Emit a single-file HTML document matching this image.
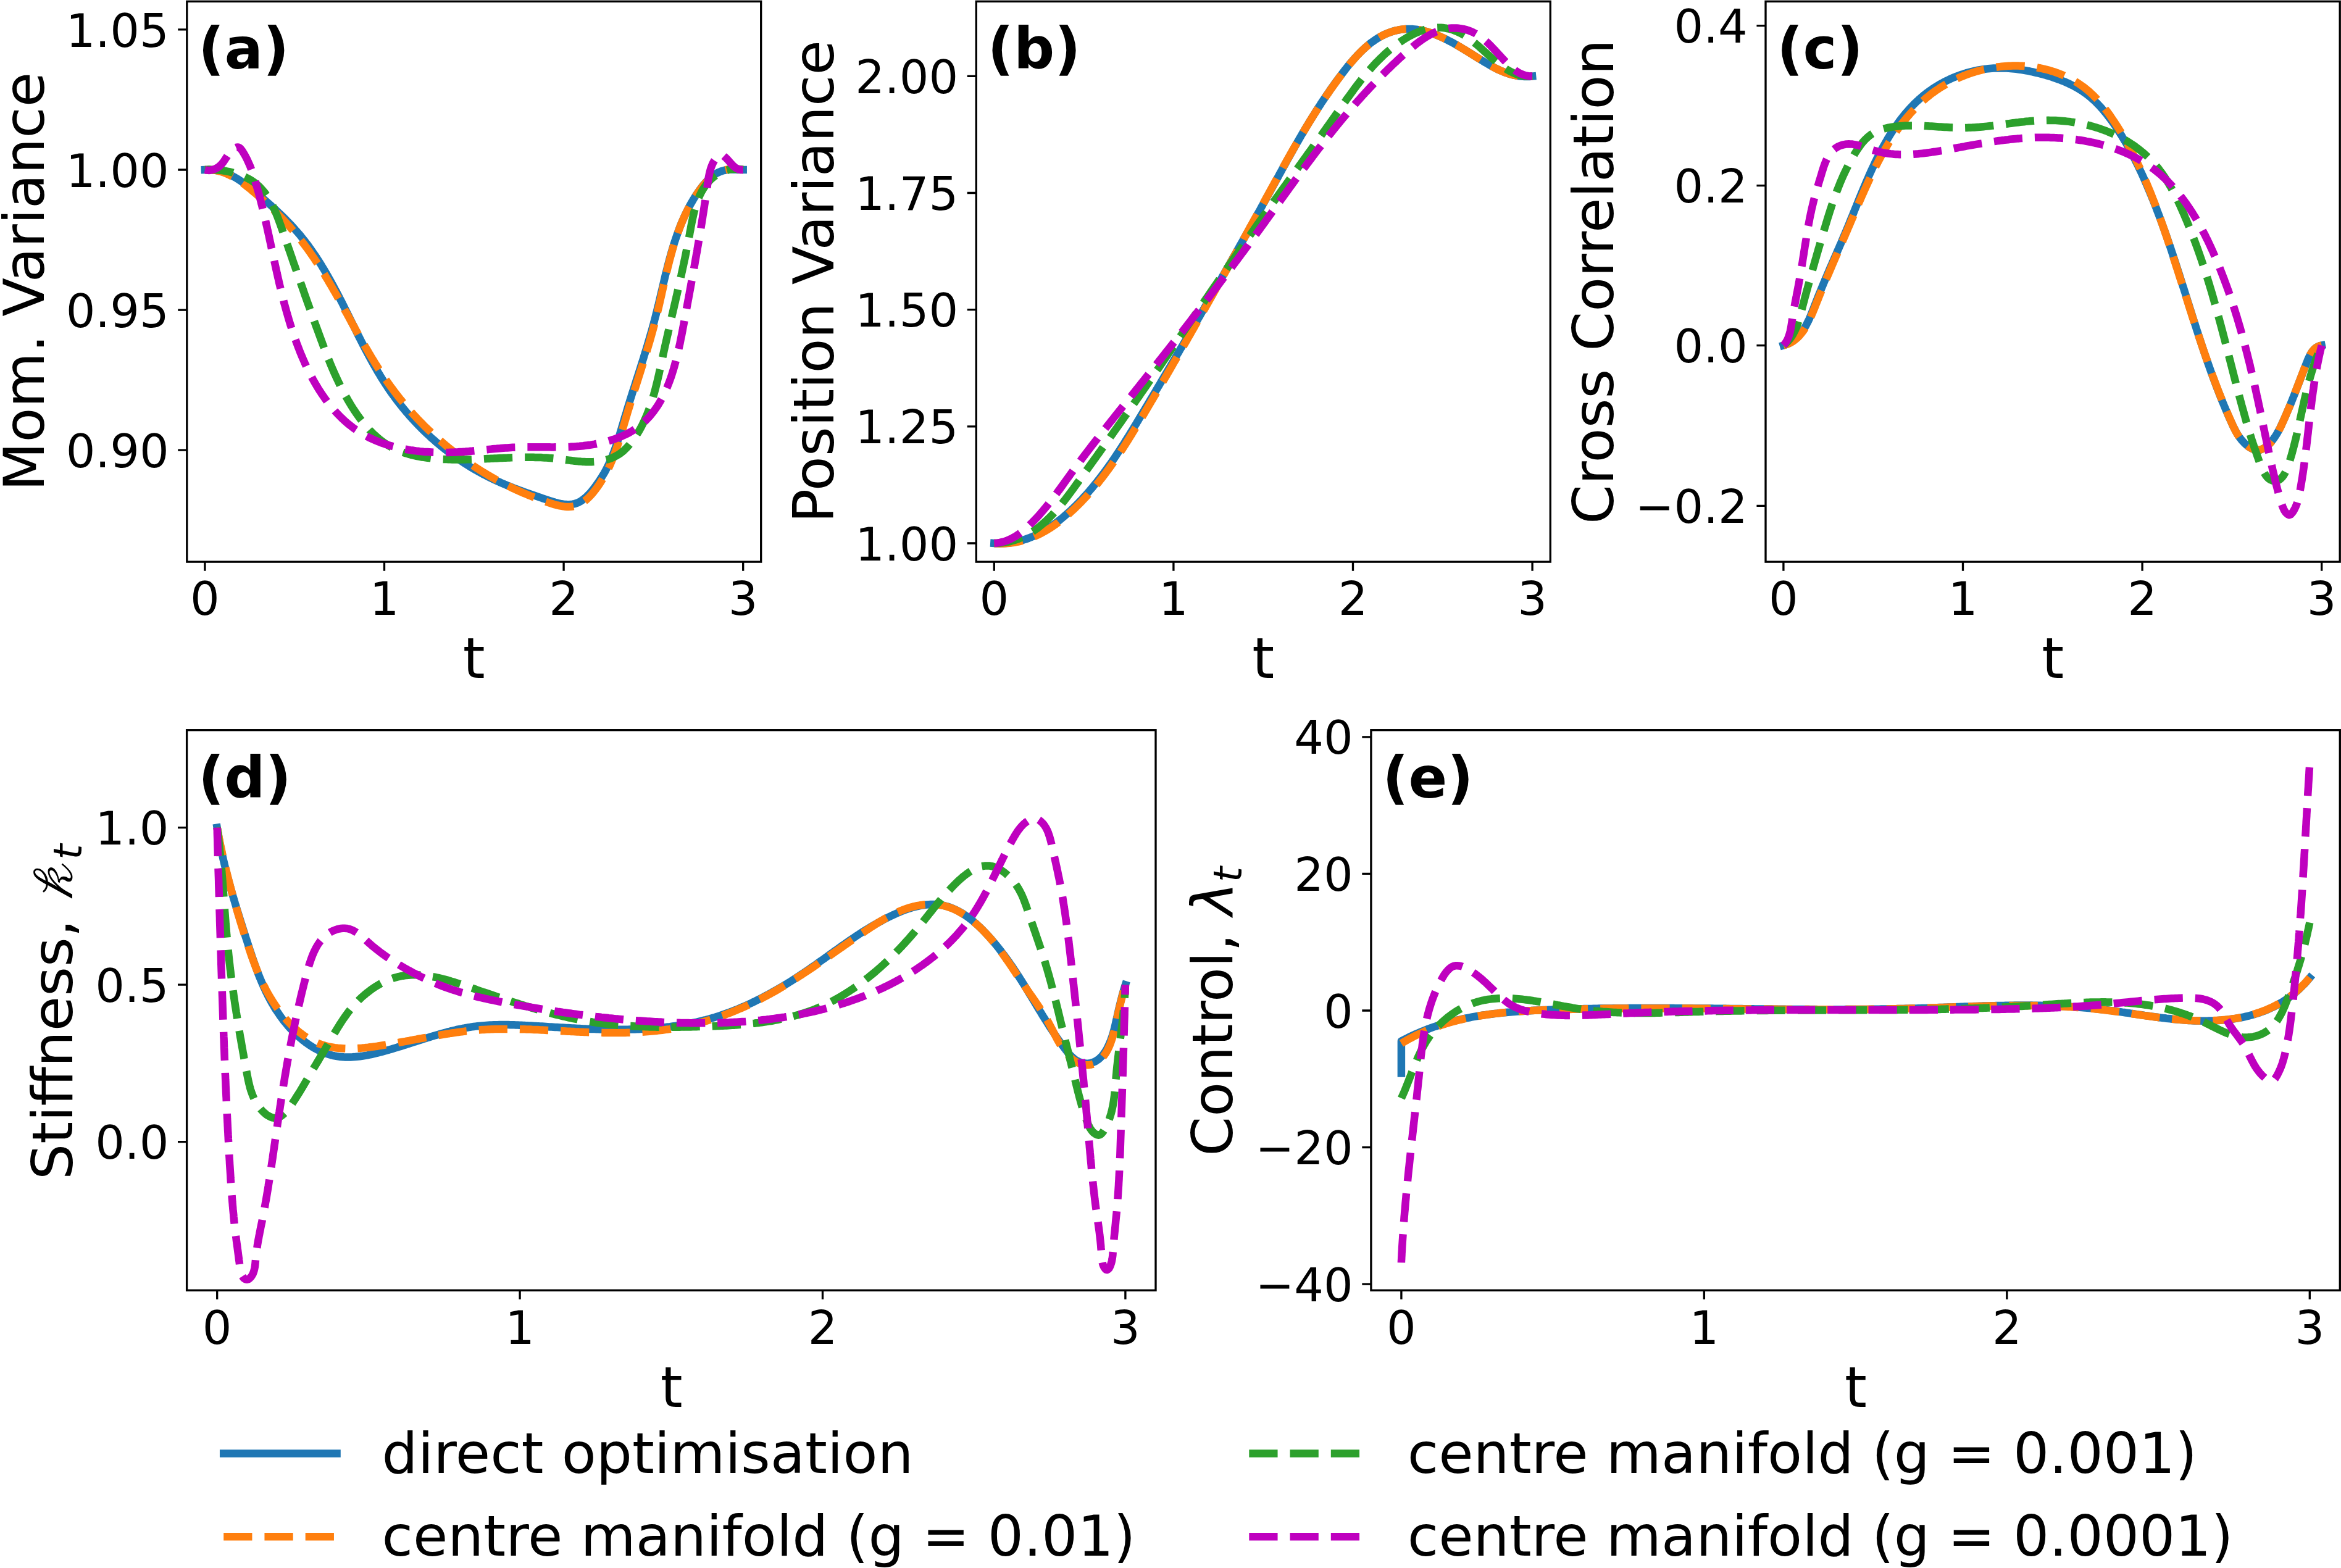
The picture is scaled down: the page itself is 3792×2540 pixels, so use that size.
<!DOCTYPE html>
<html lang="en"><head><meta charset="utf-8"><title>Figure</title>
<style>html,body{margin:0;padding:0;background:#fff}svg{display:block}text{fill:#000}</style></head><body>
<svg width="3792" height="2540" viewBox="0 0 3792 2540">
<rect width="3792" height="2540" fill="#fff"/>
<g>
<path d="M331.9 275.0L335.2 274.9L338.4 274.8L341.6 275.0L344.7 275.2L347.7 275.5L350.7 276.0L353.7 276.6L356.6 277.3L359.5 278.1L362.3 279.0L365.0 279.9L367.8 281.0L370.5 282.2L373.1 283.4L375.8 284.7L378.3 286.1L380.9 287.5L383.4 289.0L385.9 290.6L388.4 292.2L390.9 293.9L393.3 295.6L395.7 297.3L398.1 299.1L400.5 300.9L402.9 302.8L405.3 304.6L407.6 306.5L410.0 308.4L412.3 310.3L414.7 312.2L417.0 314.2L419.4 316.1L421.7 318.0L424.0 320.0L426.3 322.0L428.7 323.9L431.0 325.9L433.2 327.9L435.5 329.9L437.8 331.9L440.1 334.0L442.3 336.0L444.6 338.0L446.8 340.1L449.0 342.2L451.2 344.3L453.4 346.3L455.6 348.5L457.8 350.6L460.0 352.7L462.1 354.8L464.2 357.0L466.3 359.2L468.4 361.3L470.5 363.5L472.6 365.8L474.6 368.0L476.6 370.2L478.6 372.5L480.6 374.7L482.6 377.0L484.6 379.3L486.5 381.6L488.4 383.9L490.3 386.3L492.1 388.6L494.0 391.0L495.8 393.4L497.6 395.7L499.4 398.1L501.2 400.6L502.9 403.0L504.7 405.4L506.4 407.9L508.1 410.4L509.7 412.8L511.4 415.3L513.1 417.8L514.7 420.3L516.3 422.9L517.9 425.4L519.5 427.9L521.1 430.5L522.6 433.1L524.2 435.6L525.7 438.2L527.3 440.8L528.8 443.4L530.3 446.0L531.8 448.6L533.2 451.2L534.7 453.9L536.2 456.5L537.6 459.1L539.1 461.8L540.5 464.4L541.9 467.1L543.3 469.8L544.8 472.4L546.2 475.1L547.6 477.8L548.9 480.5L550.3 483.2L551.7 485.8L553.1 488.5L554.5 491.2L555.8 493.9L557.2 496.6L558.5 499.4L559.9 502.1L561.2 504.8L562.6 507.5L563.9 510.2L565.3 512.9L566.6 515.6L568.0 518.3L569.3 521.1L570.7 523.8L572.0 526.5L573.4 529.2L574.7 531.9L576.1 534.6L577.4 537.3L578.8 540.1L580.1 542.8L581.5 545.5L582.8 548.2L584.2 550.9L585.6 553.6L587.0 556.3L588.3 559.0L589.7 561.6L591.1 564.3L592.5 567.0L593.9 569.7L595.3 572.3L596.8 575.0L598.2 577.7L599.6 580.3L601.1 583.0L602.5 585.6L604.0 588.2L605.5 590.9L607.0 593.5L608.5 596.1L610.0 598.7L611.5 601.3L613.0 603.9L614.6 606.4L616.1 609.0L617.7 611.6L619.3 614.1L620.9 616.7L622.5 619.2L624.1 621.7L625.8 624.2L627.4 626.7L629.1 629.2L630.8 631.7L632.5 634.2L634.2 636.6L636.0 639.1L637.8 641.5L639.5 643.9L641.3 646.3L643.1 648.7L644.9 651.1L646.8 653.4L648.6 655.8L650.5 658.1L652.4 660.5L654.3 662.8L656.2 665.1L658.1 667.4L660.1 669.7L662.1 671.9L664.0 674.2L666.0 676.4L668.0 678.6L670.1 680.8L672.1 683.0L674.2 685.2L676.2 687.4L678.3 689.5L680.4 691.7L682.5 693.8L684.6 695.9L686.8 698.0L688.9 700.1L691.1 702.2L693.3 704.2L695.5 706.2L697.7 708.3L699.9 710.3L702.2 712.2L704.4 714.2L706.7 716.2L709.0 718.1L711.3 720.0L713.6 722.0L715.9 723.8L718.2 725.7L720.6 727.6L722.9 729.4L725.3 731.3L727.7 733.1L730.1 734.9L732.5 736.6L734.9 738.4L737.4 740.1L739.8 741.9L742.3 743.6L744.7 745.2L747.2 746.9L749.7 748.6L752.2 750.2L754.7 751.8L757.3 753.4L759.8 755.0L762.4 756.6L764.9 758.1L767.5 759.6L770.1 761.2L772.7 762.6L775.3 764.1L778.0 765.6L780.6 767.0L783.2 768.4L785.9 769.8L788.6 771.2L791.3 772.5L793.9 773.9L796.6 775.2L799.4 776.5L802.1 777.7L804.8 779.0L807.6 780.2L810.3 781.5L813.1 782.7L815.8 783.9L818.6 785.0L821.4 786.2L824.2 787.3L827.0 788.5L829.8 789.6L832.6 790.7L835.5 791.8L838.3 792.9L841.2 794.0L844.0 795.0L846.9 796.1L849.7 797.1L852.6 798.2L855.5 799.2L858.4 800.2L861.3 801.2L864.2 802.2L867.1 803.2L870.0 804.2L872.9 805.2L875.8 806.2L878.7 807.2L881.6 808.1L884.6 809.1L887.5 810.1L890.5 811.1L893.4 812.0L896.3 812.9L899.3 813.8L902.2 814.6L905.1 815.3L908.0 815.9L910.9 816.4L913.8 816.9L916.6 817.1L919.4 817.3L922.2 817.3L925.0 817.1L927.8 816.7L930.5 816.1L933.1 815.4L935.8 814.4L938.4 813.1L940.9 811.7L943.4 810.0L945.9 808.1L948.3 806.1L950.6 804.0L952.9 801.7L955.2 799.3L957.4 796.8L959.5 794.3L961.6 791.7L963.6 789.0L965.5 786.4L967.4 783.8L969.2 781.1L971.0 778.6L972.6 776.0L974.3 773.5L975.8 771.0L977.3 768.6L978.8 766.1L980.2 763.6L981.5 761.1L982.8 758.6L984.1 756.1L985.4 753.5L986.6 750.9L987.8 748.2L989.0 745.6L990.1 742.9L991.3 740.1L992.4 737.4L993.4 734.6L994.5 731.9L995.5 729.1L996.5 726.2L997.5 723.4L998.5 720.5L999.4 717.7L1000.4 714.8L1001.3 711.9L1002.2 709.0L1003.2 706.1L1004.1 703.2L1004.9 700.2L1005.8 697.3L1006.7 694.4L1007.6 691.4L1008.4 688.5L1009.3 685.6L1010.2 682.6L1011.1 679.7L1011.9 676.7L1012.8 673.8L1013.7 670.9L1014.6 668.0L1015.4 665.1L1016.3 662.2L1017.2 659.3L1018.1 656.4L1019.0 653.5L1019.9 650.6L1020.8 647.7L1021.7 644.8L1022.6 642.0L1023.5 639.1L1024.4 636.2L1025.3 633.4L1026.3 630.5L1027.2 627.6L1028.1 624.8L1029.0 621.9L1029.9 619.1L1030.8 616.2L1031.7 613.4L1032.6 610.5L1033.6 607.7L1034.5 604.8L1035.4 602.0L1036.3 599.2L1037.2 596.3L1038.1 593.5L1039.0 590.6L1039.9 587.8L1040.8 584.9L1041.7 582.1L1042.6 579.3L1043.4 576.4L1044.3 573.6L1045.2 570.7L1046.1 567.9L1047.0 565.0L1047.8 562.2L1048.7 559.3L1049.5 556.5L1050.4 553.6L1051.2 550.7L1052.1 547.9L1052.9 545.0L1053.7 542.1L1054.6 539.2L1055.4 536.4L1056.2 533.5L1057.0 530.6L1057.8 527.7L1058.6 524.8L1059.4 521.9L1060.1 519.0L1060.9 516.0L1061.7 513.1L1062.4 510.2L1063.1 507.3L1063.9 504.3L1064.6 501.4L1065.3 498.4L1066.0 495.5L1066.8 492.5L1067.5 489.6L1068.2 486.6L1068.9 483.6L1069.6 480.7L1070.3 477.7L1071.0 474.7L1071.7 471.8L1072.4 468.8L1073.1 465.8L1073.8 462.9L1074.5 459.9L1075.2 456.9L1075.9 453.9L1076.6 451.0L1077.3 448.0L1078.0 445.0L1078.8 442.1L1079.5 439.1L1080.3 436.2L1081.0 433.2L1081.8 430.2L1082.5 427.3L1083.3 424.4L1084.1 421.4L1084.9 418.5L1085.7 415.5L1086.5 412.6L1087.3 409.7L1088.2 406.8L1089.0 403.9L1089.9 401.0L1090.8 398.1L1091.7 395.2L1092.6 392.4L1093.6 389.5L1094.5 386.6L1095.5 383.8L1096.5 380.9L1097.5 378.1L1098.5 375.3L1099.5 372.5L1100.6 369.7L1101.7 366.9L1102.8 364.1L1103.9 361.4L1105.1 358.6L1106.3 355.9L1107.5 353.1L1108.7 350.4L1110.0 347.7L1111.2 345.1L1112.6 342.4L1113.9 339.7L1115.3 337.1L1116.6 334.5L1118.1 331.8L1119.5 329.2L1121.0 326.7L1122.5 324.1L1124.0 321.6L1125.6 319.0L1127.2 316.5L1128.9 314.0L1130.5 311.6L1132.3 309.1L1134.0 306.7L1135.8 304.3L1137.6 301.9L1139.5 299.5L1141.4 297.3L1143.4 295.0L1145.4 292.9L1147.5 290.8L1149.6 288.8L1151.8 286.9L1154.1 285.1L1156.5 283.4L1158.9 281.8L1161.4 280.4L1164.0 279.1L1166.7 278.0L1169.5 277.0L1172.4 276.1L1175.4 275.5L1178.5 275.0L1181.7 274.7L1184.9 274.6L1188.2 274.7L1191.5 274.7L1194.8 274.9L1197.9 275.0L1200.9 275.0L1203.7 275.0" fill="none" stroke="#1f77b4" stroke-width="12.50" stroke-linecap="square" stroke-linejoin="round"/>
<path d="M331.9 275.0L335.1 274.9L338.3 274.9L341.4 275.1L344.5 275.3L347.5 275.7L350.5 276.2L353.4 276.9L356.3 277.6L359.1 278.4L361.9 279.3L364.7 280.4L367.4 281.5L370.1 282.7L372.8 284.0L375.4 285.3L378.0 286.7L380.5 288.2L383.1 289.8L385.6 291.4L388.0 293.0L390.5 294.8L392.9 296.5L395.3 298.3L397.7 300.1L400.1 302.0L402.5 303.9L404.8 305.8L407.2 307.7L409.5 309.7L411.8 311.6L414.1 313.6L416.4 315.6L418.7 317.5L421.0 319.5L423.3 321.5L425.5 323.6L427.8 325.6L430.0 327.6L432.3 329.7L434.5 331.7L436.7 333.8L438.9 335.9L441.1 338.0L443.2 340.1L445.4 342.2L447.5 344.3L449.7 346.4L451.8 348.6L453.9 350.7L456.0 352.9L458.1 355.1L460.1 357.3L462.2 359.5L464.2 361.7L466.2 363.9L468.3 366.1L470.3 368.4L472.2 370.7L474.2 372.9L476.1 375.2L478.1 377.5L480.0 379.8L481.9 382.1L483.8 384.5L485.6 386.8L487.5 389.2L489.3 391.5L491.1 393.9L493.0 396.3L494.7 398.7L496.5 401.1L498.3 403.5L500.0 405.9L501.8 408.4L503.5 410.8L505.2 413.3L506.9 415.8L508.6 418.2L510.2 420.7L511.9 423.2L513.5 425.7L515.2 428.2L516.8 430.7L518.4 433.3L520.0 435.8L521.6 438.3L523.2 440.9L524.8 443.4L526.3 446.0L527.9 448.6L529.4 451.1L531.0 453.7L532.5 456.3L534.0 458.9L535.6 461.5L537.1 464.1L538.6 466.7L540.1 469.3L541.6 471.9L543.1 474.5L544.6 477.1L546.1 479.7L547.5 482.4L549.0 485.0L550.5 487.6L551.9 490.3L553.4 492.9L554.9 495.5L556.3 498.2L557.8 500.8L559.2 503.5L560.7 506.1L562.2 508.7L563.6 511.4L565.1 514.0L566.5 516.7L568.0 519.3L569.4 522.0L570.9 524.6L572.3 527.2L573.8 529.9L575.2 532.5L576.7 535.2L578.2 537.8L579.6 540.4L581.1 543.1L582.6 545.7L584.1 548.3L585.5 551.0L587.0 553.6L588.5 556.2L590.0 558.8L591.5 561.4L593.0 564.0L594.6 566.6L596.1 569.2L597.6 571.8L599.1 574.4L600.7 577.0L602.2 579.6L603.8 582.1L605.4 584.7L606.9 587.3L608.5 589.8L610.1 592.4L611.7 594.9L613.3 597.4L615.0 600.0L616.6 602.5L618.2 605.0L619.9 607.5L621.6 610.0L623.2 612.5L624.9 615.0L626.6 617.4L628.4 619.9L630.1 622.3L631.8 624.8L633.6 627.2L635.4 629.6L637.2 632.0L639.0 634.4L640.8 636.8L642.6 639.2L644.5 641.6L646.3 643.9L648.2 646.3L650.1 648.6L652.0 650.9L653.9 653.3L655.8 655.6L657.8 657.9L659.7 660.1L661.7 662.4L663.7 664.7L665.7 666.9L667.7 669.2L669.7 671.4L671.7 673.6L673.8 675.8L675.8 678.0L677.9 680.2L680.0 682.3L682.1 684.5L684.2 686.6L686.3 688.8L688.4 690.9L690.6 693.0L692.7 695.1L694.9 697.2L697.1 699.2L699.2 701.3L701.5 703.3L703.7 705.4L705.9 707.4L708.1 709.4L710.4 711.4L712.6 713.4L714.9 715.3L717.2 717.3L719.5 719.2L721.8 721.2L724.1 723.1L726.4 725.0L728.8 726.9L731.1 728.7L733.5 730.6L735.8 732.5L738.2 734.3L740.6 736.1L743.0 737.9L745.4 739.7L747.8 741.5L750.2 743.2L752.7 745.0L755.1 746.7L757.6 748.4L760.0 750.1L762.5 751.8L765.0 753.5L767.5 755.2L770.0 756.8L772.5 758.5L775.0 760.1L777.5 761.7L780.1 763.3L782.6 764.8L785.2 766.4L787.7 767.9L790.3 769.5L792.9 771.0L795.5 772.5L798.1 773.9L800.7 775.4L803.3 776.9L805.9 778.3L808.6 779.7L811.2 781.1L813.9 782.5L816.5 783.9L819.2 785.2L821.9 786.6L824.5 787.9L827.2 789.2L829.9 790.5L832.7 791.8L835.4 793.0L838.1 794.3L840.9 795.5L843.6 796.8L846.4 798.0L849.2 799.2L852.0 800.3L854.8 801.5L857.6 802.7L860.4 803.8L863.2 804.9L866.1 806.0L868.9 807.1L871.8 808.2L874.7 809.3L877.6 810.3L880.5 811.4L883.4 812.4L886.3 813.4L889.2 814.4L892.2 815.4L895.1 816.3L898.1 817.2L901.1 818.0L904.0 818.7L906.9 819.4L909.9 819.9L912.8 820.4L915.7 820.7L918.5 820.9L921.4 820.9L924.2 820.8L927.0 820.5L929.7 820.0L932.4 819.4L935.1 818.5L937.7 817.4L940.3 816.1L942.8 814.6L945.3 812.9L947.7 811.1L950.1 809.1L952.4 807.0L954.7 804.8L956.9 802.5L959.0 800.1L961.1 797.6L963.1 795.0L965.1 792.5L967.0 789.8L968.9 787.2L970.7 784.6L972.4 782.0L974.0 779.4L975.6 776.9L977.2 774.3L978.7 771.8L980.1 769.2L981.5 766.7L982.9 764.1L984.2 761.5L985.5 758.9L986.8 756.2L988.0 753.6L989.2 750.9L990.3 748.2L991.5 745.5L992.6 742.7L993.7 740.0L994.8 737.2L995.8 734.4L996.8 731.6L997.9 728.8L998.8 725.9L999.8 723.1L1000.8 720.2L1001.7 717.3L1002.6 714.5L1003.6 711.6L1004.5 708.7L1005.4 705.8L1006.2 702.9L1007.1 700.0L1008.0 697.0L1008.9 694.1L1009.7 691.2L1010.6 688.3L1011.4 685.4L1012.3 682.5L1013.2 679.5L1014.0 676.6L1014.9 673.7L1015.8 670.8L1016.6 667.9L1017.5 665.0L1018.4 662.2L1019.3 659.3L1020.2 656.4L1021.1 653.5L1021.9 650.7L1022.8 647.8L1023.7 644.9L1024.6 642.1L1025.5 639.2L1026.4 636.3L1027.3 633.5L1028.2 630.6L1029.2 627.8L1030.1 624.9L1031.0 622.1L1031.9 619.3L1032.8 616.4L1033.7 613.6L1034.6 610.7L1035.5 607.9L1036.4 605.1L1037.3 602.2L1038.2 599.4L1039.1 596.5L1040.0 593.7L1040.9 590.9L1041.8 588.0L1042.6 585.2L1043.5 582.3L1044.4 579.5L1045.3 576.6L1046.2 573.8L1047.0 570.9L1047.9 568.1L1048.7 565.2L1049.6 562.4L1050.4 559.5L1051.3 556.7L1052.1 553.8L1053.0 550.9L1053.8 548.1L1054.6 545.2L1055.4 542.3L1056.2 539.4L1057.0 536.5L1057.8 533.6L1058.6 530.7L1059.4 527.8L1060.1 524.9L1060.9 522.0L1061.7 519.1L1062.4 516.2L1063.1 513.2L1063.9 510.3L1064.6 507.3L1065.3 504.4L1066.0 501.4L1066.7 498.5L1067.4 495.5L1068.1 492.6L1068.8 489.6L1069.4 486.6L1070.1 483.6L1070.8 480.7L1071.5 477.7L1072.1 474.7L1072.8 471.7L1073.5 468.7L1074.1 465.8L1074.8 462.8L1075.5 459.8L1076.2 456.8L1076.8 453.8L1077.5 450.9L1078.2 447.9L1078.9 444.9L1079.6 441.9L1080.3 439.0L1081.0 436.0L1081.7 433.0L1082.5 430.1L1083.2 427.1L1084.0 424.2L1084.7 421.2L1085.5 418.3L1086.3 415.3L1087.1 412.4L1087.9 409.5L1088.7 406.6L1089.5 403.7L1090.4 400.8L1091.2 397.9L1092.1 395.0L1093.0 392.1L1093.9 389.2L1094.8 386.4L1095.8 383.5L1096.8 380.7L1097.8 377.9L1098.8 375.1L1099.8 372.3L1100.8 369.5L1101.9 366.7L1103.0 363.9L1104.1 361.1L1105.3 358.4L1106.4 355.7L1107.6 353.0L1108.9 350.2L1110.1 347.6L1111.4 344.9L1112.7 342.2L1114.0 339.6L1115.4 337.0L1116.8 334.3L1118.2 331.7L1119.6 329.2L1121.1 326.6L1122.6 324.1L1124.2 321.5L1125.8 319.0L1127.4 316.5L1129.1 314.1L1130.7 311.6L1132.5 309.2L1134.2 306.8L1136.0 304.4L1137.9 302.0L1139.8 299.7L1141.7 297.5L1143.7 295.3L1145.7 293.1L1147.8 291.0L1149.9 289.0L1152.2 287.1L1154.4 285.3L1156.8 283.6L1159.2 282.0L1161.6 280.6L1164.2 279.2L1166.8 278.0L1169.5 276.9L1172.3 276.0L1175.2 275.2L1178.1 274.6L1181.2 274.2L1184.3 273.9L1187.5 273.8L1190.7 273.8L1194.0 274.0L1197.2 274.2L1200.5 274.6L1203.7 275.0" fill="none" stroke="#ff7f0e" stroke-width="12.50" stroke-dasharray="46.25 20" stroke-linecap="butt" stroke-linejoin="round"/>
<path d="M331.9 275.0L334.8 274.9L337.7 274.8L340.7 274.8L343.7 274.9L346.7 275.0L349.7 275.2L352.8 275.4L355.8 275.7L358.9 276.1L361.9 276.5L365.0 277.0L368.0 277.6L371.0 278.2L374.1 278.9L377.1 279.6L380.0 280.5L383.0 281.3L385.9 282.3L388.8 283.3L391.6 284.4L394.4 285.6L397.1 286.9L399.8 288.2L402.5 289.6L405.1 291.0L407.6 292.6L410.0 294.2L412.4 295.9L414.7 297.6L416.9 299.5L419.0 301.4L421.1 303.4L423.1 305.5L425.0 307.6L426.9 309.8L428.7 312.0L430.4 314.3L432.1 316.7L433.7 319.1L435.2 321.6L436.7 324.1L438.2 326.7L439.6 329.3L441.0 331.9L442.3 334.6L443.6 337.3L444.8 340.1L446.0 342.8L447.2 345.6L448.4 348.5L449.5 351.3L450.6 354.2L451.7 357.1L452.7 360.0L453.8 362.9L454.8 365.8L455.9 368.7L456.9 371.6L457.9 374.5L458.9 377.5L459.9 380.4L460.9 383.3L461.9 386.2L462.9 389.1L463.9 392.0L465.0 394.9L466.0 397.8L467.0 400.7L468.0 403.6L469.0 406.4L470.0 409.3L471.0 412.2L472.0 415.1L473.0 417.9L473.9 420.8L474.9 423.7L475.9 426.5L476.9 429.4L477.9 432.2L478.9 435.1L479.9 437.9L480.9 440.8L481.9 443.6L482.9 446.5L483.9 449.3L484.9 452.1L485.9 455.0L486.9 457.8L487.9 460.6L488.9 463.4L489.9 466.3L490.9 469.1L491.9 471.9L492.8 474.7L493.8 477.6L494.8 480.4L495.8 483.2L496.8 486.0L497.8 488.8L498.8 491.6L499.8 494.4L500.8 497.2L501.8 500.0L502.8 502.8L503.9 505.6L504.9 508.4L505.9 511.3L506.9 514.1L507.9 516.9L508.9 519.7L509.9 522.5L510.9 525.3L511.9 528.0L512.9 530.8L514.0 533.6L515.0 536.4L516.0 539.2L517.0 542.0L518.1 544.8L519.1 547.6L520.1 550.4L521.2 553.2L522.2 556.0L523.2 558.8L524.3 561.6L525.3 564.4L526.4 567.2L527.5 570.0L528.6 572.7L529.6 575.5L530.7 578.3L531.8 581.1L533.0 583.9L534.1 586.6L535.2 589.4L536.4 592.2L537.5 594.9L538.7 597.7L539.9 600.4L541.1 603.2L542.3 605.9L543.6 608.7L544.8 611.4L546.1 614.2L547.4 616.9L548.7 619.6L550.0 622.3L551.3 625.1L552.7 627.8L554.1 630.5L555.5 633.2L556.9 635.9L558.3 638.6L559.8 641.3L561.3 643.9L562.8 646.6L564.3 649.3L565.9 651.9L567.5 654.6L569.1 657.2L570.7 659.8L572.4 662.4L574.1 665.0L575.8 667.5L577.5 670.1L579.3 672.6L581.1 675.1L582.9 677.6L584.7 680.0L586.6 682.4L588.5 684.8L590.4 687.2L592.4 689.5L594.4 691.8L596.4 694.0L598.4 696.3L600.5 698.4L602.6 700.6L604.8 702.7L606.9 704.7L609.1 706.7L611.4 708.7L613.6 710.6L615.9 712.4L618.3 714.2L620.6 716.0L623.0 717.7L625.5 719.3L627.9 720.9L630.4 722.4L633.0 723.9L635.5 725.3L638.2 726.6L640.8 727.9L643.5 729.1L646.2 730.2L648.9 731.3L651.7 732.4L654.5 733.3L657.3 734.3L660.1 735.1L663.0 736.0L665.9 736.8L668.8 737.5L671.7 738.2L674.6 738.8L677.6 739.4L680.6 739.9L683.6 740.5L686.6 740.9L689.6 741.4L692.6 741.8L695.6 742.1L698.7 742.5L701.7 742.8L704.8 743.0L707.8 743.3L710.9 743.5L714.0 743.7L717.0 743.9L720.1 744.0L723.1 744.1L726.2 744.2L729.2 744.3L732.2 744.4L735.3 744.4L738.3 744.4L741.3 744.5L744.4 744.5L747.4 744.4L750.4 744.4L753.4 744.4L756.4 744.3L759.5 744.2L762.5 744.2L765.5 744.1L768.5 744.0L771.5 743.9L774.5 743.8L777.5 743.6L780.5 743.5L783.5 743.4L786.5 743.2L789.5 743.1L792.4 743.0L795.4 742.8L798.4 742.7L801.4 742.5L804.4 742.4L807.4 742.2L810.4 742.1L813.3 742.0L816.3 741.8L819.3 741.7L822.3 741.6L825.2 741.4L828.2 741.3L831.2 741.2L834.2 741.1L837.1 741.0L840.1 740.9L843.1 740.9L846.1 740.8L849.1 740.8L852.0 740.8L855.0 740.7L858.0 740.7L861.0 740.8L864.0 740.8L867.0 740.9L870.0 740.9L873.0 741.0L876.0 741.1L879.0 741.3L882.0 741.4L885.0 741.6L888.0 741.8L891.1 742.1L894.1 742.3L897.2 742.6L900.2 743.0L903.3 743.3L906.3 743.7L909.4 744.1L912.5 744.5L915.5 744.9L918.6 745.3L921.7 745.6L924.8 746.0L927.9 746.4L930.9 746.8L934.0 747.1L937.1 747.4L940.2 747.6L943.2 747.9L946.3 748.0L949.3 748.2L952.4 748.2L955.4 748.2L958.4 748.2L961.5 748.1L964.5 747.9L967.5 747.6L970.4 747.2L973.4 746.8L976.3 746.2L979.2 745.6L982.1 744.9L985.0 744.0L987.7 743.1L990.5 742.1L993.2 740.9L995.8 739.7L998.4 738.3L1000.9 736.9L1003.4 735.3L1005.8 733.6L1008.1 731.8L1010.3 729.9L1012.5 727.8L1014.6 725.8L1016.6 723.6L1018.6 721.4L1020.5 719.1L1022.4 716.8L1024.2 714.4L1026.0 712.1L1027.7 709.6L1029.4 707.2L1031.0 704.7L1032.6 702.2L1034.1 699.7L1035.6 697.2L1037.1 694.6L1038.5 692.0L1039.9 689.4L1041.2 686.7L1042.5 684.0L1043.8 681.3L1045.0 678.6L1046.2 675.9L1047.4 673.1L1048.5 670.4L1049.6 667.6L1050.7 664.7L1051.8 661.9L1052.8 659.1L1053.8 656.2L1054.7 653.3L1055.6 650.4L1056.6 647.5L1057.5 644.6L1058.3 641.7L1059.2 638.7L1060.0 635.8L1060.8 632.8L1061.6 629.9L1062.4 626.9L1063.1 623.9L1063.9 620.9L1064.6 617.9L1065.3 614.9L1066.0 611.9L1066.7 608.9L1067.4 605.9L1068.0 602.9L1068.7 599.9L1069.4 596.9L1070.0 593.9L1070.7 590.9L1071.3 587.9L1072.0 584.9L1072.6 581.9L1073.3 578.9L1073.9 576.0L1074.5 573.0L1075.2 570.0L1075.8 567.1L1076.5 564.1L1077.1 561.2L1077.8 558.2L1078.5 555.3L1079.1 552.3L1079.8 549.4L1080.4 546.5L1081.1 543.6L1081.8 540.7L1082.4 537.8L1083.1 534.8L1083.7 531.9L1084.4 529.0L1085.1 526.2L1085.7 523.3L1086.4 520.4L1087.1 517.5L1087.7 514.6L1088.4 511.7L1089.1 508.8L1089.8 506.0L1090.4 503.1L1091.1 500.2L1091.8 497.3L1092.4 494.4L1093.1 491.6L1093.8 488.7L1094.4 485.8L1095.1 482.9L1095.7 480.1L1096.4 477.2L1097.1 474.3L1097.7 471.4L1098.4 468.5L1099.0 465.6L1099.7 462.7L1100.3 459.9L1101.0 457.0L1101.6 454.1L1102.3 451.2L1102.9 448.3L1103.6 445.3L1104.2 442.4L1104.9 439.5L1105.5 436.6L1106.1 433.7L1106.8 430.7L1107.4 427.8L1108.0 424.9L1108.6 421.9L1109.3 419.0L1109.9 416.0L1110.5 413.0L1111.1 410.1L1111.7 407.1L1112.3 404.1L1112.9 401.1L1113.5 398.1L1114.1 395.1L1114.7 392.0L1115.2 389.0L1115.8 386.0L1116.4 382.9L1117.0 379.9L1117.5 376.8L1118.1 373.7L1118.7 370.7L1119.2 367.6L1119.8 364.5L1120.4 361.4L1121.0 358.4L1121.7 355.3L1122.3 352.3L1123.0 349.2L1123.7 346.2L1124.4 343.2L1125.2 340.3L1126.0 337.3L1126.9 334.4L1127.8 331.5L1128.7 328.6L1129.7 325.8L1130.8 323.0L1131.9 320.3L1133.0 317.6L1134.3 314.9L1135.6 312.3L1136.9 309.7L1138.4 307.2L1139.9 304.8L1141.5 302.4L1143.2 300.0L1144.9 297.8L1146.8 295.5L1148.7 293.4L1150.8 291.3L1152.9 289.3L1155.1 287.4L1157.4 285.6L1159.8 283.9L1162.3 282.3L1164.8 280.8L1167.4 279.5L1170.1 278.2L1172.9 277.1L1175.7 276.2L1178.6 275.4L1181.5 274.7L1184.5 274.2L1187.6 273.9L1190.7 273.7L1193.9 273.7L1197.1 274.0L1200.4 274.4L1203.7 275.0" fill="none" stroke="#2ca02c" stroke-width="12.50" stroke-dasharray="46.25 20" stroke-linecap="butt" stroke-linejoin="round"/>
<path d="M331.9 275.0L334.8 275.6L337.8 275.9L340.8 275.7L343.8 275.1L346.7 274.2L349.6 273.0L352.3 271.5L354.8 269.8L357.1 267.8L359.2 265.6L361.1 263.3L362.9 260.8L364.6 258.3L366.2 255.7L367.9 253.2L369.5 250.6L371.3 248.2L373.2 245.8L375.3 243.6L377.7 241.6L380.2 239.9L382.9 238.7L385.5 238.4L387.8 239.3L389.9 241.1L391.9 243.6L393.7 246.4L395.4 249.2L397.0 252.1L398.5 254.9L400.0 257.7L401.3 260.6L402.6 263.5L403.9 266.3L405.1 269.2L406.2 272.0L407.3 274.9L408.3 277.7L409.3 280.6L410.3 283.5L411.2 286.3L412.1 289.2L413.0 292.1L413.9 295.0L414.7 297.8L415.5 300.7L416.4 303.6L417.2 306.5L418.0 309.3L418.8 312.2L419.6 315.1L420.3 318.0L421.1 320.9L421.9 323.8L422.6 326.6L423.3 329.5L424.1 332.4L424.8 335.3L425.5 338.2L426.2 341.1L426.9 344.0L427.6 346.9L428.3 349.8L428.9 352.6L429.6 355.5L430.3 358.4L430.9 361.3L431.6 364.2L432.3 367.1L432.9 370.0L433.5 372.9L434.2 375.8L434.8 378.7L435.5 381.6L436.1 384.5L436.7 387.4L437.3 390.3L438.0 393.2L438.6 396.1L439.2 399.0L439.8 402.0L440.5 404.9L441.1 407.8L441.7 410.7L442.3 413.6L443.0 416.5L443.6 419.4L444.2 422.3L444.9 425.2L445.5 428.1L446.1 431.0L446.8 434.0L447.4 436.9L448.1 439.8L448.7 442.7L449.4 445.6L450.0 448.5L450.7 451.4L451.4 454.4L452.0 457.3L452.7 460.2L453.4 463.1L454.1 466.0L454.8 468.9L455.5 471.8L456.2 474.8L457.0 477.7L457.7 480.6L458.4 483.5L459.2 486.4L459.9 489.3L460.7 492.3L461.5 495.2L462.3 498.1L463.1 501.0L463.9 503.9L464.7 506.8L465.6 509.8L466.4 512.7L467.3 515.6L468.1 518.5L469.0 521.4L469.9 524.4L470.8 527.3L471.8 530.2L472.7 533.1L473.7 536.0L474.6 538.9L475.6 541.9L476.6 544.8L477.6 547.7L478.7 550.6L479.7 553.5L480.8 556.4L481.9 559.3L483.0 562.2L484.1 565.0L485.2 567.9L486.3 570.8L487.5 573.6L488.7 576.5L489.9 579.3L491.1 582.1L492.4 585.0L493.6 587.8L494.9 590.6L496.2 593.4L497.5 596.1L498.8 598.9L500.2 601.6L501.6 604.4L502.9 607.1L504.4 609.8L505.8 612.5L507.2 615.1L508.7 617.8L510.2 620.4L511.7 623.0L513.3 625.6L514.8 628.2L516.4 630.8L518.0 633.3L519.7 635.8L521.3 638.3L523.0 640.8L524.7 643.2L526.4 645.7L528.2 648.1L529.9 650.5L531.7 652.8L533.6 655.1L535.4 657.4L537.3 659.7L539.2 662.0L541.1 664.2L543.0 666.4L545.0 668.5L547.0 670.6L549.0 672.7L551.1 674.8L553.2 676.9L555.3 678.9L557.4 680.8L559.6 682.8L561.7 684.7L564.0 686.6L566.2 688.4L568.5 690.2L570.8 692.0L573.1 693.7L575.5 695.4L577.9 697.0L580.3 698.6L582.7 700.2L585.2 701.8L587.7 703.3L590.2 704.7L592.8 706.1L595.4 707.5L598.0 708.8L600.7 710.1L603.4 711.4L606.1 712.6L608.8 713.8L611.6 714.9L614.4 716.0L617.2 717.1L620.0 718.1L622.9 719.0L625.8 720.0L628.7 720.9L631.6 721.8L634.5 722.6L637.5 723.4L640.4 724.2L643.4 724.9L646.4 725.6L649.4 726.2L652.4 726.9L655.5 727.5L658.5 728.0L661.6 728.6L664.7 729.1L667.7 729.5L670.8 730.0L673.9 730.4L677.0 730.7L680.1 731.1L683.2 731.4L686.3 731.7L689.4 731.9L692.5 732.1L695.6 732.3L698.7 732.5L701.8 732.7L704.9 732.8L708.0 732.9L711.1 732.9L714.2 733.0L717.3 733.0L720.4 733.0L723.4 732.9L726.5 732.9L729.5 732.8L732.6 732.7L735.6 732.6L738.6 732.4L741.6 732.3L744.7 732.1L747.7 731.9L750.7 731.7L753.6 731.5L756.6 731.2L759.6 731.0L762.6 730.7L765.6 730.5L768.5 730.2L771.5 729.9L774.5 729.6L777.4 729.3L780.4 729.0L783.3 728.8L786.3 728.5L789.2 728.2L792.2 727.9L795.1 727.6L798.0 727.3L801.0 727.0L803.9 726.8L806.9 726.5L809.8 726.3L812.7 726.0L815.7 725.8L818.6 725.6L821.6 725.4L824.5 725.2L827.5 725.0L830.4 724.8L833.4 724.7L836.4 724.6L839.3 724.5L842.3 724.4L845.3 724.3L848.2 724.3L851.2 724.2L854.2 724.2L857.2 724.2L860.2 724.2L863.2 724.2L866.2 724.2L869.1 724.2L872.1 724.2L875.1 724.3L878.2 724.3L881.2 724.3L884.2 724.3L887.2 724.3L890.2 724.3L893.2 724.4L896.2 724.4L899.2 724.3L902.2 724.3L905.3 724.3L908.3 724.2L911.3 724.2L914.3 724.1L917.4 724.0L920.4 723.9L923.4 723.8L926.4 723.6L929.5 723.4L932.5 723.2L935.5 723.0L938.6 722.8L941.6 722.5L944.6 722.2L947.7 721.8L950.7 721.4L953.7 721.0L956.8 720.6L959.8 720.1L962.8 719.6L965.9 719.0L968.9 718.4L971.9 717.8L975.0 717.1L978.0 716.4L981.0 715.6L984.0 714.8L987.0 713.9L989.9 713.0L992.9 712.1L995.8 711.1L998.7 710.0L1001.6 708.9L1004.4 707.8L1007.3 706.6L1010.0 705.4L1012.8 704.1L1015.5 702.8L1018.1 701.4L1020.8 700.0L1023.3 698.5L1025.8 697.0L1028.3 695.4L1030.7 693.7L1033.1 692.0L1035.4 690.3L1037.7 688.5L1039.9 686.7L1042.0 684.8L1044.1 682.9L1046.2 680.9L1048.2 678.9L1050.1 676.8L1052.1 674.7L1053.9 672.5L1055.7 670.3L1057.5 668.1L1059.3 665.8L1060.9 663.5L1062.6 661.1L1064.2 658.8L1065.8 656.3L1067.3 653.9L1068.8 651.4L1070.2 648.9L1071.6 646.3L1073.0 643.7L1074.4 641.1L1075.7 638.4L1076.9 635.8L1078.2 633.1L1079.4 630.3L1080.6 627.6L1081.7 624.8L1082.8 622.0L1083.9 619.2L1085.0 616.3L1086.0 613.5L1087.0 610.6L1088.0 607.7L1088.9 604.7L1089.8 601.8L1090.8 598.8L1091.6 595.9L1092.5 592.9L1093.3 589.9L1094.1 586.9L1094.9 583.9L1095.7 580.8L1096.5 577.8L1097.2 574.7L1097.9 571.7L1098.7 568.6L1099.3 565.5L1100.0 562.5L1100.7 559.4L1101.4 556.3L1102.0 553.2L1102.6 550.1L1103.2 547.1L1103.9 544.0L1104.5 540.9L1105.1 537.8L1105.7 534.7L1106.2 531.7L1106.8 528.6L1107.4 525.6L1108.0 522.5L1108.5 519.5L1109.1 516.4L1109.7 513.4L1110.2 510.4L1110.8 507.4L1111.3 504.4L1111.9 501.4L1112.4 498.4L1113.0 495.5L1113.5 492.5L1114.1 489.5L1114.6 486.6L1115.2 483.7L1115.7 480.7L1116.3 477.8L1116.8 474.9L1117.3 471.9L1117.9 469.0L1118.4 466.1L1118.9 463.2L1119.5 460.3L1120.0 457.4L1120.5 454.5L1121.1 451.6L1121.6 448.7L1122.1 445.9L1122.6 443.0L1123.1 440.1L1123.7 437.2L1124.2 434.3L1124.7 431.5L1125.2 428.6L1125.7 425.7L1126.2 422.8L1126.7 419.9L1127.2 417.1L1127.7 414.2L1128.2 411.3L1128.8 408.4L1129.3 405.5L1129.7 402.7L1130.2 399.8L1130.7 396.9L1131.2 394.0L1131.7 391.1L1132.2 388.2L1132.7 385.3L1133.2 382.4L1133.7 379.4L1134.2 376.5L1134.6 373.6L1135.1 370.7L1135.6 367.7L1136.1 364.8L1136.6 361.8L1137.0 358.9L1137.5 355.9L1138.0 352.9L1138.4 349.9L1138.9 346.9L1139.4 343.9L1139.9 340.9L1140.3 337.9L1140.8 334.9L1141.2 331.9L1141.7 328.8L1142.2 325.8L1142.6 322.7L1143.1 319.6L1143.5 316.5L1144.0 313.4L1144.4 310.3L1144.9 307.2L1145.3 304.0L1145.8 300.9L1146.2 297.7L1146.7 294.6L1147.2 291.4L1147.7 288.3L1148.3 285.2L1148.9 282.1L1149.6 279.1L1150.4 276.1L1151.2 273.2L1152.2 270.3L1153.3 267.6L1154.5 264.9L1155.8 262.3L1157.2 259.9L1158.9 257.6L1160.6 255.3L1162.6 253.3L1164.7 251.4L1167.1 250.4L1169.8 251.0L1172.5 252.8L1175.1 255.1L1177.6 257.5L1179.8 259.9L1181.9 262.3L1183.9 264.6L1185.9 266.8L1187.9 268.9L1190.1 270.7L1192.3 272.3L1194.7 273.6L1197.4 274.5L1200.4 275.0L1203.7 275.0" fill="none" stroke="#bf00bf" stroke-width="12.50" stroke-dasharray="46.25 20" stroke-linecap="butt" stroke-linejoin="round"/>
<rect x="302.80" y="2.30" width="929.90" height="907.80" fill="none" stroke="#000" stroke-width="3.333" stroke-linejoin="miter"/>
<path d="M331.90 910.10v14.58M622.50 910.10v14.58M913.10 910.10v14.58M1203.70 910.10v14.58M302.80 47.90h-14.58M302.80 275.00h-14.58M302.80 502.10h-14.58M302.80 729.20h-14.58" stroke="#000" stroke-width="3.333" fill="none"/>
<g font-family='"DejaVu Sans","Liberation Sans",sans-serif' font-size="75.00" fill="#000">
<text x="331.90" y="995.77" text-anchor="middle">0</text>
<text x="622.50" y="995.77" text-anchor="middle">1</text>
<text x="913.10" y="995.77" text-anchor="middle">2</text>
<text x="1203.70" y="995.77" text-anchor="middle">3</text>
<text x="273.63" y="75.50" text-anchor="end">1.05</text>
<text x="273.63" y="302.60" text-anchor="end">1.00</text>
<text x="273.63" y="529.70" text-anchor="end">0.95</text>
<text x="273.63" y="756.80" text-anchor="end">0.90</text>
</g>
<text x="767.75" y="1097.90" text-anchor="middle" font-family='"DejaVu Sans","Liberation Sans",sans-serif' font-size="91.67">t</text>
<text transform="translate(70.50 456.20) rotate(-90)" text-anchor="middle" font-family='"DejaVu Sans","Liberation Sans",sans-serif' font-size="91.67">Mom. Variance</text>
<text x="321.10" y="111.10" font-family='"DejaVu Sans","Liberation Sans",sans-serif' font-weight="bold" font-size="92.58">(a)</text>
</g>
<g>
<path d="M1610.3 880.0L1613.5 880.2L1616.6 880.3L1619.8 880.4L1622.9 880.3L1626.0 880.2L1629.1 880.0L1632.1 879.8L1635.1 879.5L1638.1 879.1L1641.1 878.6L1644.1 878.1L1647.0 877.5L1649.9 876.8L1652.8 876.1L1655.7 875.3L1658.5 874.4L1661.3 873.5L1664.1 872.5L1666.9 871.5L1669.7 870.4L1672.4 869.3L1675.1 868.1L1677.8 866.9L1680.5 865.6L1683.1 864.2L1685.8 862.9L1688.4 861.4L1691.0 859.9L1693.5 858.4L1696.1 856.9L1698.6 855.3L1701.1 853.6L1703.6 851.9L1706.0 850.2L1708.5 848.5L1710.9 846.7L1713.3 844.9L1715.7 843.0L1718.1 841.1L1720.4 839.2L1722.7 837.3L1725.0 835.3L1727.3 833.3L1729.6 831.3L1731.8 829.3L1734.1 827.2L1736.3 825.1L1738.5 823.0L1740.6 820.9L1742.8 818.8L1744.9 816.7L1747.0 814.5L1749.1 812.3L1751.2 810.2L1753.3 808.0L1755.3 805.7L1757.3 803.5L1759.4 801.3L1761.4 799.0L1763.3 796.8L1765.3 794.5L1767.2 792.2L1769.2 790.0L1771.1 787.6L1773.0 785.3L1774.9 783.0L1776.8 780.7L1778.6 778.3L1780.5 776.0L1782.3 773.6L1784.1 771.2L1785.9 768.8L1787.7 766.5L1789.5 764.1L1791.3 761.6L1793.0 759.2L1794.8 756.8L1796.5 754.4L1798.3 751.9L1800.0 749.5L1801.7 747.0L1803.4 744.5L1805.1 742.1L1806.8 739.6L1808.4 737.1L1810.1 734.6L1811.8 732.1L1813.4 729.6L1815.0 727.1L1816.7 724.6L1818.3 722.0L1819.9 719.5L1821.5 717.0L1823.1 714.4L1824.7 711.9L1826.3 709.3L1827.9 706.8L1829.5 704.2L1831.1 701.7L1832.7 699.1L1834.2 696.5L1835.8 694.0L1837.4 691.4L1838.9 688.8L1840.5 686.3L1842.0 683.7L1843.6 681.1L1845.1 678.5L1846.7 675.9L1848.2 673.3L1849.8 670.7L1851.3 668.2L1852.9 665.6L1854.4 663.0L1856.0 660.4L1857.5 657.8L1859.1 655.2L1860.6 652.6L1862.1 650.0L1863.7 647.4L1865.2 644.8L1866.8 642.2L1868.3 639.7L1869.9 637.1L1871.4 634.5L1872.9 631.9L1874.5 629.3L1876.0 626.7L1877.6 624.1L1879.1 621.5L1880.6 618.9L1882.2 616.3L1883.7 613.7L1885.2 611.1L1886.8 608.5L1888.3 605.9L1889.9 603.3L1891.4 600.7L1892.9 598.1L1894.5 595.5L1896.0 592.9L1897.5 590.3L1899.1 587.7L1900.6 585.1L1902.1 582.5L1903.7 579.9L1905.2 577.3L1906.7 574.7L1908.2 572.1L1909.8 569.5L1911.3 566.8L1912.8 564.2L1914.4 561.6L1915.9 559.0L1917.4 556.4L1918.9 553.8L1920.5 551.2L1922.0 548.6L1923.5 546.0L1925.0 543.4L1926.6 540.8L1928.1 538.2L1929.6 535.6L1931.1 532.9L1932.6 530.3L1934.2 527.7L1935.7 525.1L1937.2 522.5L1938.7 519.9L1940.2 517.3L1941.7 514.7L1943.3 512.1L1944.8 509.5L1946.3 506.8L1947.8 504.2L1949.3 501.6L1950.8 499.0L1952.3 496.4L1953.8 493.8L1955.4 491.2L1956.9 488.6L1958.4 485.9L1959.9 483.3L1961.4 480.7L1962.9 478.1L1964.4 475.5L1965.9 472.9L1967.4 470.3L1968.9 467.6L1970.4 465.0L1971.9 462.4L1973.4 459.8L1974.9 457.2L1976.4 454.6L1977.9 452.0L1979.4 449.3L1980.9 446.7L1982.4 444.1L1983.8 441.5L1985.3 438.9L1986.8 436.3L1988.3 433.6L1989.8 431.0L1991.3 428.4L1992.8 425.8L1994.3 423.2L1995.7 420.6L1997.2 417.9L1998.7 415.3L2000.2 412.7L2001.7 410.1L2003.1 407.5L2004.6 404.9L2006.1 402.2L2007.6 399.6L2009.0 397.0L2010.5 394.4L2012.0 391.8L2013.5 389.2L2014.9 386.5L2016.4 383.9L2017.9 381.3L2019.3 378.7L2020.8 376.1L2022.3 373.5L2023.7 370.8L2025.2 368.2L2026.6 365.6L2028.1 363.0L2029.6 360.4L2031.0 357.8L2032.5 355.1L2033.9 352.5L2035.4 349.9L2036.8 347.3L2038.3 344.7L2039.7 342.1L2041.2 339.5L2042.6 336.8L2044.1 334.2L2045.5 331.6L2047.0 329.0L2048.4 326.4L2049.8 323.8L2051.3 321.1L2052.7 318.5L2054.2 315.9L2055.6 313.3L2057.0 310.7L2058.5 308.1L2059.9 305.5L2061.3 302.8L2062.7 300.2L2064.2 297.6L2065.6 295.0L2067.0 292.4L2068.5 289.8L2069.9 287.2L2071.3 284.6L2072.7 281.9L2074.2 279.3L2075.6 276.7L2077.0 274.1L2078.5 271.5L2079.9 268.9L2081.4 266.3L2082.8 263.7L2084.2 261.1L2085.7 258.5L2087.1 255.9L2088.6 253.3L2090.0 250.7L2091.5 248.1L2093.0 245.5L2094.4 242.9L2095.9 240.3L2097.4 237.7L2098.9 235.1L2100.3 232.5L2101.8 229.9L2103.3 227.3L2104.8 224.7L2106.3 222.1L2107.8 219.5L2109.3 216.9L2110.9 214.4L2112.4 211.8L2113.9 209.2L2115.5 206.6L2117.0 204.0L2118.6 201.5L2120.1 198.9L2121.7 196.3L2123.3 193.7L2124.9 191.2L2126.5 188.6L2128.1 186.0L2129.7 183.5L2131.3 180.9L2132.9 178.3L2134.6 175.8L2136.2 173.2L2137.9 170.7L2139.5 168.1L2141.2 165.6L2142.9 163.0L2144.6 160.5L2146.3 157.9L2148.0 155.4L2149.8 152.9L2151.5 150.3L2153.3 147.8L2155.0 145.2L2156.8 142.7L2158.6 140.2L2160.4 137.7L2162.2 135.1L2164.0 132.6L2165.9 130.1L2167.7 127.6L2169.6 125.1L2171.5 122.6L2173.4 120.1L2175.3 117.6L2177.2 115.1L2179.1 112.6L2181.1 110.1L2183.0 107.7L2185.0 105.2L2187.0 102.8L2189.1 100.4L2191.1 98.0L2193.2 95.7L2195.2 93.4L2197.3 91.1L2199.4 88.8L2201.6 86.6L2203.8 84.4L2205.9 82.3L2208.1 80.2L2210.4 78.1L2212.6 76.1L2214.9 74.1L2217.2 72.2L2219.5 70.3L2221.9 68.5L2224.3 66.8L2226.7 65.1L2229.1 63.5L2231.6 61.9L2234.1 60.4L2236.6 59.0L2239.2 57.7L2241.7 56.4L2244.3 55.2L2247.0 54.0L2249.7 53.0L2252.3 52.0L2255.1 51.1L2257.8 50.3L2260.5 49.6L2263.3 49.0L2266.1 48.4L2268.9 47.9L2271.7 47.6L2274.5 47.3L2277.3 47.1L2280.1 46.9L2283.0 46.9L2285.8 47.0L2288.6 47.1L2291.4 47.4L2294.3 47.7L2297.1 48.1L2299.9 48.6L2302.7 49.2L2305.6 49.8L2308.4 50.5L2311.2 51.3L2314.0 52.1L2316.8 53.0L2319.7 54.0L2322.5 55.0L2325.3 56.1L2328.1 57.2L2330.9 58.4L2333.7 59.6L2336.5 60.9L2339.3 62.2L2342.0 63.5L2344.8 64.9L2347.6 66.4L2350.4 67.8L2353.1 69.3L2355.9 70.8L2358.6 72.4L2361.4 74.0L2364.1 75.6L2366.8 77.2L2369.5 78.8L2372.2 80.4L2374.9 82.1L2377.6 83.7L2380.3 85.4L2383.0 87.0L2385.6 88.7L2388.3 90.4L2390.9 92.0L2393.5 93.7L2396.1 95.3L2398.8 96.9L2401.4 98.5L2404.0 100.1L2406.6 101.7L2409.2 103.2L2411.7 104.7L2414.3 106.2L2417.0 107.6L2419.6 109.0L2422.2 110.4L2424.8 111.7L2427.5 113.0L2430.1 114.2L2432.8 115.3L2435.5 116.4L2438.2 117.5L2440.9 118.4L2443.6 119.3L2446.4 120.2L2449.2 120.9L2452.0 121.6L2454.9 122.2L2457.8 122.8L2460.7 123.2L2463.6 123.6L2466.6 123.8L2469.6 124.0L2472.7 124.0L2475.8 124.0L2478.9 123.9L2482.1 123.6" fill="none" stroke="#1f77b4" stroke-width="12.50" stroke-linecap="square" stroke-linejoin="round"/>
<path d="M1610.3 880.0L1613.5 880.2L1616.7 880.4L1619.8 880.5L1623.0 880.5L1626.1 880.4L1629.2 880.3L1632.2 880.1L1635.3 879.8L1638.3 879.4L1641.3 879.0L1644.2 878.5L1647.2 877.9L1650.1 877.3L1653.0 876.6L1655.9 875.9L1658.8 875.1L1661.6 874.2L1664.4 873.3L1667.2 872.3L1670.0 871.3L1672.8 870.2L1675.5 869.0L1678.2 867.8L1680.9 866.6L1683.6 865.3L1686.2 863.9L1688.9 862.5L1691.5 861.1L1694.1 859.6L1696.6 858.1L1699.2 856.5L1701.7 854.9L1704.2 853.3L1706.7 851.6L1709.2 849.9L1711.6 848.1L1714.1 846.4L1716.5 844.5L1718.9 842.7L1721.2 840.8L1723.6 838.9L1725.9 837.0L1728.2 835.0L1730.5 833.0L1732.8 831.0L1735.0 829.0L1737.3 826.9L1739.5 824.9L1741.7 822.8L1743.8 820.7L1746.0 818.5L1748.1 816.4L1750.3 814.3L1752.4 812.1L1754.4 809.9L1756.5 807.7L1758.6 805.5L1760.6 803.3L1762.6 801.1L1764.6 798.8L1766.6 796.6L1768.6 794.3L1770.5 792.0L1772.5 789.7L1774.4 787.4L1776.3 785.1L1778.2 782.8L1780.1 780.5L1781.9 778.1L1783.8 775.8L1785.6 773.4L1787.4 771.0L1789.3 768.6L1791.1 766.2L1792.8 763.8L1794.6 761.4L1796.4 759.0L1798.1 756.6L1799.9 754.1L1801.6 751.7L1803.3 749.2L1805.0 746.8L1806.7 744.3L1808.4 741.8L1810.1 739.3L1811.8 736.8L1813.5 734.3L1815.1 731.8L1816.8 729.3L1818.4 726.8L1820.0 724.3L1821.7 721.8L1823.3 719.2L1824.9 716.7L1826.5 714.1L1828.1 711.6L1829.7 709.0L1831.3 706.5L1832.9 703.9L1834.4 701.4L1836.0 698.8L1837.6 696.2L1839.1 693.6L1840.7 691.1L1842.3 688.5L1843.8 685.9L1845.4 683.3L1846.9 680.7L1848.4 678.1L1850.0 675.5L1851.5 672.9L1853.1 670.3L1854.6 667.7L1856.1 665.1L1857.7 662.5L1859.2 659.9L1860.7 657.3L1862.3 654.7L1863.8 652.1L1865.3 649.5L1866.9 646.9L1868.4 644.3L1869.9 641.7L1871.5 639.1L1873.0 636.5L1874.5 633.9L1876.0 631.3L1877.6 628.7L1879.1 626.1L1880.6 623.4L1882.1 620.8L1883.7 618.2L1885.2 615.6L1886.7 613.0L1888.2 610.4L1889.7 607.8L1891.2 605.2L1892.8 602.5L1894.3 599.9L1895.8 597.3L1897.3 594.7L1898.8 592.1L1900.3 589.5L1901.8 586.8L1903.4 584.2L1904.9 581.6L1906.4 579.0L1907.9 576.4L1909.4 573.7L1910.9 571.1L1912.4 568.5L1913.9 565.9L1915.4 563.3L1916.9 560.6L1918.4 558.0L1919.9 555.4L1921.4 552.8L1922.9 550.1L1924.4 547.5L1925.9 544.9L1927.4 542.3L1928.9 539.6L1930.4 537.0L1931.9 534.4L1933.4 531.8L1934.9 529.1L1936.4 526.5L1937.9 523.9L1939.4 521.2L1940.9 518.6L1942.4 516.0L1943.9 513.4L1945.4 510.7L1946.9 508.1L1948.3 505.5L1949.8 502.9L1951.3 500.2L1952.8 497.6L1954.3 495.0L1955.8 492.3L1957.3 489.7L1958.7 487.1L1960.2 484.4L1961.7 481.8L1963.2 479.2L1964.7 476.6L1966.1 473.9L1967.6 471.3L1969.1 468.7L1970.6 466.0L1972.1 463.4L1973.5 460.8L1975.0 458.1L1976.5 455.5L1977.9 452.9L1979.4 450.2L1980.9 447.6L1982.4 445.0L1983.8 442.4L1985.3 439.7L1986.8 437.1L1988.2 434.5L1989.7 431.8L1991.2 429.2L1992.6 426.6L1994.1 423.9L1995.6 421.3L1997.0 418.7L1998.5 416.0L2000.0 413.4L2001.4 410.8L2002.9 408.2L2004.3 405.5L2005.8 402.9L2007.3 400.3L2008.7 397.6L2010.2 395.0L2011.6 392.4L2013.1 389.8L2014.5 387.1L2016.0 384.5L2017.5 381.9L2018.9 379.2L2020.4 376.6L2021.8 374.0L2023.3 371.4L2024.7 368.7L2026.2 366.1L2027.6 363.5L2029.1 360.9L2030.5 358.2L2032.0 355.6L2033.4 353.0L2034.8 350.4L2036.3 347.7L2037.7 345.1L2039.2 342.5L2040.6 339.9L2042.1 337.2L2043.5 334.6L2044.9 332.0L2046.4 329.4L2047.8 326.8L2049.3 324.1L2050.7 321.5L2052.1 318.9L2053.6 316.3L2055.0 313.7L2056.4 311.0L2057.9 308.4L2059.3 305.8L2060.7 303.2L2062.2 300.6L2063.6 298.0L2065.0 295.3L2066.5 292.7L2067.9 290.1L2069.3 287.5L2070.8 284.9L2072.2 282.3L2073.7 279.7L2075.1 277.1L2076.5 274.5L2078.0 271.9L2079.4 269.2L2080.9 266.6L2082.3 264.0L2083.8 261.4L2085.2 258.8L2086.7 256.2L2088.2 253.6L2089.6 251.0L2091.1 248.4L2092.6 245.8L2094.1 243.2L2095.5 240.6L2097.0 238.0L2098.5 235.5L2100.0 232.9L2101.5 230.3L2103.0 227.7L2104.5 225.1L2106.0 222.5L2107.6 219.9L2109.1 217.3L2110.6 214.8L2112.2 212.2L2113.7 209.6L2115.3 207.0L2116.8 204.4L2118.4 201.9L2120.0 199.3L2121.5 196.7L2123.1 194.2L2124.7 191.6L2126.3 189.0L2127.9 186.5L2129.6 183.9L2131.2 181.3L2132.8 178.8L2134.5 176.2L2136.1 173.7L2137.8 171.1L2139.5 168.6L2141.2 166.0L2142.8 163.5L2144.6 160.9L2146.3 158.4L2148.0 155.8L2149.7 153.3L2151.5 150.8L2153.2 148.2L2155.0 145.7L2156.8 143.2L2158.6 140.6L2160.4 138.1L2162.2 135.6L2164.0 133.1L2165.8 130.5L2167.7 128.0L2169.5 125.5L2171.4 123.0L2173.3 120.5L2175.2 118.0L2177.1 115.5L2179.0 113.0L2181.0 110.5L2182.9 108.1L2184.9 105.6L2186.9 103.2L2188.9 100.8L2190.9 98.4L2193.0 96.0L2195.1 93.7L2197.2 91.4L2199.3 89.1L2201.4 86.9L2203.5 84.7L2205.7 82.5L2207.9 80.4L2210.1 78.4L2212.4 76.3L2214.6 74.4L2216.9 72.4L2219.3 70.6L2221.6 68.7L2224.0 67.0L2226.4 65.3L2228.8 63.7L2231.3 62.1L2233.8 60.6L2236.3 59.1L2238.8 57.8L2241.4 56.5L2244.0 55.3L2246.7 54.1L2249.3 53.1L2252.0 52.1L2254.8 51.2L2257.5 50.4L2260.2 49.6L2263.0 49.0L2265.8 48.4L2268.6 47.9L2271.4 47.5L2274.2 47.2L2277.1 47.0L2279.9 46.9L2282.7 46.9L2285.6 46.9L2288.4 47.1L2291.2 47.3L2294.1 47.6L2296.9 48.0L2299.7 48.5L2302.6 49.1L2305.4 49.7L2308.2 50.4L2311.1 51.2L2313.9 52.0L2316.7 52.9L2319.5 53.9L2322.4 54.9L2325.2 56.0L2328.0 57.1L2330.8 58.3L2333.6 59.5L2336.4 60.8L2339.2 62.1L2342.0 63.5L2344.7 64.9L2347.5 66.3L2350.3 67.8L2353.0 69.3L2355.8 70.8L2358.5 72.3L2361.3 73.9L2364.0 75.5L2366.7 77.1L2369.5 78.8L2372.2 80.4L2374.9 82.0L2377.5 83.7L2380.2 85.4L2382.9 87.0L2385.5 88.7L2388.2 90.3L2390.8 92.0L2393.5 93.7L2396.1 95.3L2398.7 96.9L2401.3 98.5L2403.9 100.1L2406.5 101.7L2409.1 103.2L2411.7 104.7L2414.3 106.2L2416.9 107.6L2419.5 109.0L2422.1 110.4L2424.7 111.7L2427.4 113.0L2430.0 114.2L2432.7 115.3L2435.4 116.4L2438.1 117.5L2440.8 118.4L2443.5 119.3L2446.3 120.2L2449.1 120.9L2451.9 121.6L2454.8 122.2L2457.7 122.8L2460.6 123.2L2463.6 123.5L2466.5 123.8L2469.6 124.0L2472.6 124.0L2475.7 124.0L2478.9 123.8L2482.1 123.6" fill="none" stroke="#ff7f0e" stroke-width="12.50" stroke-dasharray="46.25 20" stroke-linecap="butt" stroke-linejoin="round"/>
<path d="M1610.3 880.0L1613.5 880.0L1616.7 879.8L1619.9 879.6L1623.0 879.3L1626.0 878.9L1629.1 878.5L1632.0 877.9L1635.0 877.3L1637.9 876.6L1640.7 875.8L1643.5 875.0L1646.3 874.1L1649.1 873.1L1651.8 872.0L1654.4 870.9L1657.1 869.7L1659.7 868.5L1662.3 867.1L1664.8 865.8L1667.3 864.3L1669.8 862.8L1672.2 861.3L1674.6 859.7L1677.0 858.0L1679.4 856.3L1681.7 854.6L1684.0 852.8L1686.3 850.9L1688.5 849.0L1690.7 847.1L1692.9 845.1L1695.1 843.1L1697.3 841.0L1699.4 838.9L1701.5 836.8L1703.6 834.7L1705.7 832.5L1707.7 830.2L1709.8 828.0L1711.8 825.7L1713.8 823.4L1715.7 821.0L1717.7 818.7L1719.7 816.3L1721.6 813.9L1723.5 811.5L1725.4 809.1L1727.3 806.6L1729.2 804.1L1731.1 801.7L1732.9 799.2L1734.8 796.7L1736.6 794.2L1738.5 791.7L1740.3 789.2L1742.1 786.7L1743.9 784.1L1745.8 781.6L1747.6 779.1L1749.4 776.6L1751.2 774.1L1753.0 771.6L1754.8 769.1L1756.6 766.6L1758.3 764.1L1760.1 761.7L1761.9 759.2L1763.7 756.7L1765.5 754.2L1767.2 751.7L1769.0 749.3L1770.8 746.8L1772.5 744.3L1774.3 741.9L1776.1 739.4L1777.8 737.0L1779.6 734.5L1781.3 732.1L1783.1 729.6L1784.8 727.2L1786.6 724.7L1788.3 722.3L1790.1 719.8L1791.8 717.4L1793.5 714.9L1795.3 712.5L1797.0 710.1L1798.7 707.6L1800.5 705.2L1802.2 702.8L1803.9 700.3L1805.6 697.9L1807.4 695.4L1809.1 693.0L1810.8 690.6L1812.5 688.1L1814.3 685.7L1816.0 683.3L1817.7 680.8L1819.4 678.4L1821.1 676.0L1822.8 673.5L1824.6 671.1L1826.3 668.7L1828.0 666.2L1829.7 663.8L1831.4 661.3L1833.1 658.9L1834.8 656.4L1836.5 654.0L1838.3 651.6L1840.0 649.1L1841.7 646.7L1843.4 644.2L1845.1 641.8L1846.8 639.3L1848.5 636.8L1850.2 634.4L1851.9 631.9L1853.6 629.5L1855.4 627.0L1857.1 624.5L1858.8 622.1L1860.5 619.6L1862.2 617.1L1863.9 614.7L1865.6 612.2L1867.3 609.7L1869.0 607.3L1870.7 604.8L1872.4 602.3L1874.1 599.8L1875.9 597.4L1877.6 594.9L1879.3 592.4L1881.0 589.9L1882.7 587.4L1884.4 585.0L1886.1 582.5L1887.8 580.0L1889.5 577.5L1891.2 575.0L1892.9 572.5L1894.6 570.1L1896.3 567.6L1898.0 565.1L1899.8 562.6L1901.5 560.1L1903.2 557.6L1904.9 555.1L1906.6 552.6L1908.3 550.1L1910.0 547.7L1911.7 545.2L1913.4 542.7L1915.1 540.2L1916.8 537.7L1918.5 535.2L1920.2 532.7L1922.0 530.2L1923.7 527.7L1925.4 525.2L1927.1 522.7L1928.8 520.2L1930.5 517.7L1932.2 515.2L1933.9 512.7L1935.6 510.2L1937.3 507.7L1939.0 505.2L1940.8 502.7L1942.5 500.2L1944.2 497.7L1945.9 495.3L1947.6 492.8L1949.3 490.3L1951.0 487.8L1952.7 485.3L1954.4 482.8L1956.2 480.3L1957.9 477.8L1959.6 475.3L1961.3 472.8L1963.0 470.3L1964.7 467.8L1966.4 465.3L1968.1 462.8L1969.9 460.3L1971.6 457.8L1973.3 455.3L1975.0 452.8L1976.7 450.3L1978.4 447.9L1980.1 445.4L1981.9 442.9L1983.6 440.4L1985.3 437.9L1987.0 435.4L1988.7 432.9L1990.4 430.4L1992.2 427.9L1993.9 425.5L1995.6 423.0L1997.3 420.5L1999.0 418.0L2000.7 415.5L2002.5 413.0L2004.2 410.6L2005.9 408.1L2007.6 405.6L2009.3 403.1L2011.1 400.6L2012.8 398.2L2014.5 395.7L2016.2 393.2L2018.0 390.7L2019.7 388.3L2021.4 385.8L2023.1 383.3L2024.9 380.9L2026.6 378.4L2028.3 375.9L2030.0 373.5L2031.8 371.0L2033.5 368.5L2035.2 366.1L2036.9 363.6L2038.7 361.2L2040.4 358.7L2042.1 356.3L2043.9 353.8L2045.6 351.3L2047.3 348.9L2049.1 346.4L2050.8 344.0L2052.5 341.6L2054.3 339.1L2056.0 336.7L2057.7 334.2L2059.5 331.8L2061.2 329.4L2062.9 326.9L2064.7 324.5L2066.4 322.0L2068.1 319.6L2069.9 317.2L2071.6 314.7L2073.4 312.3L2075.1 309.9L2076.8 307.4L2078.6 305.0L2080.3 302.6L2082.1 300.2L2083.8 297.7L2085.6 295.3L2087.3 292.9L2089.0 290.4L2090.8 288.0L2092.5 285.6L2094.3 283.2L2096.0 280.7L2097.8 278.3L2099.5 275.9L2101.3 273.4L2103.0 271.0L2104.7 268.6L2106.5 266.2L2108.2 263.7L2110.0 261.3L2111.7 258.9L2113.5 256.4L2115.2 254.0L2117.0 251.6L2118.7 249.1L2120.5 246.7L2122.2 244.3L2124.0 241.8L2125.7 239.4L2127.5 236.9L2129.2 234.5L2131.0 232.0L2132.7 229.6L2134.5 227.1L2136.2 224.7L2138.0 222.2L2139.7 219.8L2141.5 217.3L2143.2 214.9L2145.0 212.4L2146.8 210.0L2148.5 207.5L2150.3 205.0L2152.0 202.6L2153.8 200.1L2155.5 197.6L2157.3 195.1L2159.0 192.7L2160.8 190.2L2162.5 187.7L2164.3 185.2L2166.0 182.7L2167.8 180.2L2169.6 177.7L2171.3 175.2L2173.1 172.7L2174.8 170.2L2176.6 167.7L2178.4 165.2L2180.1 162.7L2181.9 160.2L2183.7 157.8L2185.5 155.3L2187.3 152.8L2189.1 150.3L2190.9 147.9L2192.7 145.4L2194.5 142.9L2196.4 140.5L2198.2 138.1L2200.1 135.6L2201.9 133.2L2203.8 130.8L2205.7 128.4L2207.6 126.0L2209.5 123.7L2211.5 121.3L2213.4 119.0L2215.4 116.7L2217.4 114.4L2219.4 112.1L2221.4 109.8L2223.4 107.6L2225.5 105.3L2227.5 103.1L2229.6 100.9L2231.7 98.8L2233.9 96.6L2236.0 94.5L2238.2 92.4L2240.4 90.3L2242.6 88.2L2244.8 86.2L2247.1 84.2L2249.4 82.2L2251.7 80.3L2254.1 78.4L2256.4 76.5L2258.8 74.6L2261.3 72.8L2263.7 71.0L2266.2 69.2L2268.7 67.5L2271.3 65.8L2273.8 64.1L2276.4 62.5L2279.1 60.9L2281.7 59.4L2284.4 57.9L2287.1 56.5L2289.8 55.2L2292.5 53.9L2295.2 52.7L2298.0 51.5L2300.8 50.4L2303.5 49.4L2306.3 48.5L2309.1 47.7L2311.9 47.0L2314.7 46.3L2317.5 45.8L2320.4 45.3L2323.2 45.0L2326.0 44.8L2328.8 44.7L2331.6 44.7L2334.4 44.8L2337.2 45.0L2339.9 45.4L2342.7 45.8L2345.4 46.4L2348.2 47.0L2350.9 47.8L2353.6 48.6L2356.3 49.6L2359.0 50.7L2361.6 51.8L2364.3 53.1L2366.9 54.4L2369.4 55.8L2372.0 57.4L2374.5 59.0L2377.0 60.7L2379.5 62.4L2382.0 64.2L2384.4 66.1L2386.8 68.0L2389.3 70.0L2391.7 72.0L2394.1 74.0L2396.5 76.1L2398.9 78.2L2401.2 80.3L2403.6 82.5L2406.0 84.6L2408.4 86.7L2410.7 88.9L2413.1 91.0L2415.5 93.1L2417.9 95.2L2420.3 97.2L2422.7 99.3L2425.1 101.3L2427.6 103.2L2430.0 105.1L2432.5 106.9L2435.0 108.7L2437.5 110.4L2440.0 112.0L2442.6 113.6L2445.1 115.0L2447.7 116.4L2450.4 117.7L2453.1 118.8L2455.8 119.9L2458.5 120.9L2461.3 121.7L2464.1 122.4L2467.0 122.9L2469.9 123.4L2472.9 123.7L2475.9 123.8L2479.0 123.8L2482.1 123.6" fill="none" stroke="#2ca02c" stroke-width="12.50" stroke-dasharray="46.25 20" stroke-linecap="butt" stroke-linejoin="round"/>
<path d="M1610.3 880.0L1613.5 879.8L1616.6 879.4L1619.7 878.9L1622.7 878.2L1625.6 877.5L1628.4 876.6L1631.2 875.6L1633.9 874.5L1636.6 873.3L1639.2 872.0L1641.8 870.6L1644.3 869.2L1646.7 867.6L1649.1 866.0L1651.5 864.3L1653.9 862.5L1656.1 860.7L1658.4 858.9L1660.6 857.0L1662.8 855.0L1665.0 853.0L1667.2 851.0L1669.3 848.9L1671.4 846.8L1673.5 844.7L1675.6 842.6L1677.6 840.4L1679.7 838.3L1681.7 836.1L1683.7 833.8L1685.7 831.6L1687.6 829.3L1689.6 827.0L1691.5 824.7L1693.5 822.4L1695.4 820.0L1697.3 817.7L1699.2 815.3L1701.0 812.9L1702.9 810.5L1704.8 808.1L1706.6 805.7L1708.5 803.3L1710.3 800.8L1712.1 798.4L1713.9 795.9L1715.8 793.5L1717.6 791.0L1719.4 788.5L1721.2 786.0L1723.0 783.6L1724.7 781.1L1726.5 778.6L1728.3 776.1L1730.1 773.6L1731.9 771.2L1733.7 768.7L1735.5 766.2L1737.3 763.8L1739.1 761.3L1740.9 758.8L1742.7 756.4L1744.5 754.0L1746.3 751.5L1748.1 749.1L1749.9 746.7L1751.7 744.2L1753.5 741.8L1755.3 739.4L1757.2 737.0L1759.0 734.6L1760.8 732.2L1762.6 729.8L1764.5 727.4L1766.3 725.0L1768.1 722.7L1769.9 720.3L1771.8 717.9L1773.6 715.5L1775.5 713.2L1777.3 710.8L1779.1 708.4L1781.0 706.1L1782.8 703.7L1784.7 701.4L1786.5 699.0L1788.4 696.7L1790.2 694.3L1792.1 692.0L1793.9 689.7L1795.8 687.3L1797.6 685.0L1799.5 682.6L1801.4 680.3L1803.2 678.0L1805.1 675.6L1806.9 673.3L1808.8 671.0L1810.7 668.6L1812.5 666.3L1814.4 664.0L1816.3 661.6L1818.1 659.3L1820.0 657.0L1821.8 654.7L1823.7 652.3L1825.6 650.0L1827.5 647.7L1829.3 645.3L1831.2 643.0L1833.1 640.7L1834.9 638.3L1836.8 636.0L1838.7 633.7L1840.5 631.3L1842.4 629.0L1844.3 626.6L1846.1 624.3L1848.0 621.9L1849.9 619.6L1851.8 617.3L1853.6 614.9L1855.5 612.6L1857.4 610.2L1859.2 607.9L1861.1 605.5L1863.0 603.2L1864.8 600.8L1866.7 598.5L1868.6 596.1L1870.5 593.8L1872.3 591.4L1874.2 589.0L1876.1 586.7L1877.9 584.3L1879.8 582.0L1881.7 579.6L1883.5 577.2L1885.4 574.9L1887.3 572.5L1889.1 570.2L1891.0 567.8L1892.9 565.4L1894.7 563.1L1896.6 560.7L1898.5 558.3L1900.3 555.9L1902.2 553.6L1904.0 551.2L1905.9 548.8L1907.8 546.5L1909.6 544.1L1911.5 541.7L1913.3 539.3L1915.2 537.0L1917.1 534.6L1918.9 532.2L1920.8 529.8L1922.6 527.4L1924.5 525.1L1926.3 522.7L1928.2 520.3L1930.0 517.9L1931.9 515.5L1933.8 513.1L1935.6 510.8L1937.5 508.4L1939.3 506.0L1941.1 503.6L1943.0 501.2L1944.8 498.8L1946.7 496.4L1948.5 494.0L1950.4 491.6L1952.2 489.2L1954.0 486.8L1955.9 484.4L1957.7 482.1L1959.6 479.7L1961.4 477.3L1963.2 474.9L1965.1 472.5L1966.9 470.1L1968.7 467.7L1970.6 465.3L1972.4 462.9L1974.2 460.5L1976.0 458.0L1977.9 455.6L1979.7 453.2L1981.5 450.8L1983.3 448.4L1985.1 446.0L1987.0 443.6L1988.8 441.2L1990.6 438.8L1992.4 436.4L1994.2 434.0L1996.0 431.6L1997.8 429.1L1999.6 426.7L2001.4 424.3L2003.2 421.9L2005.0 419.5L2006.8 417.1L2008.6 414.7L2010.4 412.2L2012.2 409.8L2014.0 407.4L2015.8 405.0L2017.6 402.6L2019.4 400.1L2021.2 397.7L2022.9 395.3L2024.7 392.9L2026.5 390.5L2028.3 388.0L2030.1 385.6L2031.8 383.2L2033.6 380.8L2035.4 378.3L2037.1 375.9L2038.9 373.5L2040.7 371.0L2042.4 368.6L2044.2 366.2L2045.9 363.8L2047.7 361.3L2049.5 358.9L2051.2 356.5L2053.0 354.0L2054.7 351.6L2056.5 349.2L2058.2 346.8L2060.0 344.3L2061.7 341.9L2063.5 339.5L2065.2 337.0L2067.0 334.6L2068.7 332.2L2070.5 329.8L2072.2 327.3L2074.0 324.9L2075.7 322.5L2077.5 320.0L2079.2 317.6L2081.0 315.2L2082.7 312.8L2084.5 310.4L2086.2 307.9L2088.0 305.5L2089.7 303.1L2091.5 300.7L2093.3 298.3L2095.0 295.8L2096.8 293.4L2098.5 291.0L2100.3 288.6L2102.1 286.2L2103.8 283.8L2105.6 281.4L2107.4 279.0L2109.2 276.6L2110.9 274.2L2112.7 271.8L2114.5 269.4L2116.3 267.0L2118.1 264.6L2119.9 262.2L2121.7 259.8L2123.5 257.4L2125.3 255.0L2127.1 252.6L2128.9 250.2L2130.7 247.8L2132.5 245.5L2134.3 243.1L2136.1 240.7L2138.0 238.3L2139.8 236.0L2141.6 233.6L2143.5 231.2L2145.3 228.9L2147.1 226.5L2149.0 224.2L2150.9 221.8L2152.7 219.5L2154.6 217.1L2156.5 214.8L2158.3 212.4L2160.2 210.1L2162.1 207.8L2164.0 205.4L2165.9 203.1L2167.8 200.8L2169.7 198.4L2171.6 196.1L2173.5 193.8L2175.4 191.5L2177.4 189.2L2179.3 186.9L2181.3 184.6L2183.2 182.3L2185.2 180.0L2187.1 177.7L2189.1 175.4L2191.1 173.1L2193.1 170.9L2195.0 168.6L2197.0 166.3L2199.0 164.0L2201.1 161.8L2203.1 159.5L2205.1 157.3L2207.1 155.0L2209.2 152.8L2211.2 150.5L2213.3 148.3L2215.4 146.1L2217.4 143.8L2219.5 141.6L2221.6 139.4L2223.7 137.2L2225.8 135.0L2227.9 132.8L2230.1 130.6L2232.2 128.4L2234.3 126.2L2236.5 124.0L2238.6 121.8L2240.8 119.7L2243.0 117.5L2245.2 115.3L2247.4 113.2L2249.6 111.0L2251.8 108.9L2254.0 106.8L2256.3 104.6L2258.5 102.5L2260.8 100.4L2263.0 98.3L2265.3 96.1L2267.6 94.0L2269.9 91.9L2272.2 89.8L2274.5 87.8L2276.9 85.7L2279.2 83.6L2281.6 81.6L2283.9 79.5L2286.3 77.5L2288.7 75.5L2291.1 73.6L2293.5 71.6L2296.0 69.8L2298.4 67.9L2300.9 66.1L2303.4 64.4L2305.9 62.7L2308.4 61.0L2310.9 59.4L2313.4 57.9L2316.0 56.5L2318.6 55.1L2321.2 53.8L2323.8 52.6L2326.4 51.4L2329.1 50.4L2331.8 49.4L2334.5 48.6L2337.2 47.8L2339.9 47.1L2342.7 46.5L2345.4 46.1L2348.2 45.7L2351.1 45.5L2353.9 45.4L2356.7 45.4L2359.6 45.5L2362.4 45.8L2365.3 46.1L2368.1 46.6L2370.9 47.1L2373.7 47.8L2376.5 48.6L2379.3 49.5L2382.0 50.6L2384.7 51.7L2387.3 53.0L2390.0 54.3L2392.5 55.8L2395.0 57.4L2397.5 59.1L2399.9 60.9L2402.3 62.8L2404.6 64.7L2407.0 66.8L2409.2 68.8L2411.5 71.0L2413.7 73.2L2415.9 75.4L2418.1 77.7L2420.3 80.0L2422.4 82.3L2424.6 84.6L2426.7 86.9L2428.8 89.3L2431.0 91.6L2433.1 93.9L2435.2 96.2L2437.3 98.5L2439.5 100.7L2441.6 102.9L2443.7 105.0L2445.9 107.1L2448.1 109.0L2450.4 110.9L2452.6 112.7L2455.0 114.5L2457.3 116.0L2459.8 117.5L2462.2 118.9L2464.8 120.0L2467.5 121.1L2470.2 122.0L2473.0 122.7L2475.9 123.2L2479.0 123.5L2482.1 123.6" fill="none" stroke="#bf00bf" stroke-width="12.50" stroke-dasharray="46.25 20" stroke-linecap="butt" stroke-linejoin="round"/>
<rect x="1581.30" y="2.30" width="930.00" height="907.80" fill="none" stroke="#000" stroke-width="3.333" stroke-linejoin="miter"/>
<path d="M1610.30 910.10v14.58M1900.90 910.10v14.58M2191.50 910.10v14.58M2482.10 910.10v14.58M1581.30 123.30h-14.58M1581.30 312.50h-14.58M1581.30 501.70h-14.58M1581.30 690.80h-14.58M1581.30 880.00h-14.58" stroke="#000" stroke-width="3.333" fill="none"/>
<g font-family='"DejaVu Sans","Liberation Sans",sans-serif' font-size="75.00" fill="#000">
<text x="1610.30" y="995.77" text-anchor="middle">0</text>
<text x="1900.90" y="995.77" text-anchor="middle">1</text>
<text x="2191.50" y="995.77" text-anchor="middle">2</text>
<text x="2482.10" y="995.77" text-anchor="middle">3</text>
<text x="1552.13" y="150.90" text-anchor="end">2.00</text>
<text x="1552.13" y="340.10" text-anchor="end">1.75</text>
<text x="1552.13" y="529.30" text-anchor="end">1.50</text>
<text x="1552.13" y="718.40" text-anchor="end">1.25</text>
<text x="1552.13" y="907.60" text-anchor="end">1.00</text>
</g>
<text x="2046.30" y="1097.90" text-anchor="middle" font-family='"DejaVu Sans","Liberation Sans",sans-serif' font-size="91.67">t</text>
<text transform="translate(1350.00 456.20) rotate(-90)" text-anchor="middle" font-family='"DejaVu Sans","Liberation Sans",sans-serif' font-size="91.67">Position Variance</text>
<text x="1599.60" y="111.10" font-family='"DejaVu Sans","Liberation Sans",sans-serif' font-weight="bold" font-size="92.58">(b)</text>
</g>
<g>
<path d="M2888.9 559.5L2891.9 558.6L2894.7 557.5L2897.5 556.3L2900.1 555.0L2902.6 553.5L2905.0 551.9L2907.3 550.2L2909.5 548.3L2911.5 546.4L2913.5 544.3L2915.4 542.1L2917.3 539.9L2919.0 537.5L2920.7 535.1L2922.3 532.6L2923.8 530.0L2925.3 527.4L2926.7 524.7L2928.1 521.9L2929.5 519.1L2930.8 516.3L2932.0 513.4L2933.2 510.6L2934.4 507.6L2935.6 504.7L2936.8 501.8L2937.9 498.8L2939.0 495.9L2940.2 493.0L2941.3 490.1L2942.4 487.2L2943.6 484.3L2944.7 481.4L2945.9 478.5L2947.0 475.7L2948.2 472.9L2949.3 470.1L2950.5 467.3L2951.6 464.5L2952.8 461.7L2953.9 458.9L2955.1 456.2L2956.2 453.4L2957.4 450.7L2958.6 448.0L2959.7 445.3L2960.9 442.5L2962.1 439.8L2963.2 437.1L2964.4 434.4L2965.5 431.7L2966.7 429.0L2967.9 426.4L2969.0 423.7L2970.2 421.0L2971.4 418.3L2972.5 415.6L2973.7 413.0L2974.9 410.3L2976.0 407.6L2977.2 404.9L2978.4 402.3L2979.5 399.6L2980.7 396.9L2981.9 394.2L2983.0 391.5L2984.2 388.8L2985.3 386.1L2986.5 383.4L2987.6 380.7L2988.8 377.9L2989.9 375.2L2991.1 372.5L2992.2 369.7L2993.4 367.0L2994.5 364.2L2995.7 361.4L2996.8 358.6L2997.9 355.8L2999.1 353.0L3000.2 350.2L3001.4 347.4L3002.5 344.6L3003.6 341.8L3004.8 338.9L3005.9 336.1L3007.1 333.3L3008.2 330.4L3009.4 327.6L3010.5 324.7L3011.7 321.9L3012.9 319.0L3014.0 316.2L3015.2 313.3L3016.4 310.5L3017.6 307.6L3018.8 304.8L3020.0 301.9L3021.2 299.1L3022.4 296.3L3023.6 293.4L3024.8 290.6L3026.1 287.8L3027.3 284.9L3028.6 282.1L3029.8 279.3L3031.1 276.5L3032.4 273.7L3033.7 270.9L3035.0 268.1L3036.3 265.3L3037.6 262.5L3039.0 259.8L3040.3 257.0L3041.7 254.3L3043.1 251.5L3044.5 248.8L3045.9 246.1L3047.3 243.4L3048.7 240.7L3050.2 238.0L3051.7 235.4L3053.2 232.7L3054.7 230.1L3056.2 227.5L3057.7 224.9L3059.3 222.3L3060.8 219.7L3062.4 217.2L3064.0 214.7L3065.7 212.1L3067.3 209.6L3069.0 207.2L3070.7 204.7L3072.4 202.3L3074.1 199.9L3075.8 197.5L3077.6 195.1L3079.4 192.7L3081.2 190.4L3083.1 188.1L3084.9 185.8L3086.8 183.5L3088.7 181.3L3090.7 179.1L3092.6 176.9L3094.6 174.7L3096.6 172.6L3098.7 170.5L3100.7 168.4L3102.8 166.4L3104.9 164.3L3107.1 162.4L3109.2 160.4L3111.4 158.5L3113.7 156.5L3115.9 154.7L3118.2 152.8L3120.5 151.0L3122.9 149.2L3125.2 147.5L3127.7 145.8L3130.1 144.1L3132.6 142.5L3135.1 140.8L3137.6 139.3L3140.2 137.7L3142.8 136.2L3145.4 134.8L3148.0 133.3L3150.7 132.0L3153.4 130.6L3156.2 129.3L3158.9 128.0L3161.7 126.8L3164.5 125.6L3167.3 124.4L3170.2 123.3L3173.0 122.3L3175.9 121.2L3178.8 120.3L3181.7 119.3L3184.6 118.4L3187.6 117.6L3190.5 116.8L3193.5 116.0L3196.4 115.3L3199.4 114.6L3202.4 114.0L3205.4 113.4L3208.4 112.9L3211.4 112.4L3214.4 112.0L3217.4 111.6L3220.4 111.3L3223.5 111.0L3226.5 110.8L3229.5 110.6L3232.5 110.5L3235.5 110.4L3238.5 110.4L3241.5 110.4L3244.6 110.4L3247.6 110.5L3250.6 110.6L3253.6 110.8L3256.6 111.0L3259.6 111.3L3262.6 111.6L3265.6 111.9L3268.6 112.3L3271.6 112.7L3274.6 113.1L3277.6 113.6L3280.5 114.1L3283.5 114.7L3286.5 115.2L3289.4 115.8L3292.4 116.4L3295.3 117.1L3298.3 117.8L3301.2 118.5L3304.2 119.2L3307.1 120.0L3310.0 120.7L3312.9 121.6L3315.8 122.4L3318.7 123.2L3321.6 124.1L3324.5 125.0L3327.3 126.0L3330.2 127.0L3333.0 128.0L3335.8 129.0L3338.6 130.1L3341.3 131.2L3344.1 132.3L3346.8 133.5L3349.5 134.7L3352.2 136.0L3354.9 137.3L3357.6 138.6L3360.2 140.0L3362.8 141.4L3365.3 142.9L3367.9 144.4L3370.4 146.0L3372.9 147.6L3375.3 149.2L3377.7 151.0L3380.1 152.7L3382.5 154.5L3384.8 156.4L3387.1 158.3L3389.3 160.3L3391.6 162.3L3393.7 164.3L3395.9 166.4L3398.0 168.6L3400.1 170.8L3402.2 173.0L3404.2 175.2L3406.2 177.5L3408.2 179.9L3410.1 182.2L3412.1 184.6L3414.0 187.0L3415.8 189.4L3417.7 191.9L3419.5 194.3L3421.3 196.8L3423.1 199.3L3424.8 201.8L3426.5 204.3L3428.2 206.9L3429.9 209.4L3431.6 212.0L3433.2 214.5L3434.8 217.1L3436.5 219.6L3438.0 222.2L3439.6 224.8L3441.1 227.4L3442.7 229.9L3444.2 232.5L3445.7 235.1L3447.2 237.8L3448.6 240.4L3450.1 243.0L3451.5 245.6L3452.9 248.3L3454.3 250.9L3455.7 253.5L3457.0 256.2L3458.4 258.8L3459.7 261.5L3461.1 264.2L3462.4 266.9L3463.7 269.5L3465.0 272.2L3466.2 274.9L3467.5 277.6L3468.8 280.3L3470.0 283.0L3471.3 285.7L3472.5 288.5L3473.7 291.2L3474.9 293.9L3476.1 296.7L3477.3 299.4L3478.5 302.2L3479.6 304.9L3480.8 307.7L3482.0 310.4L3483.1 313.2L3484.3 316.0L3485.4 318.8L3486.5 321.6L3487.7 324.4L3488.8 327.1L3489.9 329.9L3491.0 332.7L3492.1 335.6L3493.2 338.4L3494.2 341.2L3495.3 344.0L3496.4 346.8L3497.5 349.7L3498.5 352.5L3499.6 355.3L3500.6 358.1L3501.6 361.0L3502.7 363.8L3503.7 366.7L3504.7 369.5L3505.8 372.4L3506.8 375.2L3507.8 378.1L3508.8 380.9L3509.8 383.8L3510.8 386.6L3511.7 389.5L3512.7 392.3L3513.7 395.2L3514.7 398.1L3515.7 400.9L3516.6 403.8L3517.6 406.7L3518.5 409.5L3519.5 412.4L3520.4 415.3L3521.4 418.1L3522.3 421.0L3523.3 423.9L3524.2 426.7L3525.1 429.6L3526.1 432.5L3527.0 435.3L3527.9 438.2L3528.8 441.1L3529.8 443.9L3530.7 446.8L3531.6 449.7L3532.5 452.6L3533.4 455.4L3534.3 458.3L3535.2 461.2L3536.1 464.0L3537.1 466.9L3538.0 469.8L3538.9 472.6L3539.8 475.5L3540.7 478.4L3541.6 481.2L3542.5 484.1L3543.4 487.0L3544.3 489.8L3545.2 492.7L3546.1 495.6L3547.0 498.4L3547.9 501.3L3548.8 504.2L3549.7 507.0L3550.6 509.9L3551.5 512.8L3552.4 515.6L3553.3 518.5L3554.2 521.4L3555.2 524.2L3556.1 527.1L3557.0 529.9L3557.9 532.8L3558.8 535.6L3559.8 538.5L3560.7 541.4L3561.6 544.2L3562.6 547.1L3563.5 549.9L3564.4 552.8L3565.4 555.6L3566.3 558.5L3567.3 561.3L3568.2 564.2L3569.2 567.0L3570.1 569.8L3571.1 572.7L3572.1 575.5L3573.0 578.4L3574.0 581.2L3575.0 584.0L3576.0 586.9L3577.0 589.7L3578.0 592.5L3579.0 595.4L3580.0 598.2L3581.0 601.0L3582.0 603.8L3583.1 606.7L3584.1 609.5L3585.1 612.3L3586.2 615.1L3587.2 617.9L3588.3 620.7L3589.3 623.5L3590.4 626.4L3591.5 629.2L3592.6 632.0L3593.7 634.8L3594.8 637.6L3595.9 640.4L3597.0 643.2L3598.1 645.9L3599.2 648.7L3600.4 651.5L3601.5 654.3L3602.7 657.1L3603.9 659.9L3605.0 662.7L3606.2 665.4L3607.4 668.2L3608.6 671.0L3609.8 673.7L3611.0 676.5L3612.3 679.3L3613.5 682.0L3614.7 684.8L3616.0 687.5L3617.3 690.3L3618.6 693.0L3620.0 695.7L3621.4 698.4L3622.9 701.0L3624.4 703.6L3626.1 706.2L3627.8 708.7L3629.7 711.1L3631.6 713.5L3633.7 715.8L3635.9 718.1L3638.2 720.2L3640.6 722.3L3643.2 724.1L3645.8 725.7L3648.4 727.1L3651.1 728.1L3653.8 728.8L3656.5 729.1L3659.2 729.0L3661.8 728.5L3664.4 727.5L3666.9 726.3L3669.3 724.7L3671.7 722.9L3674.0 720.9L3676.2 718.7L3678.4 716.4L3680.4 714.0L3682.3 711.5L3684.1 708.9L3685.9 706.3L3687.5 703.7L3689.1 701.0L3690.6 698.2L3692.1 695.5L3693.5 692.7L3694.8 689.9L3696.2 687.1L3697.4 684.3L3698.7 681.5L3699.9 678.8L3701.2 676.0L3702.4 673.3L3703.6 670.5L3704.7 667.8L3705.9 665.1L3707.0 662.4L3708.2 659.7L3709.3 657.0L3710.4 654.3L3711.5 651.6L3712.6 648.9L3713.7 646.2L3714.7 643.5L3715.8 640.8L3716.9 638.1L3718.0 635.4L3719.0 632.6L3720.1 629.9L3721.1 627.2L3722.2 624.4L3723.3 621.7L3724.3 618.9L3725.4 616.1L3726.5 613.3L3727.5 610.5L3728.6 607.7L3729.7 604.8L3730.8 602.0L3731.9 599.1L3733.0 596.2L3734.2 593.2L3735.3 590.3L3736.5 587.3L3737.6 584.3L3738.9 581.3L3740.2 578.5L3741.6 575.7L3743.0 573.0L3744.6 570.5L3746.4 568.1L3748.3 566.0L3750.3 564.1L3752.6 562.5L3755.1 561.1L3757.8 560.1L3760.7 559.5" fill="none" stroke="#1f77b4" stroke-width="12.50" stroke-linecap="square" stroke-linejoin="round"/>
<path d="M2888.9 559.5L2891.9 558.6L2894.8 557.6L2897.5 556.5L2900.2 555.2L2902.7 553.8L2905.1 552.2L2907.4 550.5L2909.6 548.7L2911.8 546.8L2913.8 544.8L2915.7 542.7L2917.6 540.5L2919.4 538.2L2921.1 535.8L2922.8 533.4L2924.3 530.8L2925.9 528.2L2927.3 525.6L2928.8 522.9L2930.1 520.1L2931.5 517.3L2932.8 514.5L2934.0 511.6L2935.2 508.7L2936.5 505.8L2937.6 502.9L2938.8 500.0L2940.0 497.1L2941.1 494.1L2942.3 491.2L2943.4 488.3L2944.6 485.5L2945.7 482.6L2946.9 479.7L2948.0 476.9L2949.2 474.1L2950.3 471.2L2951.5 468.4L2952.6 465.6L2953.8 462.8L2954.9 460.0L2956.1 457.3L2957.2 454.5L2958.4 451.8L2959.5 449.0L2960.7 446.3L2961.9 443.5L2963.0 440.8L2964.2 438.1L2965.3 435.4L2966.5 432.7L2967.6 429.9L2968.8 427.2L2970.0 424.5L2971.1 421.8L2972.3 419.2L2973.4 416.5L2974.6 413.8L2975.8 411.1L2976.9 408.4L2978.1 405.7L2979.2 403.0L2980.4 400.3L2981.6 397.6L2982.7 394.9L2983.9 392.2L2985.1 389.5L2986.2 386.8L2987.4 384.1L2988.6 381.4L2989.7 378.7L2990.9 376.0L2992.1 373.2L2993.2 370.5L2994.4 367.8L2995.6 365.0L2996.8 362.3L2997.9 359.5L2999.1 356.7L3000.3 354.0L3001.5 351.2L3002.7 348.4L3003.8 345.6L3005.0 342.8L3006.2 340.0L3007.4 337.2L3008.6 334.4L3009.8 331.6L3011.0 328.8L3012.2 326.0L3013.5 323.2L3014.7 320.4L3015.9 317.6L3017.1 314.8L3018.4 312.0L3019.6 309.2L3020.9 306.4L3022.2 303.6L3023.4 300.8L3024.7 298.0L3026.0 295.2L3027.3 292.4L3028.6 289.6L3029.9 286.8L3031.2 284.0L3032.6 281.3L3033.9 278.5L3035.3 275.7L3036.6 273.0L3038.0 270.2L3039.4 267.5L3040.8 264.8L3042.2 262.1L3043.6 259.4L3045.1 256.7L3046.5 254.0L3048.0 251.3L3049.5 248.6L3051.0 246.0L3052.5 243.3L3054.0 240.7L3055.5 238.1L3057.1 235.5L3058.6 232.9L3060.2 230.3L3061.8 227.7L3063.4 225.2L3065.1 222.7L3066.7 220.1L3068.4 217.6L3070.1 215.2L3071.8 212.7L3073.5 210.2L3075.2 207.8L3077.0 205.4L3078.8 203.0L3080.5 200.6L3082.4 198.3L3084.2 195.9L3086.1 193.6L3087.9 191.3L3089.8 189.1L3091.8 186.8L3093.7 184.6L3095.7 182.4L3097.7 180.2L3099.7 178.1L3101.7 175.9L3103.8 173.8L3105.8 171.7L3107.9 169.7L3110.1 167.7L3112.2 165.6L3114.4 163.7L3116.6 161.7L3118.8 159.8L3121.1 157.9L3123.4 156.1L3125.7 154.2L3128.0 152.4L3130.4 150.6L3132.8 148.9L3135.2 147.2L3137.6 145.5L3140.1 143.9L3142.6 142.2L3145.1 140.7L3147.7 139.1L3150.2 137.6L3152.8 136.1L3155.5 134.6L3158.1 133.2L3160.8 131.8L3163.5 130.5L3166.2 129.2L3168.9 127.9L3171.7 126.6L3174.4 125.4L3177.2 124.2L3180.0 123.1L3182.8 122.0L3185.7 120.9L3188.5 119.9L3191.4 118.9L3194.3 117.9L3197.2 117.0L3200.1 116.1L3203.0 115.3L3205.9 114.5L3208.9 113.7L3211.8 112.9L3214.8 112.3L3217.8 111.6L3220.8 111.0L3223.8 110.4L3226.8 109.9L3229.8 109.4L3232.8 108.9L3235.8 108.5L3238.8 108.1L3241.8 107.8L3244.9 107.5L3247.9 107.2L3250.9 107.0L3254.0 106.8L3257.0 106.7L3260.1 106.6L3263.1 106.5L3266.1 106.5L3269.2 106.6L3272.2 106.7L3275.2 106.8L3278.3 107.0L3281.3 107.2L3284.3 107.4L3287.3 107.8L3290.4 108.1L3293.4 108.5L3296.4 108.9L3299.3 109.4L3302.3 110.0L3305.3 110.5L3308.3 111.2L3311.2 111.8L3314.1 112.5L3317.1 113.3L3320.0 114.1L3322.9 115.0L3325.8 115.9L3328.6 116.8L3331.5 117.8L3334.3 118.9L3337.1 119.9L3339.9 121.1L3342.6 122.2L3345.4 123.5L3348.1 124.7L3350.8 126.1L3353.5 127.4L3356.1 128.8L3358.7 130.3L3361.3 131.8L3363.8 133.3L3366.3 134.9L3368.8 136.6L3371.3 138.3L3373.7 140.0L3376.1 141.8L3378.4 143.6L3380.7 145.5L3383.0 147.4L3385.2 149.3L3387.4 151.4L3389.6 153.4L3391.7 155.5L3393.8 157.6L3395.9 159.8L3397.9 162.0L3399.9 164.2L3401.9 166.5L3403.8 168.7L3405.7 171.1L3407.6 173.4L3409.5 175.8L3411.3 178.2L3413.1 180.6L3414.9 183.0L3416.7 185.5L3418.4 187.9L3420.1 190.4L3421.8 192.9L3423.5 195.4L3425.2 198.0L3426.8 200.5L3428.5 203.0L3430.1 205.6L3431.7 208.1L3433.3 210.7L3434.9 213.2L3436.4 215.8L3438.0 218.4L3439.5 221.0L3441.0 223.6L3442.5 226.2L3444.0 228.8L3445.4 231.5L3446.9 234.1L3448.3 236.7L3449.8 239.4L3451.2 242.0L3452.6 244.7L3454.0 247.4L3455.3 250.0L3456.7 252.7L3458.1 255.4L3459.4 258.1L3460.7 260.8L3462.0 263.5L3463.3 266.2L3464.6 268.9L3465.9 271.7L3467.2 274.4L3468.4 277.1L3469.7 279.9L3470.9 282.6L3472.1 285.4L3473.3 288.1L3474.5 290.9L3475.7 293.7L3476.9 296.4L3478.1 299.2L3479.2 302.0L3480.4 304.8L3481.5 307.6L3482.7 310.3L3483.8 313.1L3484.9 315.9L3486.0 318.7L3487.1 321.6L3488.2 324.4L3489.3 327.2L3490.4 330.0L3491.5 332.8L3492.5 335.6L3493.6 338.5L3494.6 341.3L3495.7 344.1L3496.7 347.0L3497.7 349.8L3498.8 352.6L3499.8 355.5L3500.8 358.3L3501.8 361.2L3502.8 364.0L3503.8 366.9L3504.8 369.7L3505.8 372.6L3506.8 375.4L3507.7 378.3L3508.7 381.1L3509.7 384.0L3510.6 386.9L3511.6 389.7L3512.6 392.6L3513.5 395.4L3514.5 398.3L3515.4 401.2L3516.3 404.0L3517.3 406.9L3518.2 409.8L3519.2 412.6L3520.1 415.5L3521.0 418.3L3521.9 421.2L3522.9 424.1L3523.8 426.9L3524.7 429.8L3525.6 432.7L3526.6 435.5L3527.5 438.4L3528.4 441.2L3529.3 444.1L3530.2 447.0L3531.1 449.8L3532.1 452.7L3533.0 455.5L3533.9 458.4L3534.8 461.3L3535.7 464.1L3536.6 467.0L3537.5 469.8L3538.4 472.7L3539.3 475.6L3540.2 478.4L3541.2 481.3L3542.1 484.1L3543.0 487.0L3543.9 489.9L3544.8 492.7L3545.7 495.6L3546.6 498.4L3547.5 501.3L3548.5 504.1L3549.4 507.0L3550.3 509.8L3551.2 512.7L3552.1 515.6L3553.1 518.4L3554.0 521.3L3554.9 524.1L3555.8 527.0L3556.8 529.8L3557.7 532.7L3558.6 535.5L3559.6 538.4L3560.5 541.2L3561.5 544.1L3562.4 546.9L3563.4 549.7L3564.3 552.6L3565.3 555.4L3566.2 558.3L3567.2 561.1L3568.2 564.0L3569.2 566.8L3570.1 569.6L3571.1 572.5L3572.1 575.3L3573.1 578.1L3574.1 581.0L3575.1 583.8L3576.1 586.7L3577.1 589.5L3578.1 592.3L3579.1 595.1L3580.1 598.0L3581.2 600.8L3582.2 603.6L3583.2 606.5L3584.3 609.3L3585.3 612.1L3586.4 614.9L3587.4 617.8L3588.5 620.6L3589.6 623.4L3590.7 626.2L3591.7 629.0L3592.8 631.8L3593.9 634.7L3595.0 637.5L3596.1 640.3L3597.3 643.1L3598.4 645.9L3599.5 648.7L3600.7 651.5L3601.8 654.3L3603.0 657.1L3604.1 659.9L3605.3 662.7L3606.5 665.5L3607.7 668.3L3608.8 671.1L3610.0 673.9L3611.3 676.7L3612.5 679.5L3613.7 682.3L3614.9 685.1L3616.2 687.9L3617.5 690.6L3618.8 693.4L3620.1 696.1L3621.5 698.8L3623.0 701.5L3624.5 704.1L3626.2 706.6L3627.9 709.1L3629.7 711.6L3631.6 713.9L3633.7 716.2L3635.9 718.4L3638.2 720.4L3640.6 722.4L3643.2 724.1L3645.8 725.7L3648.4 726.9L3651.1 727.9L3653.8 728.6L3656.5 728.9L3659.1 728.8L3661.8 728.3L3664.3 727.4L3666.9 726.2L3669.3 724.8L3671.7 723.1L3674.0 721.1L3676.2 719.0L3678.4 716.8L3680.4 714.4L3682.3 711.9L3684.2 709.4L3685.9 706.8L3687.6 704.1L3689.2 701.4L3690.7 698.6L3692.1 695.8L3693.6 693.0L3694.9 690.1L3696.2 687.3L3697.5 684.4L3698.8 681.6L3700.0 678.8L3701.2 676.0L3702.4 673.2L3703.6 670.4L3704.8 667.7L3705.9 664.9L3707.1 662.2L3708.2 659.5L3709.3 656.8L3710.4 654.1L3711.5 651.4L3712.6 648.7L3713.7 646.0L3714.7 643.3L3715.8 640.6L3716.9 637.9L3717.9 635.2L3719.0 632.5L3720.0 629.8L3721.1 627.1L3722.1 624.3L3723.2 621.6L3724.2 618.8L3725.3 616.1L3726.4 613.3L3727.4 610.5L3728.5 607.7L3729.6 604.9L3730.7 602.0L3731.8 599.1L3732.9 596.2L3734.1 593.3L3735.2 590.3L3736.4 587.3L3737.6 584.4L3738.8 581.4L3740.1 578.5L3741.5 575.7L3743.0 573.0L3744.7 570.5L3746.4 568.2L3748.3 566.0L3750.4 564.1L3752.6 562.5L3755.1 561.2L3757.8 560.1L3760.7 559.5" fill="none" stroke="#ff7f0e" stroke-width="12.50" stroke-dasharray="46.25 20" stroke-linecap="butt" stroke-linejoin="round"/>
<path d="M2888.9 559.5L2891.3 557.5L2893.6 555.4L2895.8 553.2L2897.8 550.9L2899.6 548.6L2901.4 546.2L2903.0 543.7L2904.5 541.2L2905.9 538.6L2907.3 536.0L2908.5 533.3L2909.6 530.6L2910.7 527.8L2911.7 525.0L2912.7 522.2L2913.6 519.4L2914.5 516.5L2915.3 513.6L2916.1 510.7L2916.9 507.8L2917.6 504.8L2918.4 501.9L2919.2 499.0L2919.9 496.0L2920.7 493.1L2921.5 490.2L2922.3 487.3L2923.0 484.3L2923.8 481.4L2924.6 478.5L2925.4 475.6L2926.2 472.7L2927.0 469.7L2927.8 466.8L2928.6 463.9L2929.4 461.0L2930.2 458.1L2931.0 455.2L2931.8 452.3L2932.6 449.4L2933.4 446.5L2934.2 443.6L2935.0 440.7L2935.8 437.8L2936.6 434.9L2937.4 432.0L2938.3 429.1L2939.1 426.2L2939.9 423.3L2940.7 420.4L2941.6 417.5L2942.4 414.6L2943.2 411.7L2944.1 408.8L2944.9 405.9L2945.7 403.0L2946.6 400.2L2947.4 397.3L2948.3 394.4L2949.1 391.5L2950.0 388.6L2950.8 385.8L2951.7 382.9L2952.5 380.0L2953.4 377.1L2954.2 374.3L2955.1 371.4L2956.0 368.5L2956.8 365.7L2957.7 362.8L2958.6 359.9L2959.4 357.1L2960.3 354.2L2961.2 351.3L2962.1 348.5L2963.0 345.6L2963.9 342.8L2964.8 339.9L2965.8 337.1L2966.7 334.2L2967.6 331.4L2968.6 328.6L2969.6 325.7L2970.6 322.9L2971.6 320.1L2972.6 317.3L2973.6 314.5L2974.6 311.7L2975.7 308.9L2976.8 306.1L2977.9 303.3L2979.0 300.5L2980.1 297.7L2981.2 294.9L2982.4 292.2L2983.6 289.4L2984.8 286.6L2986.0 283.9L2987.3 281.2L2988.6 278.4L2989.9 275.7L2991.2 273.0L2992.6 270.3L2994.0 267.6L2995.4 264.9L2996.8 262.2L2998.3 259.5L2999.8 256.8L3001.3 254.1L3002.9 251.5L3004.4 248.8L3006.1 246.2L3007.7 243.6L3009.4 241.0L3011.2 238.5L3013.0 236.0L3014.8 233.6L3016.7 231.2L3018.7 228.9L3020.7 226.7L3022.8 224.6L3025.0 222.6L3027.2 220.7L3029.5 218.9L3031.9 217.2L3034.4 215.6L3036.9 214.2L3039.5 212.9L3042.2 211.7L3045.0 210.6L3047.8 209.6L3050.6 208.8L3053.5 208.0L3056.4 207.3L3059.4 206.6L3062.4 206.1L3065.4 205.6L3068.4 205.2L3071.5 204.8L3074.5 204.5L3077.5 204.2L3080.6 204.0L3083.6 203.8L3086.6 203.6L3089.7 203.5L3092.7 203.5L3095.7 203.4L3098.7 203.4L3101.7 203.4L3104.8 203.5L3107.8 203.6L3110.8 203.7L3113.8 203.8L3116.8 203.9L3119.9 204.1L3122.9 204.2L3125.9 204.4L3128.9 204.6L3131.9 204.8L3134.9 205.0L3137.9 205.2L3140.9 205.4L3143.9 205.6L3146.9 205.8L3149.9 206.0L3153.0 206.1L3156.0 206.3L3159.0 206.5L3162.0 206.6L3164.9 206.7L3167.9 206.8L3170.9 206.9L3173.9 207.0L3176.9 207.0L3179.9 207.0L3182.9 207.0L3185.9 206.9L3188.9 206.8L3191.9 206.7L3194.9 206.6L3197.9 206.4L3200.8 206.2L3203.8 206.0L3206.8 205.8L3209.8 205.5L3212.8 205.2L3215.8 204.9L3218.7 204.6L3221.7 204.3L3224.7 203.9L3227.7 203.6L3230.7 203.2L3233.7 202.8L3236.7 202.4L3239.6 202.0L3242.6 201.7L3245.6 201.3L3248.6 200.9L3251.6 200.5L3254.6 200.1L3257.6 199.7L3260.5 199.3L3263.5 198.9L3266.5 198.5L3269.5 198.2L3272.5 197.8L3275.5 197.5L3278.5 197.2L3281.5 196.8L3284.5 196.6L3287.5 196.3L3290.5 196.0L3293.5 195.8L3296.5 195.6L3299.5 195.4L3302.5 195.2L3305.6 195.1L3308.6 195.0L3311.6 194.9L3314.6 194.9L3317.6 194.8L3320.7 194.9L3323.7 194.9L3326.7 195.0L3329.7 195.1L3332.8 195.3L3335.8 195.5L3338.8 195.7L3341.9 196.0L3344.9 196.3L3347.9 196.6L3350.9 196.9L3353.9 197.3L3356.9 197.8L3359.9 198.2L3362.9 198.7L3365.9 199.3L3368.9 199.8L3371.9 200.4L3374.8 201.1L3377.8 201.7L3380.7 202.4L3383.7 203.2L3386.6 203.9L3389.5 204.7L3392.4 205.6L3395.3 206.5L3398.2 207.4L3401.0 208.3L3403.9 209.3L3406.7 210.3L3409.5 211.4L3412.4 212.4L3415.1 213.6L3417.9 214.7L3420.7 215.9L3423.4 217.1L3426.1 218.4L3428.8 219.7L3431.5 221.0L3434.1 222.4L3436.8 223.8L3439.4 225.2L3442.0 226.7L3444.5 228.2L3447.1 229.7L3449.6 231.3L3452.1 232.9L3454.6 234.5L3457.0 236.2L3459.4 237.9L3461.8 239.7L3464.2 241.5L3466.5 243.3L3468.8 245.2L3471.1 247.1L3473.4 249.0L3475.6 251.0L3477.8 253.0L3479.9 255.0L3482.1 257.1L3484.1 259.2L3486.2 261.3L3488.2 263.5L3490.2 265.7L3492.2 268.0L3494.1 270.3L3496.0 272.6L3497.8 275.0L3499.6 277.4L3501.4 279.8L3503.2 282.2L3504.9 284.7L3506.6 287.2L3508.2 289.8L3509.8 292.3L3511.4 294.9L3513.0 297.5L3514.5 300.2L3516.1 302.8L3517.6 305.5L3519.0 308.2L3520.5 310.9L3521.9 313.6L3523.3 316.3L3524.7 319.1L3526.0 321.8L3527.4 324.6L3528.7 327.4L3530.0 330.2L3531.3 332.9L3532.5 335.7L3533.8 338.5L3535.0 341.3L3536.2 344.1L3537.5 346.9L3538.7 349.7L3539.8 352.5L3541.0 355.2L3542.2 358.0L3543.3 360.8L3544.5 363.6L3545.6 366.4L3546.7 369.1L3547.8 371.9L3548.9 374.7L3550.0 377.4L3551.1 380.2L3552.2 383.0L3553.2 385.8L3554.3 388.5L3555.3 391.3L3556.4 394.1L3557.4 396.9L3558.4 399.6L3559.4 402.4L3560.4 405.2L3561.4 408.0L3562.4 410.8L3563.4 413.6L3564.3 416.4L3565.3 419.2L3566.3 422.0L3567.2 424.8L3568.1 427.6L3569.1 430.4L3570.0 433.2L3570.9 436.0L3571.8 438.9L3572.7 441.7L3573.7 444.5L3574.5 447.4L3575.4 450.2L3576.3 453.1L3577.2 455.9L3578.1 458.8L3579.0 461.7L3579.8 464.6L3580.7 467.4L3581.6 470.3L3582.4 473.2L3583.3 476.1L3584.1 479.0L3584.9 481.9L3585.8 484.9L3586.6 487.8L3587.4 490.7L3588.3 493.6L3589.1 496.5L3589.9 499.5L3590.7 502.4L3591.5 505.3L3592.3 508.3L3593.1 511.2L3594.0 514.2L3594.7 517.1L3595.5 520.0L3596.3 523.0L3597.1 525.9L3597.9 528.9L3598.7 531.8L3599.5 534.8L3600.3 537.8L3601.0 540.7L3601.8 543.7L3602.6 546.6L3603.4 549.6L3604.1 552.5L3604.9 555.5L3605.7 558.4L3606.4 561.4L3607.2 564.3L3608.0 567.3L3608.7 570.2L3609.5 573.2L3610.2 576.1L3611.0 579.1L3611.8 582.0L3612.5 584.9L3613.3 587.9L3614.0 590.8L3614.8 593.7L3615.5 596.7L3616.3 599.6L3617.0 602.5L3617.8 605.4L3618.5 608.4L3619.3 611.3L3620.0 614.2L3620.8 617.1L3621.6 620.0L3622.3 622.9L3623.1 625.7L3623.8 628.6L3624.6 631.5L3625.3 634.4L3626.1 637.2L3626.9 640.1L3627.6 643.0L3628.4 645.8L3629.1 648.6L3629.9 651.5L3630.7 654.3L3631.4 657.1L3632.2 659.9L3633.0 662.7L3633.8 665.5L3634.5 668.3L3635.3 671.1L3636.1 673.9L3636.9 676.7L3637.6 679.4L3638.4 682.2L3639.2 684.9L3640.0 687.6L3640.8 690.4L3641.6 693.1L3642.4 695.8L3643.2 698.5L3644.1 701.3L3644.9 704.0L3645.8 706.8L3646.6 709.6L3647.5 712.4L3648.4 715.2L3649.4 718.0L3650.3 720.9L3651.3 723.8L3652.2 726.7L3653.3 729.6L3654.3 732.6L3655.4 735.7L3656.5 738.8L3657.6 741.9L3658.7 745.1L3659.9 748.3L3661.1 751.6L3662.4 754.8L3663.7 758.1L3665.2 761.2L3666.6 764.2L3668.2 767.0L3669.9 769.7L3671.7 772.1L3673.7 774.2L3675.7 775.9L3678.0 777.3L3680.3 778.3L3682.8 778.9L3685.3 779.1L3687.8 778.8L3690.3 778.0L3692.6 776.7L3694.8 775.0L3696.8 772.9L3698.6 770.5L3700.3 767.9L3701.8 765.1L3703.2 762.3L3704.5 759.4L3705.7 756.4L3706.8 753.4L3707.8 750.5L3708.7 747.5L3709.6 744.5L3710.5 741.5L3711.4 738.5L3712.3 735.5L3713.1 732.5L3713.9 729.5L3714.7 726.5L3715.5 723.5L3716.2 720.6L3717.0 717.6L3717.7 714.6L3718.5 711.7L3719.2 708.7L3719.9 705.8L3720.6 702.8L3721.2 699.9L3721.9 696.9L3722.6 694.0L3723.2 691.1L3723.9 688.1L3724.5 685.2L3725.2 682.3L3725.8 679.4L3726.4 676.5L3727.1 673.5L3727.7 670.6L3728.3 667.7L3729.0 664.8L3729.6 661.9L3730.3 659.0L3730.9 656.2L3731.5 653.3L3732.2 650.4L3732.8 647.5L3733.5 644.6L3734.2 641.7L3734.9 638.9L3735.5 636.0L3736.2 633.1L3737.0 630.3L3737.7 627.4L3738.4 624.6L3739.2 621.7L3739.9 618.8L3740.7 616.0L3741.5 613.2L3742.3 610.3L3743.1 607.5L3744.0 604.6L3744.8 601.8L3745.7 599.0L3746.6 596.1L3747.5 593.3L3748.5 590.5L3749.5 587.6L3750.5 584.8L3751.5 582.0L3752.5 579.2L3753.6 576.4L3754.7 573.5L3755.9 570.7L3757.0 567.9L3758.2 565.1L3759.4 562.3L3760.7 559.5" fill="none" stroke="#2ca02c" stroke-width="12.50" stroke-dasharray="46.25 20" stroke-linecap="butt" stroke-linejoin="round"/>
<path d="M2888.9 559.5L2890.8 557.4L2892.4 555.2L2893.9 552.8L2895.2 550.3L2896.4 547.7L2897.4 545.0L2898.3 542.2L2899.1 539.3L2899.9 536.3L2900.5 533.3L2901.1 530.3L2901.6 527.2L2902.1 524.1L2902.6 521.0L2903.0 517.9L2903.5 514.8L2904.0 511.8L2904.5 508.8L2905.0 505.8L2905.5 502.8L2906.0 499.8L2906.6 496.9L2907.1 494.0L2907.7 491.0L2908.2 488.1L2908.8 485.2L2909.3 482.3L2909.9 479.4L2910.4 476.5L2911.0 473.7L2911.6 470.8L2912.1 467.9L2912.7 465.0L2913.2 462.1L2913.7 459.2L2914.3 456.3L2914.8 453.4L2915.3 450.5L2915.9 447.6L2916.4 444.6L2916.9 441.7L2917.4 438.7L2917.9 435.8L2918.3 432.8L2918.8 429.8L2919.3 426.8L2919.8 423.8L2920.2 420.8L2920.7 417.8L2921.2 414.8L2921.7 411.8L2922.1 408.8L2922.6 405.8L2923.1 402.8L2923.5 399.7L2924.0 396.7L2924.5 393.7L2925.0 390.7L2925.5 387.7L2925.9 384.7L2926.4 381.6L2926.9 378.6L2927.5 375.6L2928.0 372.6L2928.5 369.6L2929.0 366.7L2929.6 363.7L2930.1 360.7L2930.7 357.7L2931.2 354.8L2931.8 351.8L2932.4 348.9L2933.0 346.0L2933.7 343.0L2934.3 340.1L2934.9 337.2L2935.6 334.4L2936.3 331.5L2937.0 328.6L2937.7 325.8L2938.4 323.0L2939.2 320.2L2939.9 317.4L2940.7 314.6L2941.5 311.8L2942.3 309.0L2943.1 306.2L2944.0 303.4L2944.8 300.6L2945.7 297.8L2946.5 294.9L2947.4 292.0L2948.3 289.1L2949.2 286.2L2950.1 283.2L2951.0 280.1L2951.9 277.1L2952.9 274.0L2953.8 271.0L2954.9 267.9L2956.0 264.9L2957.2 262.0L2958.4 259.1L2959.8 256.3L2961.3 253.6L2962.8 251.1L2964.5 248.6L2966.3 246.3L2968.3 244.1L2970.4 242.2L2972.7 240.4L2975.2 238.7L2977.7 237.3L2980.4 236.1L2983.2 235.1L2986.0 234.4L2988.9 233.8L2991.8 233.4L2994.7 233.3L2997.6 233.4L3000.6 233.6L3003.5 234.1L3006.4 234.6L3009.3 235.3L3012.2 236.1L3015.1 237.0L3018.0 237.9L3020.9 238.9L3023.8 239.9L3026.7 240.9L3029.6 241.9L3032.5 242.9L3035.5 243.8L3038.4 244.6L3041.4 245.4L3044.3 246.1L3047.3 246.7L3050.2 247.3L3053.2 247.8L3056.1 248.3L3059.1 248.7L3062.1 249.1L3065.0 249.4L3068.0 249.7L3071.0 249.9L3074.0 250.0L3077.0 250.2L3080.0 250.2L3083.0 250.3L3086.0 250.3L3089.0 250.2L3092.0 250.1L3095.0 250.0L3098.0 249.9L3101.0 249.7L3104.0 249.4L3107.0 249.2L3110.0 248.9L3113.0 248.6L3116.0 248.3L3119.0 247.9L3122.0 247.5L3125.0 247.1L3128.0 246.7L3131.0 246.2L3134.0 245.8L3137.1 245.3L3140.1 244.8L3143.1 244.3L3146.1 243.8L3149.0 243.3L3152.0 242.7L3155.0 242.2L3158.0 241.7L3161.0 241.1L3164.0 240.6L3167.0 240.0L3169.9 239.5L3172.9 238.9L3175.9 238.4L3178.9 237.8L3181.8 237.3L3184.8 236.7L3187.7 236.2L3190.7 235.7L3193.6 235.1L3196.6 234.6L3199.6 234.1L3202.5 233.6L3205.5 233.1L3208.4 232.6L3211.4 232.1L3214.3 231.6L3217.3 231.1L3220.2 230.7L3223.1 230.2L3226.1 229.7L3229.0 229.3L3232.0 228.9L3234.9 228.4L3237.9 228.0L3240.9 227.6L3243.8 227.2L3246.8 226.9L3249.7 226.5L3252.7 226.2L3255.6 225.8L3258.6 225.5L3261.6 225.2L3264.6 224.9L3267.5 224.6L3270.5 224.4L3273.5 224.1L3276.5 223.9L3279.5 223.7L3282.5 223.5L3285.5 223.3L3288.5 223.2L3291.5 223.1L3294.5 222.9L3297.5 222.8L3300.5 222.8L3303.6 222.7L3306.6 222.7L3309.6 222.7L3312.7 222.7L3315.7 222.7L3318.8 222.8L3321.8 222.9L3324.9 222.9L3327.9 223.1L3331.0 223.2L3334.0 223.4L3337.1 223.6L3340.1 223.8L3343.2 224.0L3346.2 224.3L3349.3 224.6L3352.3 224.9L3355.3 225.2L3358.4 225.6L3361.4 225.9L3364.4 226.3L3367.5 226.8L3370.5 227.2L3373.5 227.7L3376.5 228.2L3379.5 228.8L3382.5 229.3L3385.5 229.9L3388.4 230.5L3391.4 231.2L3394.4 231.8L3397.3 232.5L3400.2 233.2L3403.2 234.0L3406.1 234.8L3409.0 235.6L3411.9 236.4L3414.8 237.3L3417.6 238.2L3420.5 239.1L3423.3 240.0L3426.1 241.0L3429.0 242.0L3431.7 243.0L3434.5 244.1L3437.3 245.2L3440.0 246.3L3442.8 247.5L3445.5 248.7L3448.2 249.9L3450.8 251.2L3453.5 252.4L3456.1 253.8L3458.8 255.1L3461.4 256.5L3463.9 257.9L3466.5 259.3L3469.0 260.8L3471.5 262.3L3474.0 263.9L3476.5 265.4L3478.9 267.0L3481.3 268.7L3483.7 270.4L3486.1 272.1L3488.4 273.8L3490.8 275.6L3493.0 277.4L3495.3 279.3L3497.6 281.1L3499.8 283.0L3502.0 285.0L3504.1 287.0L3506.3 289.0L3508.4 291.0L3510.5 293.0L3512.6 295.1L3514.6 297.3L3516.7 299.4L3518.7 301.6L3520.6 303.8L3522.6 306.0L3524.5 308.2L3526.5 310.5L3528.4 312.8L3530.2 315.1L3532.1 317.5L3533.9 319.8L3535.7 322.2L3537.5 324.6L3539.3 327.1L3541.1 329.5L3542.8 332.0L3544.5 334.5L3546.2 337.0L3547.9 339.5L3549.5 342.1L3551.2 344.6L3552.8 347.2L3554.4 349.8L3556.0 352.4L3557.5 355.0L3559.1 357.7L3560.6 360.3L3562.1 363.0L3563.6 365.7L3565.1 368.4L3566.6 371.1L3568.0 373.8L3569.4 376.5L3570.9 379.3L3572.3 382.0L3573.6 384.8L3575.0 387.5L3576.4 390.3L3577.7 393.1L3579.0 395.9L3580.3 398.7L3581.6 401.5L3582.9 404.3L3584.2 407.1L3585.4 409.9L3586.6 412.8L3587.9 415.6L3589.1 418.4L3590.3 421.3L3591.5 424.1L3592.6 426.9L3593.8 429.8L3595.0 432.6L3596.1 435.4L3597.2 438.3L3598.3 441.1L3599.4 443.9L3600.5 446.8L3601.6 449.6L3602.7 452.4L3603.7 455.3L3604.8 458.1L3605.8 460.9L3606.9 463.8L3607.9 466.6L3608.9 469.4L3609.9 472.2L3610.9 475.1L3611.9 477.9L3612.8 480.7L3613.8 483.6L3614.7 486.4L3615.7 489.2L3616.6 492.1L3617.5 494.9L3618.4 497.7L3619.4 500.5L3620.3 503.4L3621.1 506.2L3622.0 509.0L3622.9 511.9L3623.8 514.7L3624.6 517.6L3625.5 520.4L3626.3 523.2L3627.1 526.1L3628.0 528.9L3628.8 531.7L3629.6 534.6L3630.4 537.4L3631.2 540.3L3632.0 543.1L3632.8 546.0L3633.6 548.8L3634.3 551.7L3635.1 554.5L3635.9 557.4L3636.6 560.2L3637.4 563.1L3638.1 565.9L3638.8 568.8L3639.6 571.7L3640.3 574.5L3641.0 577.4L3641.7 580.3L3642.4 583.1L3643.2 586.0L3643.9 588.9L3644.6 591.8L3645.2 594.7L3645.9 597.5L3646.6 600.4L3647.3 603.3L3648.0 606.2L3648.6 609.1L3649.3 612.0L3650.0 614.9L3650.6 617.8L3651.3 620.7L3652.0 623.6L3652.6 626.5L3653.3 629.4L3653.9 632.3L3654.6 635.3L3655.2 638.2L3655.8 641.1L3656.5 644.0L3657.1 647.0L3657.8 649.9L3658.4 652.9L3659.0 655.8L3659.7 658.8L3660.3 661.7L3660.9 664.7L3661.5 667.6L3662.2 670.6L3662.8 673.6L3663.4 676.5L3664.0 679.5L3664.7 682.5L3665.3 685.5L3665.9 688.5L3666.5 691.4L3667.1 694.4L3667.8 697.4L3668.4 700.4L3669.0 703.5L3669.6 706.5L3670.3 709.5L3670.9 712.5L3671.5 715.5L3672.2 718.5L3672.8 721.5L3673.4 724.5L3674.1 727.5L3674.7 730.5L3675.3 733.5L3676.0 736.5L3676.6 739.5L3677.3 742.5L3677.9 745.5L3678.6 748.5L3679.2 751.4L3679.9 754.4L3680.6 757.4L3681.2 760.3L3681.9 763.3L3682.6 766.2L3683.3 769.1L3684.0 772.0L3684.6 774.9L3685.3 777.8L3686.0 780.7L3686.8 783.6L3687.5 786.5L3688.2 789.3L3688.9 792.1L3689.7 794.9L3690.4 797.8L3691.1 800.5L3691.9 803.3L3692.7 806.1L3693.5 808.9L3694.3 811.7L3695.2 814.5L3696.2 817.4L3697.3 820.4L3698.5 823.3L3699.8 826.2L3701.5 828.9L3703.6 831.4L3705.9 833.4L3708.3 834.2L3710.5 833.4L3712.5 831.3L3714.4 828.7L3716.0 826.0L3717.5 823.2L3718.8 820.4L3719.9 817.5L3721.0 814.7L3721.9 811.8L3722.7 808.9L3723.4 806.0L3724.1 803.1L3724.7 800.1L3725.2 797.2L3725.8 794.2L3726.3 791.3L3726.8 788.3L3727.3 785.3L3727.8 782.4L3728.3 779.4L3728.8 776.4L3729.3 773.5L3729.7 770.5L3730.2 767.5L3730.6 764.6L3731.0 761.6L3731.5 758.6L3731.9 755.6L3732.3 752.7L3732.7 749.7L3733.1 746.7L3733.5 743.7L3733.9 740.7L3734.2 737.7L3734.6 734.8L3735.0 731.8L3735.3 728.8L3735.7 725.8L3736.1 722.8L3736.4 719.8L3736.8 716.8L3737.1 713.8L3737.4 710.8L3737.8 707.9L3738.1 704.9L3738.5 701.9L3738.8 698.9L3739.1 695.9L3739.5 692.9L3739.8 689.9L3740.2 686.9L3740.5 683.9L3740.9 680.9L3741.2 677.9L3741.5 675.0L3741.9 672.0L3742.2 669.0L3742.6 666.0L3743.0 663.0L3743.3 660.0L3743.7 657.0L3744.1 654.0L3744.4 651.1L3744.8 648.1L3745.2 645.1L3745.6 642.1L3746.0 639.1L3746.4 636.2L3746.8 633.2L3747.3 630.2L3747.7 627.2L3748.1 624.3L3748.6 621.3L3749.0 618.3L3749.5 615.4L3750.0 612.4L3750.5 609.5L3751.0 606.5L3751.5 603.5L3752.0 600.6L3752.5 597.6L3753.1 594.7L3753.6 591.7L3754.2 588.8L3754.8 585.8L3755.4 582.9L3756.0 580.0L3756.6 577.0L3757.3 574.1L3757.9 571.2L3758.6 568.3L3759.3 565.3L3760.0 562.4L3760.7 559.5" fill="none" stroke="#bf00bf" stroke-width="12.50" stroke-dasharray="46.25 20" stroke-linecap="butt" stroke-linejoin="round"/>
<rect x="2860.00" y="2.30" width="930.20" height="907.80" fill="none" stroke="#000" stroke-width="3.333" stroke-linejoin="miter"/>
<path d="M2888.90 910.10v14.58M3179.50 910.10v14.58M3470.10 910.10v14.58M3760.70 910.10v14.58M2860.00 41.55h-14.58M2860.00 300.70h-14.58M2860.00 559.70h-14.58M2860.00 819.40h-14.58" stroke="#000" stroke-width="3.333" fill="none"/>
<g font-family='"DejaVu Sans","Liberation Sans",sans-serif' font-size="75.00" fill="#000">
<text x="2888.90" y="995.77" text-anchor="middle">0</text>
<text x="3179.50" y="995.77" text-anchor="middle">1</text>
<text x="3470.10" y="995.77" text-anchor="middle">2</text>
<text x="3760.70" y="995.77" text-anchor="middle">3</text>
<text x="2830.83" y="69.15" text-anchor="end">0.4</text>
<text x="2830.83" y="328.30" text-anchor="end">0.2</text>
<text x="2830.83" y="587.30" text-anchor="end">0.0</text>
<text x="2830.83" y="847.00" text-anchor="end">−0.2</text>
</g>
<text x="3325.10" y="1097.90" text-anchor="middle" font-family='"DejaVu Sans","Liberation Sans",sans-serif' font-size="91.67">t</text>
<text transform="translate(2613.00 456.20) rotate(-90)" text-anchor="middle" font-family='"DejaVu Sans","Liberation Sans",sans-serif' font-size="91.67">Cross Correlation</text>
<text x="2878.30" y="111.10" font-family='"DejaVu Sans","Liberation Sans",sans-serif' font-weight="bold" font-size="92.58">(c)</text>
</g>
<g>
<path d="M351.7 1340.6L352.2 1343.6L352.7 1346.6L353.2 1349.6L353.7 1352.6L354.2 1355.5L354.7 1358.5L355.3 1361.5L355.8 1364.5L356.4 1367.4L357.0 1370.4L357.6 1373.3L358.2 1376.3L358.8 1379.2L359.5 1382.2L360.1 1385.1L360.8 1388.0L361.4 1391.0L362.1 1393.9L362.8 1396.8L363.5 1399.7L364.2 1402.6L364.9 1405.6L365.6 1408.5L366.3 1411.4L367.1 1414.3L367.8 1417.2L368.6 1420.1L369.4 1423.0L370.1 1425.9L370.9 1428.8L371.7 1431.7L372.5 1434.5L373.3 1437.4L374.1 1440.3L374.9 1443.2L375.8 1446.1L376.6 1449.0L377.4 1451.8L378.3 1454.7L379.1 1457.6L380.0 1460.5L380.8 1463.3L381.7 1466.2L382.6 1469.1L383.4 1471.9L384.3 1474.8L385.2 1477.7L386.1 1480.5L387.0 1483.4L387.9 1486.3L388.8 1489.1L389.7 1492.0L390.6 1494.8L391.5 1497.7L392.4 1500.6L393.3 1503.4L394.2 1506.3L395.1 1509.2L396.1 1512.0L397.0 1514.9L397.9 1517.8L398.8 1520.6L399.8 1523.5L400.7 1526.4L401.6 1529.2L402.5 1532.1L403.5 1535.0L404.4 1537.8L405.4 1540.7L406.3 1543.5L407.3 1546.4L408.2 1549.3L409.2 1552.1L410.2 1555.0L411.2 1557.8L412.2 1560.7L413.2 1563.5L414.2 1566.3L415.2 1569.1L416.3 1572.0L417.3 1574.8L418.4 1577.6L419.5 1580.4L420.6 1583.2L421.8 1586.0L422.9 1588.7L424.1 1591.5L425.3 1594.2L426.5 1597.0L427.7 1599.7L429.0 1602.4L430.2 1605.2L431.5 1607.9L432.9 1610.5L434.2 1613.2L435.6 1615.9L437.0 1618.5L438.4 1621.2L439.9 1623.8L441.4 1626.4L442.9 1629.0L444.4 1631.5L446.0 1634.1L447.6 1636.6L449.3 1639.1L451.0 1641.6L452.7 1644.1L454.5 1646.6L456.2 1649.0L458.1 1651.5L459.9 1653.9L461.9 1656.3L463.8 1658.6L465.8 1661.0L467.8 1663.3L469.8 1665.5L471.9 1667.8L474.0 1670.0L476.2 1672.2L478.3 1674.3L480.6 1676.4L482.8 1678.5L485.1 1680.5L487.4 1682.4L489.7 1684.4L492.1 1686.2L494.5 1688.1L496.9 1689.8L499.3 1691.6L501.8 1693.2L504.3 1694.8L506.8 1696.4L509.4 1697.9L512.0 1699.3L514.6 1700.7L517.2 1702.0L519.9 1703.2L522.5 1704.4L525.2 1705.5L528.0 1706.5L530.7 1707.4L533.5 1708.3L536.2 1709.1L539.0 1709.8L541.9 1710.4L544.7 1710.9L547.6 1711.4L550.4 1711.7L553.3 1712.0L556.3 1712.3L559.2 1712.4L562.1 1712.5L565.1 1712.5L568.0 1712.4L571.0 1712.3L574.0 1712.1L577.0 1711.8L580.0 1711.5L583.0 1711.2L586.0 1710.8L589.0 1710.3L592.0 1709.8L595.1 1709.3L598.1 1708.7L601.1 1708.1L604.1 1707.4L607.2 1706.7L610.2 1706.0L613.2 1705.2L616.2 1704.5L619.2 1703.7L622.3 1702.8L625.3 1702.0L628.2 1701.1L631.2 1700.3L634.2 1699.4L637.2 1698.5L640.1 1697.6L643.1 1696.7L646.0 1695.8L649.0 1694.9L651.9 1694.0L654.8 1693.1L657.8 1692.2L660.7 1691.2L663.6 1690.3L666.5 1689.4L669.4 1688.4L672.3 1687.5L675.2 1686.6L678.1 1685.6L680.9 1684.7L683.8 1683.8L686.7 1682.9L689.6 1682.0L692.4 1681.1L695.3 1680.2L698.2 1679.3L701.0 1678.4L703.9 1677.6L706.8 1676.7L709.6 1675.9L712.5 1675.1L715.3 1674.3L718.2 1673.5L721.1 1672.7L723.9 1671.9L726.8 1671.2L729.7 1670.4L732.5 1669.7L735.4 1669.0L738.3 1668.4L741.2 1667.7L744.0 1667.1L746.9 1666.5L749.8 1665.9L752.7 1665.4L755.6 1664.8L758.5 1664.3L761.4 1663.9L764.3 1663.4L767.2 1663.0L770.2 1662.6L773.1 1662.3L776.0 1662.0L779.0 1661.7L781.9 1661.4L784.9 1661.2L787.8 1661.0L790.8 1660.8L793.7 1660.6L796.7 1660.5L799.7 1660.3L802.7 1660.3L805.7 1660.2L808.6 1660.1L811.6 1660.1L814.6 1660.1L817.6 1660.1L820.6 1660.1L823.6 1660.1L826.7 1660.2L829.7 1660.3L832.7 1660.3L835.7 1660.4L838.7 1660.5L841.7 1660.7L844.8 1660.8L847.8 1660.9L850.8 1661.1L853.8 1661.2L856.9 1661.4L859.9 1661.5L862.9 1661.7L866.0 1661.9L869.0 1662.1L872.0 1662.2L875.1 1662.4L878.1 1662.6L881.1 1662.8L884.2 1663.0L887.2 1663.2L890.2 1663.4L893.3 1663.5L896.3 1663.7L899.3 1663.9L902.4 1664.1L905.4 1664.3L908.4 1664.5L911.4 1664.6L914.5 1664.8L917.5 1665.0L920.5 1665.1L923.6 1665.3L926.6 1665.5L929.6 1665.6L932.6 1665.8L935.7 1666.0L938.7 1666.1L941.7 1666.2L944.7 1666.4L947.8 1666.5L950.8 1666.7L953.8 1666.8L956.8 1666.9L959.8 1667.0L962.9 1667.1L965.9 1667.2L968.9 1667.3L971.9 1667.4L974.9 1667.5L977.9 1667.5L980.9 1667.6L983.9 1667.7L987.0 1667.7L990.0 1667.8L993.0 1667.8L996.0 1667.8L999.0 1667.8L1002.0 1667.8L1005.0 1667.8L1008.0 1667.8L1011.0 1667.8L1014.0 1667.7L1016.9 1667.7L1019.9 1667.6L1022.9 1667.6L1025.9 1667.5L1028.9 1667.4L1031.9 1667.3L1034.9 1667.2L1037.8 1667.0L1040.8 1666.9L1043.8 1666.8L1046.8 1666.6L1049.7 1666.4L1052.7 1666.2L1055.7 1666.0L1058.6 1665.8L1061.6 1665.5L1064.6 1665.3L1067.5 1665.0L1070.5 1664.7L1073.4 1664.4L1076.4 1664.1L1079.3 1663.8L1082.3 1663.4L1085.2 1663.1L1088.1 1662.7L1091.1 1662.3L1094.0 1661.9L1096.9 1661.5L1099.9 1661.0L1102.8 1660.5L1105.7 1660.0L1108.6 1659.5L1111.6 1659.0L1114.5 1658.5L1117.4 1657.9L1120.3 1657.3L1123.2 1656.7L1126.1 1656.1L1129.0 1655.5L1131.9 1654.8L1134.8 1654.1L1137.7 1653.4L1140.6 1652.7L1143.4 1652.0L1146.3 1651.2L1149.2 1650.4L1152.1 1649.6L1154.9 1648.7L1157.8 1647.9L1160.7 1647.0L1163.5 1646.1L1166.4 1645.2L1169.2 1644.2L1172.1 1643.2L1174.9 1642.2L1177.7 1641.2L1180.6 1640.2L1183.4 1639.1L1186.2 1638.0L1189.1 1636.9L1191.9 1635.8L1194.7 1634.7L1197.5 1633.5L1200.3 1632.3L1203.1 1631.1L1205.9 1629.9L1208.7 1628.6L1211.4 1627.4L1214.2 1626.1L1217.0 1624.8L1219.7 1623.5L1222.5 1622.2L1225.2 1620.8L1228.0 1619.4L1230.7 1618.1L1233.4 1616.7L1236.2 1615.3L1238.9 1613.8L1241.6 1612.4L1244.3 1611.0L1247.0 1609.5L1249.7 1608.0L1252.3 1606.5L1255.0 1605.0L1257.7 1603.5L1260.3 1602.0L1263.0 1600.4L1265.6 1598.9L1268.2 1597.3L1270.8 1595.7L1273.5 1594.2L1276.1 1592.6L1278.7 1591.0L1281.2 1589.4L1283.8 1587.7L1286.4 1586.1L1288.9 1584.5L1291.5 1582.8L1294.0 1581.2L1296.5 1579.5L1299.1 1577.8L1301.6 1576.2L1304.1 1574.5L1306.5 1572.8L1309.0 1571.1L1311.5 1569.4L1313.9 1567.7L1316.4 1566.0L1318.8 1564.3L1321.3 1562.6L1323.7 1560.9L1326.1 1559.1L1328.5 1557.4L1331.0 1555.7L1333.4 1554.0L1335.8 1552.3L1338.2 1550.5L1340.6 1548.8L1343.0 1547.1L1345.4 1545.4L1347.8 1543.7L1350.2 1541.9L1352.6 1540.2L1355.0 1538.5L1357.4 1536.8L1359.8 1535.1L1362.2 1533.4L1364.6 1531.7L1367.0 1530.0L1369.4 1528.3L1371.8 1526.6L1374.3 1524.9L1376.7 1523.2L1379.2 1521.6L1381.6 1519.9L1384.1 1518.3L1386.5 1516.6L1389.0 1515.0L1391.5 1513.3L1394.0 1511.7L1396.5 1510.1L1399.0 1508.5L1401.6 1506.9L1404.1 1505.4L1406.7 1503.8L1409.2 1502.2L1411.8 1500.7L1414.4 1499.2L1417.1 1497.6L1419.7 1496.1L1422.3 1494.6L1425.0 1493.2L1427.7 1491.7L1430.4 1490.2L1433.1 1488.8L1435.9 1487.4L1438.6 1486.0L1441.4 1484.6L1444.2 1483.3L1447.0 1481.9L1449.8 1480.7L1452.7 1479.4L1455.5 1478.2L1458.4 1477.0L1461.3 1475.8L1464.1 1474.7L1467.0 1473.7L1469.9 1472.7L1472.8 1471.7L1475.7 1470.8L1478.6 1469.9L1481.5 1469.1L1484.4 1468.4L1487.3 1467.8L1490.2 1467.2L1493.1 1466.6L1496.0 1466.2L1498.9 1465.8L1501.8 1465.5L1504.7 1465.3L1507.6 1465.1L1510.4 1465.1L1513.3 1465.1L1516.1 1465.2L1519.0 1465.4L1521.8 1465.7L1524.6 1466.1L1527.4 1466.6L1530.2 1467.3L1532.9 1468.0L1535.7 1468.8L1538.4 1469.7L1541.1 1470.7L1543.8 1471.8L1546.4 1473.0L1549.1 1474.2L1551.7 1475.6L1554.3 1477.0L1556.9 1478.5L1559.5 1480.0L1562.0 1481.7L1564.6 1483.4L1567.1 1485.2L1569.6 1487.0L1572.0 1488.9L1574.5 1490.8L1576.9 1492.8L1579.3 1494.9L1581.7 1496.9L1584.0 1499.1L1586.4 1501.2L1588.7 1503.5L1590.9 1505.7L1593.2 1508.0L1595.4 1510.3L1597.6 1512.6L1599.8 1515.0L1602.0 1517.3L1604.1 1519.7L1606.2 1522.1L1608.2 1524.5L1610.3 1526.9L1612.3 1529.4L1614.3 1531.8L1616.3 1534.2L1618.2 1536.6L1620.1 1539.1L1622.0 1541.5L1623.8 1543.9L1625.7 1546.3L1627.5 1548.7L1629.2 1551.2L1631.0 1553.6L1632.8 1556.0L1634.5 1558.4L1636.2 1560.9L1637.9 1563.3L1639.5 1565.7L1641.2 1568.1L1642.8 1570.6L1644.4 1573.0L1646.0 1575.4L1647.6 1577.9L1649.2 1580.3L1650.8 1582.7L1652.3 1585.2L1653.9 1587.6L1655.4 1590.0L1656.9 1592.5L1658.5 1594.9L1660.0 1597.4L1661.5 1599.8L1663.0 1602.3L1664.5 1604.7L1666.0 1607.2L1667.5 1609.7L1669.0 1612.1L1670.5 1614.6L1672.0 1617.1L1673.5 1619.6L1675.0 1622.0L1676.5 1624.5L1678.0 1627.0L1679.5 1629.5L1681.0 1632.0L1682.5 1634.5L1684.0 1637.0L1685.6 1639.5L1687.1 1642.0L1688.6 1644.6L1690.2 1647.1L1691.8 1649.6L1693.4 1652.2L1695.0 1654.7L1696.6 1657.2L1698.2 1659.8L1699.8 1662.4L1701.5 1664.9L1703.2 1667.5L1704.9 1670.1L1706.6 1672.7L1708.3 1675.2L1710.1 1677.8L1711.8 1680.5L1713.6 1683.1L1715.4 1685.7L1717.3 1688.3L1719.1 1690.9L1721.0 1693.6L1723.0 1696.2L1724.9 1698.8L1726.9 1701.4L1728.9 1703.9L1731.0 1706.4L1733.1 1708.7L1735.3 1711.0L1737.5 1713.1L1739.8 1715.0L1742.1 1716.8L1744.6 1718.3L1747.1 1719.7L1749.6 1720.8L1752.3 1721.7L1755.0 1722.3L1757.8 1722.6L1760.6 1722.7L1763.3 1722.5L1766.1 1722.1L1768.8 1721.4L1771.5 1720.5L1774.1 1719.4L1776.5 1717.9L1778.9 1716.3L1781.1 1714.5L1783.2 1712.4L1785.3 1710.2L1787.2 1707.9L1789.0 1705.3L1790.7 1702.7L1792.4 1700.0L1793.9 1697.1L1795.3 1694.2L1796.7 1691.3L1798.0 1688.3L1799.2 1685.2L1800.3 1682.2L1801.3 1679.2L1802.3 1676.2L1803.2 1673.2L1804.0 1670.2L1804.8 1667.3L1805.5 1664.3L1806.2 1661.4L1806.9 1658.5L1807.5 1655.6L1808.2 1652.8L1808.8 1650.0L1809.5 1647.1L1810.1 1644.3L1810.7 1641.5L1811.4 1638.7L1812.0 1635.9L1812.7 1633.1L1813.3 1630.3L1814.0 1627.5L1814.7 1624.6L1815.4 1621.8L1816.1 1618.9L1816.9 1616.1L1817.6 1613.2L1818.4 1610.3L1819.3 1607.3L1820.1 1604.4L1821.0 1601.4L1821.9 1598.4L1822.9 1595.3" fill="none" stroke="#1f77b4" stroke-width="12.50" stroke-linecap="square" stroke-linejoin="round"/>
<path d="M351.7 1340.6L352.2 1343.5L352.8 1346.5L353.3 1349.4L353.8 1352.3L354.4 1355.3L355.0 1358.2L355.6 1361.1L356.1 1364.1L356.7 1367.0L357.3 1369.9L358.0 1372.9L358.6 1375.8L359.2 1378.8L359.8 1381.7L360.5 1384.6L361.1 1387.6L361.8 1390.5L362.5 1393.5L363.2 1396.4L363.8 1399.3L364.5 1402.3L365.2 1405.2L366.0 1408.1L366.7 1411.1L367.4 1414.0L368.1 1416.9L368.9 1419.9L369.6 1422.8L370.4 1425.7L371.1 1428.7L371.9 1431.6L372.7 1434.5L373.4 1437.4L374.2 1440.4L375.0 1443.3L375.8 1446.2L376.6 1449.1L377.4 1452.1L378.2 1455.0L379.1 1457.9L379.9 1460.8L380.7 1463.7L381.6 1466.6L382.4 1469.5L383.3 1472.4L384.1 1475.3L385.0 1478.2L385.8 1481.1L386.7 1484.0L387.6 1486.9L388.4 1489.8L389.3 1492.7L390.2 1495.5L391.1 1498.4L392.0 1501.3L392.9 1504.2L393.8 1507.0L394.7 1509.9L395.6 1512.8L396.5 1515.6L397.5 1518.5L398.4 1521.3L399.3 1524.2L400.2 1527.0L401.2 1529.9L402.1 1532.7L403.1 1535.5L404.0 1538.4L405.0 1541.2L405.9 1544.0L406.9 1546.8L407.9 1549.6L408.9 1552.4L409.9 1555.2L411.0 1558.0L412.0 1560.8L413.1 1563.6L414.1 1566.3L415.2 1569.1L416.3 1571.8L417.5 1574.6L418.6 1577.3L419.8 1580.1L421.0 1582.8L422.2 1585.5L423.4 1588.2L424.7 1590.9L425.9 1593.6L427.3 1596.3L428.6 1598.9L430.0 1601.6L431.3 1604.3L432.8 1606.9L434.2 1609.5L435.7 1612.1L437.2 1614.8L438.8 1617.4L440.4 1619.9L442.0 1622.5L443.6 1625.1L445.3 1627.6L447.0 1630.2L448.8 1632.7L450.6 1635.2L452.4 1637.7L454.3 1640.2L456.2 1642.7L458.2 1645.1L460.2 1647.5L462.2 1649.8L464.2 1652.2L466.3 1654.5L468.4 1656.7L470.6 1659.0L472.8 1661.2L475.0 1663.3L477.2 1665.4L479.5 1667.4L481.8 1669.4L484.1 1671.4L486.5 1673.3L488.9 1675.1L491.3 1676.9L493.8 1678.6L496.3 1680.2L498.8 1681.8L501.3 1683.3L503.9 1684.8L506.5 1686.1L509.1 1687.4L511.7 1688.7L514.4 1689.8L517.1 1690.9L519.8 1691.8L522.6 1692.8L525.3 1693.6L528.1 1694.4L530.9 1695.0L533.7 1695.7L536.6 1696.2L539.5 1696.7L542.3 1697.2L545.2 1697.5L548.1 1697.9L551.1 1698.1L554.0 1698.3L557.0 1698.5L559.9 1698.6L562.9 1698.7L565.9 1698.7L568.9 1698.6L571.9 1698.6L574.9 1698.5L578.0 1698.3L581.0 1698.1L584.0 1697.9L587.1 1697.6L590.1 1697.4L593.2 1697.0L596.2 1696.7L599.3 1696.3L602.4 1695.9L605.4 1695.5L608.5 1695.1L611.5 1694.7L614.6 1694.2L617.6 1693.7L620.7 1693.2L623.7 1692.7L626.7 1692.2L629.8 1691.7L632.8 1691.2L635.8 1690.7L638.8 1690.2L641.8 1689.6L644.8 1689.1L647.8 1688.5L650.8 1688.0L653.8 1687.4L656.8 1686.9L659.8 1686.3L662.8 1685.8L665.7 1685.2L668.7 1684.7L671.7 1684.1L674.6 1683.6L677.6 1683.0L680.6 1682.4L683.5 1681.9L686.5 1681.3L689.4 1680.8L692.4 1680.2L695.3 1679.7L698.3 1679.2L701.2 1678.6L704.2 1678.1L707.1 1677.6L710.0 1677.1L713.0 1676.6L715.9 1676.1L718.9 1675.6L721.8 1675.1L724.8 1674.6L727.7 1674.2L730.6 1673.7L733.6 1673.3L736.5 1672.9L739.5 1672.4L742.4 1672.0L745.4 1671.6L748.3 1671.3L751.3 1670.9L754.2 1670.5L757.2 1670.2L760.1 1669.9L763.1 1669.6L766.0 1669.3L769.0 1669.0L771.9 1668.8L774.9 1668.5L777.9 1668.3L780.9 1668.1L783.8 1667.9L786.8 1667.7L789.8 1667.6L792.8 1667.4L795.8 1667.3L798.7 1667.2L801.7 1667.1L804.7 1667.0L807.7 1667.0L810.7 1666.9L813.7 1666.9L816.7 1666.9L819.7 1666.9L822.7 1666.9L825.7 1666.9L828.8 1666.9L831.8 1666.9L834.8 1667.0L837.8 1667.0L840.8 1667.1L843.8 1667.2L846.8 1667.2L849.9 1667.3L852.9 1667.4L855.9 1667.5L858.9 1667.6L862.0 1667.8L865.0 1667.9L868.0 1668.0L871.0 1668.1L874.1 1668.3L877.1 1668.4L880.1 1668.6L883.2 1668.7L886.2 1668.9L889.2 1669.0L892.3 1669.2L895.3 1669.4L898.3 1669.5L901.3 1669.7L904.4 1669.8L907.4 1670.0L910.4 1670.2L913.5 1670.3L916.5 1670.5L919.5 1670.7L922.6 1670.8L925.6 1671.0L928.6 1671.1L931.7 1671.3L934.7 1671.4L937.7 1671.6L940.7 1671.7L943.8 1671.8L946.8 1672.0L949.8 1672.1L952.8 1672.2L955.9 1672.3L958.9 1672.4L961.9 1672.5L964.9 1672.6L967.9 1672.7L971.0 1672.8L974.0 1672.8L977.0 1672.9L980.0 1673.0L983.0 1673.0L986.0 1673.0L989.0 1673.1L992.0 1673.1L995.0 1673.1L998.1 1673.1L1001.1 1673.0L1004.1 1673.0L1007.1 1673.0L1010.1 1672.9L1013.0 1672.9L1016.0 1672.8L1019.0 1672.7L1022.0 1672.6L1025.0 1672.5L1028.0 1672.4L1031.0 1672.2L1034.0 1672.1L1037.0 1671.9L1039.9 1671.7L1042.9 1671.5L1045.9 1671.3L1048.9 1671.1L1051.9 1670.8L1054.8 1670.6L1057.8 1670.3L1060.8 1670.0L1063.7 1669.7L1066.7 1669.4L1069.7 1669.0L1072.6 1668.7L1075.6 1668.3L1078.5 1667.9L1081.5 1667.5L1084.5 1667.1L1087.4 1666.6L1090.4 1666.1L1093.3 1665.6L1096.2 1665.1L1099.2 1664.6L1102.1 1664.1L1105.1 1663.5L1108.0 1662.9L1110.9 1662.3L1113.9 1661.7L1116.8 1661.0L1119.7 1660.3L1122.6 1659.6L1125.6 1658.9L1128.5 1658.2L1131.4 1657.4L1134.3 1656.6L1137.2 1655.8L1140.1 1655.0L1143.0 1654.1L1145.9 1653.3L1148.8 1652.4L1151.7 1651.5L1154.6 1650.6L1157.5 1649.6L1160.3 1648.7L1163.2 1647.7L1166.1 1646.7L1168.9 1645.7L1171.8 1644.7L1174.6 1643.6L1177.5 1642.5L1180.3 1641.5L1183.1 1640.4L1185.9 1639.2L1188.7 1638.1L1191.5 1637.0L1194.3 1635.8L1197.1 1634.6L1199.9 1633.4L1202.7 1632.2L1205.5 1631.0L1208.2 1629.7L1211.0 1628.5L1213.7 1627.2L1216.4 1625.9L1219.2 1624.6L1221.9 1623.3L1224.6 1621.9L1227.3 1620.6L1230.0 1619.2L1232.6 1617.9L1235.3 1616.5L1237.9 1615.1L1240.6 1613.7L1243.2 1612.3L1245.9 1610.8L1248.5 1609.4L1251.1 1607.9L1253.7 1606.5L1256.3 1605.0L1258.9 1603.5L1261.5 1602.0L1264.0 1600.5L1266.6 1599.0L1269.2 1597.4L1271.7 1595.9L1274.3 1594.3L1276.8 1592.8L1279.3 1591.2L1281.9 1589.6L1284.4 1588.0L1286.9 1586.5L1289.4 1584.9L1291.9 1583.2L1294.4 1581.6L1296.9 1580.0L1299.4 1578.4L1301.9 1576.7L1304.4 1575.1L1306.9 1573.4L1309.4 1571.8L1311.9 1570.1L1314.4 1568.5L1316.8 1566.8L1319.3 1565.1L1321.8 1563.4L1324.3 1561.7L1326.7 1560.0L1329.2 1558.4L1331.7 1556.7L1334.1 1554.9L1336.6 1553.2L1339.1 1551.5L1341.5 1549.8L1344.0 1548.1L1346.5 1546.4L1348.9 1544.7L1351.4 1542.9L1353.9 1541.2L1356.3 1539.5L1358.8 1537.8L1361.3 1536.0L1363.7 1534.3L1366.2 1532.6L1368.7 1530.8L1371.2 1529.1L1373.7 1527.4L1376.2 1525.7L1378.7 1523.9L1381.2 1522.2L1383.7 1520.5L1386.2 1518.8L1388.7 1517.0L1391.2 1515.3L1393.7 1513.6L1396.2 1511.9L1398.8 1510.2L1401.3 1508.4L1403.8 1506.7L1406.4 1505.0L1408.9 1503.3L1411.5 1501.6L1414.1 1500.0L1416.6 1498.3L1419.2 1496.7L1421.8 1495.0L1424.4 1493.4L1427.0 1491.8L1429.6 1490.3L1432.3 1488.8L1434.9 1487.2L1437.5 1485.8L1440.2 1484.3L1442.9 1482.9L1445.6 1481.6L1448.2 1480.2L1451.0 1478.9L1453.7 1477.7L1456.4 1476.5L1459.2 1475.3L1461.9 1474.2L1464.7 1473.2L1467.5 1472.2L1470.3 1471.2L1473.1 1470.3L1475.9 1469.5L1478.8 1468.7L1481.7 1468.0L1484.5 1467.4L1487.4 1466.8L1490.4 1466.3L1493.3 1465.9L1496.3 1465.5L1499.2 1465.2L1502.2 1465.0L1505.2 1464.9L1508.2 1464.9L1511.2 1464.9L1514.2 1465.1L1517.2 1465.3L1520.2 1465.6L1523.2 1466.1L1526.1 1466.6L1529.1 1467.2L1532.0 1468.0L1534.8 1468.8L1537.7 1469.8L1540.5 1470.8L1543.3 1471.9L1546.0 1473.1L1548.8 1474.4L1551.5 1475.8L1554.1 1477.2L1556.8 1478.7L1559.4 1480.3L1561.9 1481.9L1564.5 1483.6L1567.0 1485.4L1569.4 1487.1L1571.8 1489.0L1574.2 1490.8L1576.6 1492.7L1578.9 1494.7L1581.2 1496.6L1583.5 1498.7L1585.7 1500.7L1587.9 1502.8L1590.1 1504.9L1592.2 1507.0L1594.3 1509.2L1596.4 1511.4L1598.5 1513.6L1600.5 1515.8L1602.5 1518.1L1604.5 1520.4L1606.5 1522.7L1608.4 1525.0L1610.4 1527.4L1612.3 1529.7L1614.1 1532.1L1616.0 1534.5L1617.8 1536.9L1619.7 1539.4L1621.5 1541.8L1623.3 1544.2L1625.1 1546.7L1626.8 1549.2L1628.6 1551.7L1630.3 1554.1L1632.1 1556.6L1633.8 1559.1L1635.5 1561.6L1637.2 1564.1L1638.9 1566.6L1640.6 1569.1L1642.2 1571.6L1643.9 1574.1L1645.6 1576.6L1647.2 1579.1L1648.9 1581.6L1650.6 1584.0L1652.2 1586.5L1653.9 1588.9L1655.5 1591.4L1657.2 1593.8L1658.9 1596.2L1660.5 1598.6L1662.2 1601.0L1663.8 1603.4L1665.5 1605.8L1667.2 1608.1L1668.8 1610.5L1670.5 1612.9L1672.2 1615.2L1673.8 1617.6L1675.5 1620.0L1677.1 1622.4L1678.7 1624.8L1680.4 1627.2L1682.0 1629.6L1683.6 1632.0L1685.2 1634.5L1686.8 1637.0L1688.4 1639.5L1690.0 1642.0L1691.6 1644.5L1693.1 1647.1L1694.7 1649.8L1696.2 1652.4L1697.7 1655.1L1699.2 1657.8L1700.7 1660.6L1702.2 1663.4L1703.7 1666.3L1705.1 1669.1L1706.6 1672.0L1708.0 1674.9L1709.5 1677.8L1711.0 1680.7L1712.5 1683.6L1714.1 1686.4L1715.7 1689.2L1717.3 1692.0L1719.0 1694.7L1720.7 1697.4L1722.4 1700.0L1724.3 1702.5L1726.2 1705.0L1728.1 1707.3L1730.2 1709.6L1732.3 1711.8L1734.5 1713.8L1736.8 1715.7L1739.2 1717.5L1741.7 1719.2L1744.3 1720.7L1746.9 1722.0L1749.5 1723.1L1752.2 1724.0L1755.0 1724.7L1757.7 1725.1L1760.5 1725.3L1763.2 1725.2L1765.9 1724.9L1768.5 1724.2L1771.2 1723.3L1773.7 1722.2L1776.2 1720.8L1778.6 1719.3L1780.9 1717.6L1783.1 1715.6L1785.2 1713.6L1787.1 1711.4L1789.0 1709.0L1790.7 1706.6L1792.3 1704.0L1793.8 1701.3L1795.2 1698.5L1796.5 1695.6L1797.8 1692.7L1799.0 1689.7L1800.0 1686.6L1801.1 1683.5L1802.0 1680.4L1802.9 1677.3L1803.8 1674.1L1804.6 1670.9L1805.3 1667.7L1806.1 1664.6L1806.8 1661.5L1807.5 1658.4L1808.1 1655.3L1808.8 1652.3L1809.4 1649.4L1810.1 1646.5L1810.7 1643.6L1811.3 1640.8L1812.0 1638.1L1812.6 1635.3L1813.2 1632.6L1813.9 1629.8L1814.5 1627.1L1815.2 1624.3L1815.9 1621.6L1816.6 1618.8L1817.3 1616.0L1818.0 1613.2L1818.8 1610.4L1819.5 1607.5L1820.3 1604.5L1821.2 1601.5L1822.0 1598.4L1822.9 1595.3" fill="none" stroke="#ff7f0e" stroke-width="12.50" stroke-dasharray="46.25 20" stroke-linecap="butt" stroke-linejoin="round"/>
<path d="M351.7 1340.6L352.1 1343.6L352.5 1346.5L352.9 1349.5L353.2 1352.5L353.6 1355.4L353.9 1358.4L354.3 1361.4L354.6 1364.3L354.9 1367.3L355.3 1370.3L355.6 1373.3L355.9 1376.3L356.2 1379.2L356.5 1382.2L356.8 1385.2L357.1 1388.2L357.4 1391.2L357.6 1394.2L357.9 1397.2L358.2 1400.2L358.5 1403.2L358.7 1406.2L359.0 1409.2L359.2 1412.2L359.5 1415.2L359.7 1418.2L360.0 1421.2L360.2 1424.2L360.5 1427.2L360.7 1430.2L360.9 1433.2L361.2 1436.2L361.4 1439.2L361.6 1442.2L361.8 1445.2L362.1 1448.3L362.3 1451.3L362.5 1454.3L362.7 1457.3L363.0 1460.3L363.2 1463.3L363.4 1466.3L363.7 1469.3L363.9 1472.3L364.1 1475.3L364.3 1478.3L364.6 1481.3L364.8 1484.3L365.0 1487.4L365.3 1490.4L365.5 1493.4L365.7 1496.4L366.0 1499.4L366.2 1502.4L366.5 1505.4L366.7 1508.4L367.0 1511.4L367.2 1514.4L367.5 1517.4L367.8 1520.4L368.0 1523.4L368.3 1526.4L368.6 1529.3L368.9 1532.3L369.2 1535.3L369.5 1538.3L369.8 1541.3L370.1 1544.3L370.4 1547.3L370.7 1550.2L371.0 1553.2L371.4 1556.2L371.7 1559.2L372.1 1562.1L372.4 1565.1L372.7 1568.1L373.1 1571.1L373.5 1574.0L373.8 1577.0L374.2 1580.0L374.6 1582.9L375.0 1585.9L375.4 1588.9L375.7 1591.8L376.1 1594.8L376.5 1597.8L376.9 1600.7L377.4 1603.7L377.8 1606.6L378.2 1609.6L378.6 1612.6L379.0 1615.5L379.5 1618.5L379.9 1621.4L380.3 1624.4L380.8 1627.4L381.2 1630.3L381.7 1633.3L382.2 1636.2L382.6 1639.2L383.1 1642.2L383.5 1645.1L384.0 1648.1L384.5 1651.0L385.0 1654.0L385.5 1657.0L385.9 1659.9L386.4 1662.9L386.9 1665.8L387.4 1668.8L387.9 1671.8L388.4 1674.7L388.9 1677.7L389.4 1680.7L390.0 1683.6L390.5 1686.6L391.0 1689.6L391.5 1692.6L392.0 1695.5L392.6 1698.5L393.1 1701.5L393.6 1704.5L394.2 1707.4L394.7 1710.4L395.2 1713.4L395.8 1716.4L396.3 1719.4L396.9 1722.3L397.4 1725.3L398.0 1728.3L398.5 1731.3L399.1 1734.3L399.7 1737.3L400.2 1740.3L400.8 1743.3L401.4 1746.3L402.0 1749.3L402.7 1752.2L403.3 1755.2L404.1 1758.1L404.8 1761.1L405.6 1764.0L406.5 1766.9L407.5 1769.7L408.5 1772.5L409.6 1775.3L410.8 1778.1L412.0 1780.8L413.4 1783.5L414.9 1786.1L416.4 1788.7L418.1 1791.2L419.9 1793.7L421.9 1796.1L423.9 1798.5L426.1 1800.8L428.4 1802.9L430.8 1804.9L433.2 1806.7L435.8 1808.2L438.3 1809.4L440.9 1810.4L443.6 1810.9L446.2 1811.1L448.8 1810.8L451.4 1810.0L453.9 1808.8L456.4 1807.2L458.9 1805.2L461.3 1802.9L463.6 1800.4L465.9 1797.7L468.1 1794.9L470.3 1792.0L472.4 1789.0L474.4 1786.0L476.2 1783.2L478.1 1780.4L479.8 1777.7L481.4 1775.1L483.0 1772.6L484.6 1770.1L486.1 1767.7L487.5 1765.3L488.9 1763.0L490.3 1760.7L491.6 1758.4L493.0 1756.1L494.3 1753.8L495.7 1751.5L497.0 1749.2L498.4 1746.9L499.8 1744.5L501.2 1742.1L502.7 1739.6L504.1 1737.2L505.6 1734.7L507.1 1732.2L508.6 1729.6L510.1 1727.0L511.7 1724.5L513.2 1721.9L514.8 1719.2L516.4 1716.6L517.9 1714.0L519.5 1711.3L521.1 1708.7L522.7 1706.0L524.3 1703.3L525.9 1700.7L527.4 1698.0L529.0 1695.3L530.6 1692.7L532.1 1690.0L533.7 1687.4L535.2 1684.7L536.8 1682.1L538.3 1679.5L539.8 1676.9L541.4 1674.3L542.9 1671.7L544.5 1669.1L546.0 1666.6L547.6 1664.0L549.2 1661.5L550.7 1659.0L552.4 1656.5L554.0 1654.0L555.6 1651.5L557.3 1649.1L559.0 1646.7L560.7 1644.3L562.4 1641.9L564.2 1639.5L566.0 1637.2L567.9 1634.9L569.7 1632.6L571.6 1630.3L573.6 1628.1L575.6 1625.8L577.7 1623.7L579.8 1621.5L581.9 1619.3L584.1 1617.2L586.3 1615.1L588.6 1613.1L591.0 1611.1L593.3 1609.1L595.8 1607.2L598.2 1605.3L600.7 1603.4L603.3 1601.6L605.8 1599.9L608.4 1598.2L611.1 1596.6L613.7 1595.0L616.4 1593.5L619.1 1592.0L621.8 1590.7L624.6 1589.4L627.4 1588.1L630.1 1587.0L632.9 1585.9L635.7 1584.9L638.5 1584.0L641.4 1583.2L644.2 1582.4L647.0 1581.8L649.9 1581.2L652.7 1580.7L655.6 1580.3L658.4 1579.9L661.3 1579.7L664.2 1579.5L667.1 1579.3L669.9 1579.3L672.8 1579.2L675.7 1579.3L678.6 1579.4L681.5 1579.6L684.4 1579.8L687.3 1580.1L690.3 1580.5L693.2 1580.9L696.1 1581.3L699.0 1581.8L701.9 1582.3L704.9 1582.9L707.8 1583.5L710.7 1584.2L713.6 1584.9L716.6 1585.6L719.5 1586.3L722.4 1587.1L725.4 1587.9L728.3 1588.8L731.3 1589.7L734.2 1590.5L737.1 1591.5L740.1 1592.4L743.0 1593.3L745.9 1594.3L748.8 1595.3L751.8 1596.2L754.7 1597.2L757.6 1598.2L760.5 1599.2L763.5 1600.2L766.4 1601.2L769.3 1602.2L772.2 1603.3L775.1 1604.3L778.0 1605.3L780.9 1606.3L783.8 1607.3L786.7 1608.2L789.6 1609.2L792.5 1610.2L795.4 1611.2L798.3 1612.2L801.2 1613.2L804.1 1614.2L806.9 1615.1L809.8 1616.1L812.7 1617.1L815.6 1618.0L818.5 1619.0L821.3 1619.9L824.2 1620.9L827.1 1621.8L830.0 1622.8L832.8 1623.7L835.7 1624.6L838.6 1625.5L841.4 1626.5L844.3 1627.4L847.2 1628.3L850.1 1629.2L852.9 1630.0L855.8 1630.9L858.7 1631.8L861.5 1632.7L864.4 1633.5L867.3 1634.4L870.1 1635.2L873.0 1636.0L875.9 1636.8L878.8 1637.7L881.6 1638.5L884.5 1639.2L887.4 1640.0L890.3 1640.8L893.1 1641.6L896.0 1642.3L898.9 1643.1L901.8 1643.8L904.7 1644.5L907.6 1645.2L910.4 1645.9L913.3 1646.6L916.2 1647.2L919.1 1647.9L922.0 1648.6L924.9 1649.2L927.8 1649.8L930.7 1650.4L933.6 1651.0L936.5 1651.6L939.4 1652.1L942.4 1652.7L945.3 1653.2L948.2 1653.8L951.1 1654.3L954.1 1654.7L957.0 1655.2L959.9 1655.7L962.9 1656.1L965.8 1656.6L968.7 1657.0L971.7 1657.4L974.6 1657.8L977.6 1658.1L980.5 1658.5L983.5 1658.8L986.5 1659.2L989.4 1659.5L992.4 1659.8L995.4 1660.1L998.4 1660.4L1001.3 1660.6L1004.3 1660.9L1007.3 1661.1L1010.3 1661.3L1013.3 1661.6L1016.3 1661.8L1019.2 1662.0L1022.2 1662.1L1025.2 1662.3L1028.2 1662.5L1031.2 1662.6L1034.2 1662.8L1037.3 1662.9L1040.3 1663.0L1043.3 1663.1L1046.3 1663.2L1049.3 1663.3L1052.3 1663.4L1055.3 1663.5L1058.3 1663.5L1061.4 1663.6L1064.4 1663.7L1067.4 1663.7L1070.4 1663.7L1073.5 1663.8L1076.5 1663.8L1079.5 1663.8L1082.5 1663.8L1085.6 1663.8L1088.6 1663.8L1091.6 1663.8L1094.7 1663.7L1097.7 1663.7L1100.7 1663.7L1103.8 1663.6L1106.8 1663.6L1109.8 1663.6L1112.9 1663.5L1115.9 1663.4L1119.0 1663.4L1122.0 1663.3L1125.0 1663.3L1128.1 1663.2L1131.1 1663.1L1134.2 1663.0L1137.2 1662.9L1140.3 1662.8L1143.3 1662.8L1146.3 1662.7L1149.4 1662.6L1152.4 1662.5L1155.5 1662.3L1158.5 1662.2L1161.5 1662.1L1164.6 1662.0L1167.6 1661.8L1170.6 1661.7L1173.7 1661.5L1176.7 1661.4L1179.7 1661.2L1182.7 1661.0L1185.8 1660.8L1188.8 1660.7L1191.8 1660.4L1194.8 1660.2L1197.8 1660.0L1200.9 1659.8L1203.9 1659.5L1206.9 1659.2L1209.9 1659.0L1212.9 1658.7L1215.9 1658.4L1218.8 1658.0L1221.8 1657.7L1224.8 1657.3L1227.8 1657.0L1230.8 1656.6L1233.7 1656.2L1236.7 1655.8L1239.7 1655.4L1242.6 1654.9L1245.6 1654.4L1248.5 1654.0L1251.4 1653.5L1254.4 1652.9L1257.3 1652.4L1260.2 1651.8L1263.1 1651.2L1266.1 1650.6L1269.0 1650.0L1271.9 1649.4L1274.7 1648.7L1277.6 1648.0L1280.5 1647.3L1283.4 1646.6L1286.2 1645.8L1289.1 1645.0L1291.9 1644.2L1294.8 1643.4L1297.6 1642.5L1300.4 1641.6L1303.2 1640.7L1306.0 1639.8L1308.8 1638.8L1311.6 1637.8L1314.4 1636.8L1317.2 1635.8L1320.0 1634.7L1322.7 1633.6L1325.5 1632.5L1328.2 1631.3L1330.9 1630.1L1333.6 1628.9L1336.3 1627.6L1339.0 1626.3L1341.7 1625.0L1344.4 1623.7L1347.1 1622.3L1349.7 1620.9L1352.4 1619.5L1355.0 1618.1L1357.6 1616.6L1360.2 1615.1L1362.8 1613.6L1365.4 1612.0L1368.0 1610.5L1370.6 1608.9L1373.1 1607.2L1375.7 1605.6L1378.2 1603.9L1380.8 1602.2L1383.3 1600.5L1385.8 1598.8L1388.3 1597.1L1390.7 1595.3L1393.2 1593.5L1395.7 1591.7L1398.1 1589.9L1400.5 1588.0L1402.9 1586.1L1405.3 1584.3L1407.7 1582.4L1410.1 1580.4L1412.5 1578.5L1414.8 1576.6L1417.2 1574.6L1419.5 1572.6L1421.8 1570.6L1424.1 1568.6L1426.4 1566.6L1428.7 1564.5L1430.9 1562.5L1433.2 1560.4L1435.4 1558.3L1437.6 1556.3L1439.8 1554.2L1442.0 1552.0L1444.2 1549.9L1446.3 1547.8L1448.5 1545.7L1450.6 1543.5L1452.7 1541.3L1454.8 1539.2L1456.9 1537.0L1459.0 1534.8L1461.1 1532.6L1463.1 1530.4L1465.1 1528.2L1467.1 1526.0L1469.1 1523.8L1471.1 1521.6L1473.1 1519.4L1475.0 1517.2L1477.0 1514.9L1478.9 1512.7L1480.8 1510.5L1482.7 1508.2L1484.5 1506.0L1486.4 1503.7L1488.2 1501.5L1490.0 1499.3L1491.9 1497.0L1493.7 1494.8L1495.5 1492.5L1497.3 1490.3L1499.1 1488.0L1500.9 1485.7L1502.7 1483.5L1504.5 1481.2L1506.3 1478.9L1508.1 1476.7L1509.9 1474.4L1511.7 1472.1L1513.6 1469.8L1515.4 1467.6L1517.3 1465.3L1519.2 1463.0L1521.1 1460.7L1523.1 1458.4L1525.0 1456.0L1527.0 1453.7L1529.1 1451.4L1531.1 1449.1L1533.2 1446.8L1535.3 1444.4L1537.5 1442.1L1539.7 1439.7L1541.9 1437.4L1544.2 1435.0L1546.5 1432.7L1548.8 1430.4L1551.2 1428.1L1553.6 1425.8L1556.1 1423.6L1558.5 1421.5L1561.0 1419.4L1563.6 1417.4L1566.1 1415.5L1568.7 1413.7L1571.3 1411.9L1573.9 1410.3L1576.5 1408.8L1579.1 1407.5L1581.8 1406.3L1584.4 1405.2L1587.1 1404.3L1589.8 1403.5L1592.5 1403.0L1595.2 1402.6L1597.9 1402.4L1600.6 1402.4L1603.3 1402.6L1606.0 1403.1L1608.6 1403.7L1611.3 1404.6L1614.0 1405.6L1616.6 1406.8L1619.2 1408.2L1621.8 1409.7L1624.3 1411.4L1626.8 1413.2L1629.2 1415.1L1631.6 1417.2L1633.9 1419.3L1636.2 1421.6L1638.3 1423.9L1640.4 1426.3L1642.4 1428.8L1644.4 1431.4L1646.2 1433.9L1647.9 1436.5L1649.6 1439.1L1651.1 1441.8L1652.5 1444.5L1653.9 1447.1L1655.2 1449.8L1656.4 1452.6L1657.6 1455.3L1658.7 1458.1L1659.7 1460.8L1660.8 1463.6L1661.8 1466.4L1662.7 1469.2L1663.7 1472.0L1664.6 1474.8L1665.6 1477.6L1666.5 1480.4L1667.5 1483.2L1668.4 1486.0L1669.4 1488.9L1670.3 1491.7L1671.3 1494.5L1672.3 1497.4L1673.3 1500.2L1674.2 1503.0L1675.2 1505.9L1676.2 1508.7L1677.2 1511.6L1678.2 1514.4L1679.1 1517.3L1680.1 1520.1L1681.1 1523.0L1682.1 1525.9L1683.0 1528.7L1684.0 1531.6L1685.0 1534.4L1685.9 1537.3L1686.9 1540.2L1687.8 1543.1L1688.7 1545.9L1689.7 1548.8L1690.6 1551.7L1691.5 1554.5L1692.4 1557.4L1693.3 1560.3L1694.1 1563.2L1695.0 1566.1L1695.9 1568.9L1696.7 1571.8L1697.5 1574.7L1698.4 1577.6L1699.2 1580.5L1700.0 1583.4L1700.8 1586.3L1701.6 1589.1L1702.4 1592.0L1703.1 1594.9L1703.9 1597.8L1704.7 1600.7L1705.4 1603.6L1706.2 1606.5L1706.9 1609.4L1707.7 1612.3L1708.4 1615.2L1709.1 1618.1L1709.9 1621.0L1710.6 1623.9L1711.3 1626.8L1712.0 1629.7L1712.7 1632.7L1713.5 1635.6L1714.2 1638.5L1714.9 1641.4L1715.6 1644.3L1716.3 1647.2L1717.0 1650.2L1717.7 1653.1L1718.4 1656.0L1719.1 1658.9L1719.9 1661.9L1720.6 1664.8L1721.3 1667.7L1722.0 1670.7L1722.7 1673.6L1723.4 1676.6L1724.2 1679.5L1724.9 1682.4L1725.6 1685.4L1726.3 1688.3L1727.1 1691.3L1727.8 1694.2L1728.5 1697.2L1729.3 1700.1L1730.0 1703.0L1730.7 1706.0L1731.5 1708.9L1732.2 1711.8L1732.9 1714.8L1733.6 1717.7L1734.4 1720.6L1735.1 1723.5L1735.8 1726.5L1736.5 1729.4L1737.3 1732.3L1738.0 1735.2L1738.7 1738.1L1739.4 1741.0L1740.1 1743.8L1740.8 1746.7L1741.5 1749.6L1742.2 1752.5L1742.9 1755.3L1743.6 1758.2L1744.3 1761.0L1745.0 1763.8L1745.7 1766.7L1746.4 1769.5L1747.2 1772.4L1747.9 1775.2L1748.6 1778.0L1749.4 1780.9L1750.2 1783.7L1751.0 1786.6L1751.8 1789.5L1752.6 1792.3L1753.5 1795.2L1754.4 1798.1L1755.3 1801.0L1756.3 1804.0L1757.2 1806.9L1758.3 1809.9L1759.3 1812.9L1760.4 1815.9L1761.6 1818.9L1762.8 1821.9L1764.2 1824.8L1765.7 1827.6L1767.4 1830.2L1769.3 1832.6L1771.5 1834.9L1774.0 1836.7L1776.5 1838.1L1779.1 1838.7L1781.4 1838.4L1783.5 1837.1L1785.4 1835.2L1787.2 1832.8L1788.9 1830.1L1790.4 1827.3L1791.8 1824.5L1793.2 1821.7L1794.4 1818.9L1795.6 1816.0L1796.7 1813.2L1797.7 1810.3L1798.6 1807.4L1799.5 1804.5L1800.3 1801.6L1801.0 1798.7L1801.7 1795.7L1802.3 1792.8L1802.9 1789.8L1803.4 1786.8L1803.9 1783.8L1804.3 1780.8L1804.7 1777.8L1805.1 1774.8L1805.4 1771.8L1805.7 1768.8L1806.0 1765.8L1806.3 1762.8L1806.6 1759.8L1806.8 1756.8L1807.1 1753.7L1807.3 1750.7L1807.6 1747.7L1807.8 1744.7L1808.1 1741.7L1808.4 1738.7L1808.6 1735.7L1808.9 1732.7L1809.2 1729.7L1809.5 1726.7L1809.9 1723.7L1810.2 1720.7L1810.5 1717.7L1810.9 1714.7L1811.2 1711.8L1811.6 1708.8L1811.9 1705.8L1812.3 1702.8L1812.6 1699.9L1813.0 1696.9L1813.3 1693.9L1813.7 1690.9L1814.1 1688.0L1814.4 1685.0L1814.8 1682.0L1815.2 1679.1L1815.5 1676.1L1815.9 1673.1L1816.3 1670.1L1816.6 1667.2L1817.0 1664.2L1817.3 1661.2L1817.7 1658.3L1818.0 1655.3L1818.4 1652.3L1818.7 1649.3L1819.0 1646.4L1819.3 1643.4L1819.6 1640.4L1819.9 1637.4L1820.2 1634.4L1820.5 1631.4L1820.8 1628.4L1821.0 1625.4L1821.3 1622.4L1821.5 1619.4L1821.7 1616.4L1821.9 1613.4L1822.1 1610.4L1822.3 1607.4L1822.5 1604.4L1822.6 1601.4L1822.8 1598.3L1822.9 1595.3" fill="none" stroke="#2ca02c" stroke-width="12.50" stroke-dasharray="46.25 20" stroke-linecap="butt" stroke-linejoin="round"/>
<path d="M351.7 1340.6L351.8 1343.6L351.9 1346.6L351.9 1349.6L352.0 1352.6L352.1 1355.6L352.2 1358.6L352.3 1361.6L352.4 1364.6L352.4 1367.6L352.5 1370.6L352.6 1373.6L352.7 1376.6L352.8 1379.6L352.9 1382.6L352.9 1385.6L353.0 1388.6L353.1 1391.6L353.2 1394.6L353.3 1397.6L353.4 1400.6L353.5 1403.6L353.5 1406.6L353.6 1409.6L353.7 1412.6L353.8 1415.6L353.9 1418.6L354.0 1421.6L354.1 1424.6L354.2 1427.6L354.2 1430.6L354.3 1433.6L354.4 1436.6L354.5 1439.6L354.6 1442.6L354.7 1445.6L354.8 1448.6L354.9 1451.6L355.0 1454.6L355.0 1457.6L355.1 1460.6L355.2 1463.6L355.3 1466.7L355.4 1469.7L355.5 1472.7L355.6 1475.7L355.7 1478.7L355.8 1481.7L355.9 1484.7L356.0 1487.7L356.0 1490.7L356.1 1493.7L356.2 1496.7L356.3 1499.7L356.4 1502.7L356.5 1505.7L356.6 1508.7L356.7 1511.8L356.8 1514.8L356.9 1517.8L357.0 1520.8L357.1 1523.8L357.2 1526.8L357.3 1529.8L357.4 1532.8L357.5 1535.8L357.6 1538.8L357.7 1541.8L357.8 1544.8L357.9 1547.8L358.0 1550.8L358.1 1553.8L358.2 1556.8L358.2 1559.8L358.3 1562.8L358.4 1565.8L358.5 1568.9L358.6 1571.9L358.7 1574.9L358.8 1577.9L358.9 1580.9L359.0 1583.9L359.1 1586.9L359.2 1589.9L359.4 1592.9L359.5 1595.9L359.6 1598.9L359.7 1601.9L359.8 1604.9L359.9 1607.9L360.0 1610.9L360.1 1613.9L360.2 1616.9L360.3 1619.9L360.4 1622.9L360.5 1625.9L360.6 1628.9L360.7 1631.9L360.8 1634.9L360.9 1637.9L361.0 1640.9L361.1 1643.8L361.2 1646.8L361.3 1649.8L361.4 1652.8L361.6 1655.8L361.7 1658.8L361.8 1661.8L361.9 1664.8L362.0 1667.8L362.1 1670.8L362.2 1673.8L362.3 1676.8L362.4 1679.8L362.6 1682.8L362.7 1685.8L362.8 1688.8L362.9 1691.8L363.0 1694.8L363.1 1697.8L363.3 1700.8L363.4 1703.8L363.5 1706.7L363.6 1709.7L363.7 1712.7L363.8 1715.7L364.0 1718.7L364.1 1721.7L364.2 1724.7L364.3 1727.7L364.5 1730.7L364.6 1733.7L364.7 1736.7L364.8 1739.7L365.0 1742.7L365.1 1745.7L365.2 1748.7L365.4 1751.7L365.5 1754.7L365.6 1757.7L365.7 1760.7L365.9 1763.7L366.0 1766.7L366.1 1769.7L366.3 1772.7L366.4 1775.7L366.6 1778.7L366.7 1781.7L366.8 1784.7L367.0 1787.7L367.1 1790.7L367.3 1793.7L367.4 1796.7L367.5 1799.7L367.7 1802.7L367.8 1805.7L368.0 1808.7L368.1 1811.7L368.3 1814.7L368.4 1817.7L368.6 1820.7L368.7 1823.7L368.9 1826.7L369.0 1829.7L369.2 1832.8L369.4 1835.8L369.5 1838.8L369.7 1841.8L369.8 1844.8L370.0 1847.8L370.2 1850.8L370.3 1853.8L370.5 1856.8L370.7 1859.9L370.8 1862.9L371.0 1865.9L371.2 1868.9L371.3 1871.9L371.5 1874.9L371.7 1878.0L371.9 1881.0L372.0 1884.0L372.2 1887.0L372.4 1890.0L372.6 1893.1L372.8 1896.1L373.0 1899.1L373.2 1902.1L373.4 1905.1L373.5 1908.1L373.7 1911.2L373.9 1914.2L374.2 1917.2L374.4 1920.2L374.6 1923.2L374.8 1926.2L375.0 1929.2L375.2 1932.2L375.5 1935.2L375.7 1938.2L375.9 1941.2L376.2 1944.2L376.4 1947.1L376.7 1950.1L376.9 1953.1L377.2 1956.1L377.4 1959.0L377.7 1962.0L378.0 1965.0L378.3 1967.9L378.5 1970.8L378.8 1973.8L379.1 1976.7L379.4 1979.6L379.7 1982.6L380.1 1985.5L380.4 1988.4L380.7 1991.3L381.0 1994.2L381.4 1997.1L381.7 2000.0L382.1 2002.8L382.5 2005.7L382.8 2008.6L383.2 2011.4L383.6 2014.3L384.0 2017.2L384.4 2020.2L384.8 2023.1L385.2 2026.1L385.6 2029.1L386.0 2032.2L386.4 2035.3L386.8 2038.4L387.2 2041.6L387.7 2044.9L388.1 2048.3L388.5 2051.7L389.0 2055.1L389.6 2058.4L390.3 2061.6L391.3 2064.6L392.5 2067.2L394.0 2069.5L395.8 2071.3L397.9 2072.4L400.1 2072.8L402.3 2072.2L404.4 2070.8L406.4 2068.7L408.1 2066.3L409.6 2063.6L410.7 2060.8L411.6 2057.9L412.3 2054.8L412.9 2051.7L413.3 2048.5L413.6 2045.3L413.9 2042.1L414.2 2038.9L414.5 2035.7L414.8 2032.6L415.2 2029.5L415.6 2026.4L416.0 2023.4L416.5 2020.4L416.9 2017.4L417.4 2014.4L417.9 2011.5L418.4 2008.6L419.0 2005.7L419.5 2002.8L420.1 1999.9L420.6 1997.1L421.2 1994.2L421.8 1991.3L422.3 1988.5L422.9 1985.7L423.5 1982.8L424.1 1979.9L424.7 1977.1L425.2 1974.2L425.8 1971.3L426.4 1968.5L426.9 1965.6L427.5 1962.7L428.0 1959.7L428.6 1956.8L429.1 1953.9L429.6 1951.0L430.1 1948.0L430.7 1945.1L431.2 1942.1L431.7 1939.1L432.2 1936.2L432.7 1933.2L433.2 1930.2L433.7 1927.2L434.2 1924.2L434.7 1921.2L435.1 1918.2L435.6 1915.2L436.1 1912.2L436.6 1909.2L437.0 1906.2L437.5 1903.2L437.9 1900.1L438.4 1897.1L438.9 1894.1L439.3 1891.1L439.8 1888.0L440.2 1885.0L440.7 1882.0L441.1 1879.0L441.6 1875.9L442.0 1872.9L442.4 1869.9L442.9 1866.9L443.3 1863.8L443.8 1860.8L444.2 1857.8L444.6 1854.8L445.1 1851.8L445.5 1848.8L445.9 1845.8L446.4 1842.8L446.8 1839.8L447.2 1836.8L447.7 1833.8L448.1 1830.8L448.5 1827.9L449.0 1824.9L449.4 1821.9L449.8 1819.0L450.3 1816.0L450.7 1813.0L451.2 1810.1L451.6 1807.1L452.0 1804.2L452.5 1801.2L452.9 1798.3L453.4 1795.4L453.8 1792.4L454.3 1789.5L454.7 1786.6L455.2 1783.6L455.6 1780.7L456.1 1777.8L456.5 1774.9L457.0 1771.9L457.5 1769.0L457.9 1766.1L458.4 1763.2L458.9 1760.3L459.3 1757.4L459.8 1754.4L460.3 1751.5L460.8 1748.6L461.2 1745.7L461.7 1742.8L462.2 1739.9L462.7 1737.0L463.2 1734.1L463.7 1731.2L464.2 1728.3L464.7 1725.3L465.2 1722.4L465.7 1719.5L466.3 1716.6L466.8 1713.7L467.3 1710.8L467.8 1707.9L468.4 1705.0L468.9 1702.1L469.5 1699.1L470.0 1696.2L470.6 1693.3L471.1 1690.4L471.7 1687.5L472.2 1684.5L472.8 1681.6L473.4 1678.7L474.0 1675.8L474.6 1672.8L475.2 1669.9L475.8 1667.0L476.4 1664.0L477.0 1661.1L477.6 1658.1L478.2 1655.2L478.8 1652.2L479.5 1649.3L480.1 1646.3L480.8 1643.4L481.4 1640.4L482.1 1637.4L482.7 1634.5L483.4 1631.5L484.1 1628.5L484.8 1625.5L485.5 1622.5L486.2 1619.5L486.9 1616.5L487.6 1613.5L488.3 1610.5L489.0 1607.5L489.8 1604.5L490.5 1601.5L491.3 1598.5L492.0 1595.4L492.8 1592.4L493.6 1589.3L494.4 1586.3L495.2 1583.2L496.0 1580.2L496.8 1577.1L497.6 1574.1L498.4 1571.0L499.3 1568.0L500.2 1564.9L501.1 1561.9L502.1 1558.9L503.1 1556.0L504.1 1553.1L505.2 1550.2L506.3 1547.3L507.5 1544.5L508.7 1541.8L510.0 1539.1L511.3 1536.5L512.7 1533.9L514.2 1531.4L515.7 1529.0L517.4 1526.6L519.1 1524.3L520.9 1522.2L522.7 1520.1L524.7 1518.1L526.7 1516.2L528.9 1514.4L531.1 1512.7L533.5 1511.1L535.9 1509.6L538.5 1508.3L541.2 1507.1L543.9 1506.1L546.7 1505.2L549.6 1504.5L552.5 1504.0L555.4 1503.7L558.3 1503.7L561.3 1503.9L564.2 1504.5L567.0 1505.3L569.8 1506.3L572.6 1507.7L575.3 1509.2L578.0 1511.0L580.6 1512.9L583.2 1514.9L585.8 1517.0L588.3 1519.2L590.8 1521.4L593.3 1523.7L595.8 1525.9L598.2 1528.0L600.6 1530.1L603.0 1532.2L605.4 1534.2L607.8 1536.1L610.1 1538.0L612.5 1539.8L614.8 1541.6L617.2 1543.4L619.5 1545.1L621.9 1546.8L624.2 1548.5L626.5 1550.1L628.9 1551.7L631.3 1553.3L633.6 1554.9L636.0 1556.4L638.4 1557.9L640.8 1559.4L643.2 1560.9L645.7 1562.4L648.1 1563.9L650.6 1565.4L653.1 1566.8L655.7 1568.3L658.2 1569.7L660.8 1571.2L663.4 1572.6L666.0 1574.0L668.6 1575.5L671.3 1576.9L673.9 1578.2L676.6 1579.6L679.3 1581.0L682.0 1582.3L684.8 1583.7L687.5 1585.0L690.2 1586.3L693.0 1587.5L695.8 1588.8L698.6 1590.0L701.3 1591.2L704.1 1592.4L706.9 1593.6L709.8 1594.8L712.6 1595.9L715.4 1597.0L718.2 1598.0L721.1 1599.1L723.9 1600.1L726.7 1601.1L729.6 1602.1L732.4 1603.1L735.3 1604.0L738.2 1604.9L741.0 1605.8L743.9 1606.7L746.8 1607.6L749.7 1608.4L752.6 1609.3L755.5 1610.1L758.3 1610.9L761.2 1611.7L764.2 1612.4L767.1 1613.2L770.0 1613.9L772.9 1614.6L775.8 1615.3L778.7 1616.0L781.6 1616.7L784.6 1617.4L787.5 1618.0L790.4 1618.7L793.4 1619.3L796.3 1619.9L799.2 1620.5L802.2 1621.1L805.1 1621.7L808.1 1622.3L811.0 1622.9L814.0 1623.5L816.9 1624.0L819.9 1624.6L822.8 1625.2L825.8 1625.7L828.7 1626.2L831.7 1626.8L834.6 1627.3L837.6 1627.8L840.6 1628.4L843.5 1628.9L846.5 1629.4L849.4 1629.9L852.4 1630.4L855.4 1630.9L858.3 1631.4L861.3 1632.0L864.2 1632.4L867.2 1632.9L870.2 1633.4L873.1 1633.9L876.1 1634.4L879.1 1634.9L882.0 1635.3L885.0 1635.8L888.0 1636.3L890.9 1636.7L893.9 1637.2L896.9 1637.7L899.8 1638.1L902.8 1638.6L905.8 1639.0L908.7 1639.4L911.7 1639.9L914.7 1640.3L917.7 1640.7L920.6 1641.1L923.6 1641.5L926.6 1642.0L929.6 1642.4L932.5 1642.8L935.5 1643.2L938.5 1643.6L941.5 1643.9L944.4 1644.3L947.4 1644.7L950.4 1645.1L953.4 1645.4L956.4 1645.8L959.3 1646.2L962.3 1646.5L965.3 1646.9L968.3 1647.2L971.3 1647.5L974.3 1647.9L977.2 1648.2L980.2 1648.5L983.2 1648.8L986.2 1649.2L989.2 1649.5L992.2 1649.8L995.1 1650.1L998.1 1650.4L1001.1 1650.6L1004.1 1650.9L1007.1 1651.2L1010.1 1651.5L1013.1 1651.7L1016.1 1652.0L1019.1 1652.2L1022.1 1652.5L1025.0 1652.7L1028.0 1653.0L1031.0 1653.2L1034.0 1653.4L1037.0 1653.6L1040.0 1653.8L1043.0 1654.0L1046.0 1654.2L1049.0 1654.4L1052.0 1654.6L1055.0 1654.8L1058.0 1655.0L1061.0 1655.2L1064.0 1655.3L1067.0 1655.5L1070.0 1655.6L1073.0 1655.8L1076.0 1655.9L1079.0 1656.0L1082.0 1656.2L1085.0 1656.3L1088.0 1656.4L1091.0 1656.5L1094.0 1656.6L1097.0 1656.7L1100.0 1656.8L1103.0 1656.9L1106.0 1656.9L1109.0 1657.0L1112.0 1657.1L1115.0 1657.1L1118.0 1657.2L1121.0 1657.2L1124.1 1657.2L1127.1 1657.3L1130.1 1657.3L1133.1 1657.3L1136.1 1657.3L1139.1 1657.3L1142.1 1657.3L1145.1 1657.2L1148.1 1657.2L1151.1 1657.2L1154.1 1657.1L1157.1 1657.0L1160.1 1657.0L1163.1 1656.9L1166.1 1656.8L1169.1 1656.7L1172.1 1656.6L1175.1 1656.5L1178.1 1656.4L1181.1 1656.3L1184.2 1656.1L1187.2 1656.0L1190.1 1655.8L1193.1 1655.7L1196.1 1655.5L1199.1 1655.3L1202.1 1655.1L1205.1 1654.9L1208.1 1654.7L1211.1 1654.4L1214.1 1654.2L1217.1 1654.0L1220.1 1653.7L1223.1 1653.4L1226.1 1653.2L1229.1 1652.9L1232.0 1652.6L1235.0 1652.2L1238.0 1651.9L1241.0 1651.6L1244.0 1651.2L1246.9 1650.9L1249.9 1650.5L1252.9 1650.1L1255.9 1649.7L1258.8 1649.3L1261.8 1648.9L1264.8 1648.5L1267.7 1648.0L1270.7 1647.6L1273.7 1647.1L1276.6 1646.6L1279.6 1646.1L1282.5 1645.6L1285.5 1645.1L1288.4 1644.6L1291.4 1644.0L1294.3 1643.5L1297.3 1642.9L1300.2 1642.3L1303.2 1641.7L1306.1 1641.1L1309.0 1640.5L1312.0 1639.9L1314.9 1639.2L1317.8 1638.6L1320.7 1637.9L1323.7 1637.2L1326.6 1636.5L1329.5 1635.7L1332.4 1635.0L1335.3 1634.3L1338.2 1633.5L1341.1 1632.7L1344.0 1631.9L1346.9 1631.1L1349.8 1630.3L1352.7 1629.4L1355.6 1628.6L1358.5 1627.7L1361.4 1626.8L1364.3 1625.9L1367.1 1625.0L1370.0 1624.1L1372.9 1623.1L1375.8 1622.2L1378.6 1621.2L1381.5 1620.2L1384.3 1619.2L1387.2 1618.2L1390.0 1617.1L1392.8 1616.0L1395.7 1615.0L1398.5 1613.9L1401.3 1612.8L1404.1 1611.6L1406.9 1610.5L1409.7 1609.3L1412.5 1608.2L1415.3 1607.0L1418.1 1605.8L1420.8 1604.5L1423.6 1603.3L1426.3 1602.1L1429.1 1600.8L1431.8 1599.5L1434.5 1598.2L1437.3 1596.9L1440.0 1595.5L1442.7 1594.2L1445.3 1592.8L1448.0 1591.4L1450.7 1590.0L1453.3 1588.5L1456.0 1587.1L1458.6 1585.6L1461.2 1584.2L1463.8 1582.7L1466.4 1581.1L1469.0 1579.6L1471.6 1578.1L1474.1 1576.5L1476.7 1574.9L1479.2 1573.3L1481.7 1571.7L1484.2 1570.1L1486.7 1568.4L1489.2 1566.7L1491.6 1565.0L1494.1 1563.3L1496.5 1561.6L1498.9 1559.8L1501.3 1558.1L1503.7 1556.3L1506.1 1554.5L1508.4 1552.7L1510.8 1550.8L1513.1 1549.0L1515.4 1547.1L1517.7 1545.2L1520.0 1543.3L1522.2 1541.4L1524.4 1539.4L1526.7 1537.4L1528.9 1535.4L1531.0 1533.4L1533.2 1531.4L1535.3 1529.4L1537.5 1527.3L1539.6 1525.2L1541.6 1523.1L1543.7 1521.0L1545.7 1518.8L1547.8 1516.7L1549.8 1514.5L1551.7 1512.3L1553.7 1510.1L1555.6 1507.8L1557.6 1505.6L1559.5 1503.3L1561.3 1501.0L1563.2 1498.7L1565.0 1496.3L1566.8 1494.0L1568.6 1491.6L1570.3 1489.2L1572.1 1486.8L1573.8 1484.4L1575.5 1481.9L1577.1 1479.4L1578.8 1476.9L1580.4 1474.4L1582.0 1471.9L1583.6 1469.3L1585.1 1466.7L1586.7 1464.2L1588.2 1461.6L1589.7 1458.9L1591.2 1456.3L1592.6 1453.7L1594.1 1451.0L1595.5 1448.3L1597.0 1445.7L1598.4 1443.0L1599.8 1440.3L1601.2 1437.6L1602.6 1434.8L1603.9 1432.1L1605.3 1429.4L1606.7 1426.6L1608.0 1423.9L1609.4 1421.2L1610.7 1418.4L1612.1 1415.6L1613.4 1412.9L1614.8 1410.1L1616.1 1407.4L1617.4 1404.6L1618.8 1401.8L1620.1 1399.1L1621.5 1396.3L1622.8 1393.5L1624.2 1390.8L1625.6 1388.0L1626.9 1385.3L1628.3 1382.5L1629.7 1379.8L1631.1 1377.0L1632.5 1374.3L1633.9 1371.6L1635.3 1368.9L1636.8 1366.2L1638.2 1363.5L1639.7 1360.8L1641.2 1358.1L1642.7 1355.5L1644.3 1352.9L1645.9 1350.3L1647.5 1347.8L1649.2 1345.3L1651.0 1342.9L1652.8 1340.6L1654.8 1338.4L1656.8 1336.3L1658.9 1334.3L1661.1 1332.4L1663.4 1330.7L1665.9 1329.0L1668.5 1327.6L1671.2 1326.4L1673.9 1325.7L1676.7 1325.7L1679.4 1326.4L1682.0 1327.7L1684.5 1329.4L1686.7 1331.3L1688.8 1333.4L1690.7 1335.6L1692.4 1338.0L1694.0 1340.5L1695.4 1343.1L1696.7 1345.9L1697.9 1348.7L1698.9 1351.7L1699.9 1354.6L1700.8 1357.7L1701.6 1360.7L1702.4 1363.8L1703.2 1367.0L1703.9 1370.1L1704.6 1373.1L1705.3 1376.2L1706.0 1379.3L1706.6 1382.3L1707.3 1385.3L1708.0 1388.3L1708.6 1391.2L1709.3 1394.2L1710.0 1397.1L1710.6 1400.0L1711.2 1402.9L1711.9 1405.8L1712.5 1408.7L1713.1 1411.6L1713.7 1414.5L1714.3 1417.4L1714.9 1420.2L1715.5 1423.1L1716.1 1426.0L1716.6 1428.8L1717.2 1431.7L1717.8 1434.6L1718.3 1437.5L1718.8 1440.4L1719.4 1443.3L1719.9 1446.2L1720.4 1449.1L1720.9 1452.0L1721.4 1454.9L1721.9 1457.9L1722.3 1460.8L1722.8 1463.7L1723.3 1466.7L1723.7 1469.6L1724.2 1472.6L1724.6 1475.5L1725.1 1478.5L1725.5 1481.5L1725.9 1484.4L1726.3 1487.4L1726.8 1490.4L1727.2 1493.4L1727.6 1496.3L1728.0 1499.3L1728.4 1502.3L1728.7 1505.3L1729.1 1508.3L1729.5 1511.3L1729.9 1514.3L1730.2 1517.3L1730.6 1520.3L1731.0 1523.3L1731.3 1526.3L1731.7 1529.3L1732.0 1532.3L1732.4 1535.3L1732.7 1538.3L1733.1 1541.3L1733.4 1544.4L1733.8 1547.4L1734.1 1550.4L1734.4 1553.4L1734.8 1556.4L1735.1 1559.4L1735.5 1562.4L1735.8 1565.4L1736.1 1568.4L1736.4 1571.4L1736.8 1574.4L1737.1 1577.4L1737.4 1580.4L1737.8 1583.4L1738.1 1586.4L1738.4 1589.4L1738.7 1592.4L1739.1 1595.4L1739.4 1598.4L1739.7 1601.3L1740.0 1604.3L1740.4 1607.3L1740.7 1610.3L1741.0 1613.3L1741.3 1616.3L1741.7 1619.3L1742.0 1622.2L1742.3 1625.2L1742.6 1628.2L1742.9 1631.2L1743.3 1634.2L1743.6 1637.1L1743.9 1640.1L1744.2 1643.1L1744.5 1646.1L1744.8 1649.0L1745.1 1652.0L1745.5 1655.0L1745.8 1658.0L1746.1 1660.9L1746.4 1663.9L1746.7 1666.9L1747.0 1669.9L1747.3 1672.8L1747.6 1675.8L1747.9 1678.8L1748.2 1681.8L1748.5 1684.7L1748.8 1687.7L1749.1 1690.7L1749.4 1693.7L1749.8 1696.6L1750.1 1699.6L1750.4 1702.6L1750.7 1705.6L1751.0 1708.5L1751.3 1711.5L1751.5 1714.5L1751.8 1717.5L1752.1 1720.4L1752.4 1723.4L1752.7 1726.4L1753.0 1729.4L1753.3 1732.3L1753.6 1735.3L1753.9 1738.3L1754.2 1741.3L1754.5 1744.3L1754.8 1747.2L1755.1 1750.2L1755.4 1753.2L1755.6 1756.2L1755.9 1759.2L1756.2 1762.2L1756.5 1765.2L1756.8 1768.1L1757.1 1771.1L1757.3 1774.1L1757.6 1777.1L1757.9 1780.1L1758.2 1783.1L1758.5 1786.1L1758.7 1789.1L1759.0 1792.1L1759.3 1795.1L1759.6 1798.1L1759.8 1801.1L1760.1 1804.1L1760.4 1807.1L1760.7 1810.1L1760.9 1813.1L1761.2 1816.1L1761.5 1819.1L1761.7 1822.1L1762.0 1825.1L1762.3 1828.2L1762.5 1831.2L1762.8 1834.2L1763.1 1837.2L1763.3 1840.2L1763.6 1843.3L1763.9 1846.3L1764.1 1849.3L1764.4 1852.3L1764.7 1855.4L1764.9 1858.4L1765.2 1861.4L1765.5 1864.4L1765.7 1867.5L1766.0 1870.5L1766.3 1873.5L1766.5 1876.5L1766.8 1879.5L1767.1 1882.6L1767.4 1885.6L1767.7 1888.6L1767.9 1891.6L1768.2 1894.6L1768.5 1897.6L1768.8 1900.6L1769.1 1903.6L1769.4 1906.6L1769.7 1909.6L1770.0 1912.6L1770.3 1915.5L1770.6 1918.5L1771.0 1921.5L1771.3 1924.4L1771.6 1927.4L1771.9 1930.4L1772.3 1933.3L1772.6 1936.2L1773.0 1939.2L1773.3 1942.1L1773.7 1945.0L1774.0 1947.9L1774.4 1950.9L1774.8 1953.8L1775.2 1956.6L1775.6 1959.5L1776.0 1962.4L1776.4 1965.3L1776.8 1968.1L1777.2 1971.0L1777.6 1973.9L1778.0 1976.7L1778.4 1979.6L1778.9 1982.4L1779.3 1985.3L1779.7 1988.2L1780.1 1991.1L1780.5 1994.0L1780.9 1997.0L1781.2 2000.0L1781.6 2002.9L1781.9 2006.0L1782.3 2009.0L1782.6 2012.1L1782.9 2015.2L1783.2 2018.3L1783.4 2021.5L1783.7 2024.8L1783.9 2028.0L1784.1 2031.3L1784.3 2034.7L1784.6 2038.0L1784.9 2041.2L1785.5 2044.4L1786.2 2047.4L1787.2 2050.3L1788.5 2052.9L1790.0 2055.1L1791.6 2056.6L1793.2 2057.0L1794.8 2056.3L1796.4 2054.6L1797.8 2052.1L1799.0 2049.1L1800.1 2045.9L1800.9 2042.7L1801.5 2039.5L1802.0 2036.3L1802.4 2033.1L1802.6 2029.9L1802.9 2026.8L1803.1 2023.7L1803.3 2020.6L1803.6 2017.5L1803.8 2014.5L1804.1 2011.4L1804.4 2008.4L1804.6 2005.4L1804.9 2002.4L1805.2 1999.4L1805.5 1996.4L1805.8 1993.5L1806.1 1990.5L1806.4 1987.6L1806.7 1984.6L1807.0 1981.7L1807.2 1978.8L1807.5 1975.8L1807.8 1972.9L1808.1 1970.0L1808.4 1967.0L1808.7 1964.1L1808.9 1961.2L1809.2 1958.2L1809.4 1955.3L1809.7 1952.4L1809.9 1949.4L1810.2 1946.4L1810.4 1943.5L1810.6 1940.5L1810.8 1937.6L1811.0 1934.6L1811.2 1931.6L1811.4 1928.6L1811.6 1925.7L1811.8 1922.7L1812.0 1919.7L1812.1 1916.7L1812.3 1913.7L1812.5 1910.7L1812.6 1907.7L1812.8 1904.7L1812.9 1901.7L1813.1 1898.7L1813.2 1895.7L1813.4 1892.7L1813.5 1889.7L1813.6 1886.7L1813.8 1883.7L1813.9 1880.7L1814.0 1877.7L1814.1 1874.7L1814.3 1871.7L1814.4 1868.6L1814.5 1865.6L1814.6 1862.6L1814.7 1859.6L1814.8 1856.6L1814.9 1853.6L1815.0 1850.5L1815.1 1847.5L1815.2 1844.5L1815.3 1841.5L1815.4 1838.5L1815.5 1835.5L1815.6 1832.4L1815.7 1829.4L1815.8 1826.4L1815.9 1823.4L1816.0 1820.4L1816.1 1817.4L1816.2 1814.4L1816.3 1811.4L1816.4 1808.4L1816.5 1805.3L1816.6 1802.3L1816.7 1799.3L1816.8 1796.3L1816.9 1793.3L1817.0 1790.3L1817.1 1787.3L1817.2 1784.3L1817.3 1781.3L1817.4 1778.3L1817.5 1775.3L1817.6 1772.3L1817.7 1769.3L1817.8 1766.3L1817.9 1763.3L1818.0 1760.3L1818.1 1757.3L1818.2 1754.3L1818.3 1751.3L1818.4 1748.3L1818.5 1745.3L1818.6 1742.3L1818.7 1739.3L1818.8 1736.3L1818.8 1733.3L1818.9 1730.4L1819.0 1727.4L1819.1 1724.4L1819.2 1721.4L1819.3 1718.4L1819.4 1715.4L1819.5 1712.4L1819.6 1709.4L1819.7 1706.4L1819.8 1703.4L1819.9 1700.4L1820.0 1697.4L1820.1 1694.4L1820.1 1691.4L1820.2 1688.4L1820.3 1685.4L1820.4 1682.4L1820.5 1679.4L1820.6 1676.4L1820.7 1673.4L1820.8 1670.4L1820.9 1667.4L1820.9 1664.4L1821.0 1661.4L1821.1 1658.4L1821.2 1655.4L1821.3 1652.4L1821.4 1649.4L1821.5 1646.4L1821.6 1643.4L1821.6 1640.4L1821.7 1637.4L1821.8 1634.4L1821.9 1631.4L1822.0 1628.4L1822.1 1625.4L1822.2 1622.4L1822.2 1619.4L1822.3 1616.4L1822.4 1613.4L1822.5 1610.4L1822.6 1607.4L1822.7 1604.3L1822.7 1601.3L1822.8 1598.3L1822.9 1595.3" fill="none" stroke="#bf00bf" stroke-width="12.50" stroke-dasharray="46.25 20" stroke-linecap="butt" stroke-linejoin="round"/>
<rect x="302.60" y="1182.70" width="1569.40" height="907.50" fill="none" stroke="#000" stroke-width="3.333" stroke-linejoin="miter"/>
<path d="M351.70 2090.20v14.58M842.10 2090.20v14.58M1332.50 2090.20v14.58M1822.90 2090.20v14.58M302.60 1340.60h-14.58M302.60 1595.10h-14.58M302.60 1849.60h-14.58" stroke="#000" stroke-width="3.333" fill="none"/>
<g font-family='"DejaVu Sans","Liberation Sans",sans-serif' font-size="75.00" fill="#000">
<text x="351.70" y="2176.77" text-anchor="middle">0</text>
<text x="842.10" y="2176.77" text-anchor="middle">1</text>
<text x="1332.50" y="2176.77" text-anchor="middle">2</text>
<text x="1822.90" y="2176.77" text-anchor="middle">3</text>
<text x="273.43" y="1368.20" text-anchor="end">1.0</text>
<text x="273.43" y="1622.70" text-anchor="end">0.5</text>
<text x="273.43" y="1877.20" text-anchor="end">0.0</text>
</g>
<text x="1087.60" y="2278.80" text-anchor="middle" font-family='"DejaVu Sans","Liberation Sans",sans-serif' font-size="91.67">t</text>
<text transform="translate(117.40 1911.00) rotate(-90)" font-family='"DejaVu Sans","Liberation Sans",sans-serif' font-size="91.67">Stiffness, <tspan x="451.6" font-family='"Libertinus Math","STIX Two Math","DejaVu Math TeX Gyre","DejaVu Sans",serif'>𝓀</tspan><tspan x="518.5" font-style="italic" font-size="64.17" dy="15">t</tspan></text>
<text x="320.90" y="1291.50" font-family='"DejaVu Sans","Liberation Sans",sans-serif' font-weight="bold" font-size="92.58">(d)</text>
</g>
<g>
<path d="M2269.9 1738.4L2269.9 1686.5L2272.6 1685.0L2275.4 1683.6L2278.1 1682.2L2280.9 1680.8L2283.6 1679.5L2286.4 1678.2L2289.1 1676.9L2291.9 1675.6L2294.7 1674.4L2297.5 1673.2L2300.3 1672.0L2303.1 1670.8L2305.9 1669.7L2308.7 1668.6L2311.5 1667.5L2314.3 1666.5L2317.2 1665.4L2320.0 1664.4L2322.8 1663.4L2325.7 1662.5L2328.5 1661.5L2331.4 1660.6L2334.2 1659.7L2337.1 1658.9L2340.0 1658.0L2342.8 1657.2L2345.7 1656.4L2348.6 1655.6L2351.5 1654.8L2354.4 1654.1L2357.3 1653.4L2360.2 1652.7L2363.1 1652.0L2366.0 1651.3L2368.9 1650.7L2371.8 1650.1L2374.7 1649.4L2377.7 1648.9L2380.6 1648.3L2383.5 1647.7L2386.4 1647.2L2389.4 1646.7L2392.3 1646.2L2395.3 1645.7L2398.2 1645.2L2401.2 1644.7L2404.1 1644.3L2407.1 1643.9L2410.0 1643.4L2413.0 1643.0L2416.0 1642.7L2418.9 1642.3L2421.9 1641.9L2424.9 1641.6L2427.9 1641.2L2430.8 1640.9L2433.8 1640.6L2436.8 1640.3L2439.8 1640.0L2442.8 1639.7L2445.8 1639.5L2448.7 1639.2L2451.7 1639.0L2454.7 1638.7L2457.7 1638.5L2460.7 1638.3L2463.7 1638.1L2466.7 1637.9L2469.7 1637.7L2472.7 1637.5L2475.7 1637.3L2478.7 1637.2L2481.7 1637.0L2484.7 1636.8L2487.8 1636.7L2490.8 1636.5L2493.8 1636.4L2496.8 1636.3L2499.8 1636.1L2502.8 1636.0L2505.8 1635.9L2508.8 1635.8L2511.8 1635.7L2514.8 1635.5L2517.8 1635.4L2520.9 1635.3L2523.9 1635.2L2526.9 1635.1L2529.9 1635.0L2532.9 1634.9L2535.9 1634.9L2538.9 1634.8L2541.9 1634.7L2544.9 1634.6L2548.0 1634.5L2551.0 1634.4L2554.0 1634.4L2557.0 1634.3L2560.0 1634.2L2563.0 1634.2L2566.0 1634.1L2569.0 1634.0L2572.0 1634.0L2575.0 1633.9L2578.0 1633.9L2581.1 1633.8L2584.1 1633.7L2587.1 1633.7L2590.1 1633.6L2593.1 1633.6L2596.1 1633.6L2599.1 1633.5L2602.1 1633.5L2605.1 1633.4L2608.1 1633.4L2611.1 1633.4L2614.2 1633.3L2617.2 1633.3L2620.2 1633.3L2623.2 1633.2L2626.2 1633.2L2629.2 1633.2L2632.2 1633.2L2635.2 1633.2L2638.2 1633.1L2641.2 1633.1L2644.2 1633.1L2647.2 1633.1L2650.3 1633.1L2653.3 1633.1L2656.3 1633.1L2659.3 1633.1L2662.3 1633.1L2665.3 1633.1L2668.3 1633.1L2671.3 1633.0L2674.3 1633.0L2677.3 1633.1L2680.3 1633.1L2683.3 1633.1L2686.4 1633.1L2689.4 1633.1L2692.4 1633.1L2695.4 1633.1L2698.4 1633.1L2701.4 1633.1L2704.4 1633.1L2707.4 1633.1L2710.4 1633.1L2713.4 1633.2L2716.4 1633.2L2719.4 1633.2L2722.4 1633.2L2725.4 1633.2L2728.5 1633.3L2731.5 1633.3L2734.5 1633.3L2737.5 1633.3L2740.5 1633.3L2743.5 1633.4L2746.5 1633.4L2749.5 1633.4L2752.5 1633.4L2755.5 1633.5L2758.5 1633.5L2761.5 1633.5L2764.5 1633.5L2767.5 1633.6L2770.5 1633.6L2773.6 1633.6L2776.6 1633.7L2779.6 1633.7L2782.6 1633.7L2785.6 1633.8L2788.6 1633.8L2791.6 1633.8L2794.6 1633.8L2797.6 1633.9L2800.6 1633.9L2803.6 1633.9L2806.6 1634.0L2809.6 1634.0L2812.6 1634.0L2815.6 1634.1L2818.6 1634.1L2821.6 1634.1L2824.7 1634.2L2827.7 1634.2L2830.7 1634.2L2833.7 1634.3L2836.7 1634.3L2839.7 1634.3L2842.7 1634.4L2845.7 1634.4L2848.7 1634.4L2851.7 1634.5L2854.7 1634.5L2857.7 1634.5L2860.7 1634.6L2863.7 1634.6L2866.7 1634.6L2869.7 1634.6L2872.7 1634.7L2875.8 1634.7L2878.8 1634.7L2881.8 1634.8L2884.8 1634.8L2887.8 1634.8L2890.8 1634.8L2893.8 1634.9L2896.8 1634.9L2899.8 1634.9L2902.8 1634.9L2905.8 1635.0L2908.8 1635.0L2911.8 1635.0L2914.8 1635.0L2917.8 1635.0L2920.8 1635.0L2923.8 1635.1L2926.9 1635.1L2929.9 1635.1L2932.9 1635.1L2935.9 1635.1L2938.9 1635.1L2941.9 1635.1L2944.9 1635.2L2947.9 1635.2L2950.9 1635.2L2953.9 1635.2L2956.9 1635.2L2959.9 1635.2L2962.9 1635.2L2965.9 1635.2L2968.9 1635.2L2971.9 1635.2L2974.9 1635.2L2977.9 1635.2L2981.0 1635.2L2984.0 1635.2L2987.0 1635.2L2990.0 1635.1L2993.0 1635.1L2996.0 1635.1L2999.0 1635.1L3002.0 1635.1L3005.0 1635.1L3008.0 1635.1L3011.0 1635.0L3014.0 1635.0L3017.0 1635.0L3020.0 1635.0L3023.0 1634.9L3026.0 1634.9L3029.0 1634.9L3032.0 1634.8L3035.1 1634.8L3038.1 1634.8L3041.1 1634.7L3044.1 1634.7L3047.1 1634.6L3050.1 1634.6L3053.1 1634.5L3056.1 1634.5L3059.1 1634.4L3062.1 1634.4L3065.1 1634.3L3068.1 1634.3L3071.1 1634.2L3074.1 1634.1L3077.1 1634.1L3080.1 1634.0L3083.2 1633.9L3086.2 1633.8L3089.2 1633.8L3092.2 1633.7L3095.2 1633.6L3098.2 1633.5L3101.2 1633.4L3104.2 1633.4L3107.2 1633.3L3110.2 1633.2L3113.2 1633.1L3116.2 1633.0L3119.2 1632.9L3122.2 1632.8L3125.2 1632.7L3128.2 1632.6L3131.3 1632.5L3134.3 1632.4L3137.3 1632.2L3140.3 1632.1L3143.3 1632.0L3146.3 1631.9L3149.3 1631.8L3152.3 1631.7L3155.3 1631.6L3158.3 1631.5L3161.3 1631.4L3164.3 1631.3L3167.3 1631.2L3170.3 1631.0L3173.3 1630.9L3176.3 1630.8L3179.4 1630.7L3182.4 1630.6L3185.4 1630.5L3188.4 1630.4L3191.4 1630.3L3194.4 1630.2L3197.4 1630.1L3200.4 1630.0L3203.4 1629.9L3206.4 1629.8L3209.4 1629.7L3212.4 1629.6L3215.4 1629.6L3218.4 1629.5L3221.4 1629.4L3224.4 1629.3L3227.5 1629.2L3230.5 1629.2L3233.5 1629.1L3236.5 1629.0L3239.5 1629.0L3242.5 1628.9L3245.5 1628.9L3248.5 1628.8L3251.5 1628.8L3254.5 1628.7L3257.5 1628.7L3260.5 1628.7L3263.5 1628.6L3266.5 1628.6L3269.5 1628.6L3272.5 1628.6L3275.5 1628.6L3278.5 1628.6L3281.5 1628.6L3284.5 1628.6L3287.6 1628.6L3290.6 1628.6L3293.6 1628.7L3296.6 1628.7L3299.6 1628.7L3302.6 1628.8L3305.6 1628.8L3308.6 1628.9L3311.6 1629.0L3314.6 1629.0L3317.6 1629.1L3320.6 1629.2L3323.6 1629.3L3326.6 1629.4L3329.6 1629.5L3332.6 1629.6L3335.6 1629.8L3338.6 1629.9L3341.6 1630.0L3344.6 1630.2L3347.6 1630.4L3350.6 1630.5L3353.6 1630.7L3356.6 1630.9L3359.6 1631.1L3362.6 1631.3L3365.6 1631.5L3368.6 1631.7L3371.6 1632.0L3374.6 1632.2L3377.6 1632.5L3380.6 1632.7L3383.6 1633.0L3386.6 1633.3L3389.6 1633.6L3392.6 1633.9L3395.6 1634.2L3398.6 1634.5L3401.6 1634.8L3404.6 1635.2L3407.6 1635.5L3410.6 1635.9L3413.6 1636.3L3416.6 1636.7L3419.6 1637.1L3422.6 1637.5L3425.6 1637.9L3428.6 1638.3L3431.6 1638.7L3434.6 1639.1L3437.6 1639.6L3440.6 1640.0L3443.6 1640.5L3446.6 1640.9L3449.6 1641.3L3452.6 1641.8L3455.6 1642.2L3458.6 1642.7L3461.6 1643.1L3464.6 1643.6L3467.6 1644.0L3470.6 1644.4L3473.6 1644.9L3476.6 1645.3L3479.6 1645.7L3482.6 1646.2L3485.6 1646.6L3488.5 1647.0L3491.5 1647.4L3494.5 1647.8L3497.5 1648.2L3500.5 1648.6L3503.5 1649.0L3506.5 1649.3L3509.5 1649.7L3512.5 1650.0L3515.5 1650.3L3518.5 1650.7L3521.5 1651.0L3524.5 1651.3L3527.5 1651.6L3530.5 1651.8L3533.5 1652.1L3536.5 1652.3L3539.5 1652.5L3542.5 1652.7L3545.5 1652.9L3548.5 1653.1L3551.5 1653.2L3554.4 1653.4L3557.4 1653.5L3560.4 1653.6L3563.4 1653.6L3566.4 1653.7L3569.4 1653.7L3572.4 1653.7L3575.4 1653.7L3578.4 1653.6L3581.4 1653.5L3584.4 1653.5L3587.4 1653.3L3590.4 1653.2L3593.4 1653.0L3596.4 1652.8L3599.4 1652.6L3602.4 1652.3L3605.3 1652.0L3608.3 1651.7L3611.3 1651.3L3614.3 1650.9L3617.2 1650.5L3620.2 1650.1L3623.1 1649.6L3626.1 1649.1L3629.0 1648.5L3631.9 1648.0L3634.9 1647.4L3637.8 1646.7L3640.7 1646.0L3643.6 1645.3L3646.4 1644.5L3649.3 1643.7L3652.1 1642.9L3655.0 1642.0L3657.8 1641.1L3660.6 1640.2L3663.4 1639.2L3666.2 1638.2L3668.9 1637.1L3671.7 1636.0L3674.4 1634.8L3677.1 1633.6L3679.8 1632.4L3682.5 1631.1L3685.1 1629.8L3687.7 1628.4L3690.3 1627.0L3692.9 1625.5L3695.5 1624.0L3698.0 1622.4L3700.5 1620.8L3703.0 1619.2L3705.5 1617.5L3707.9 1615.7L3710.4 1613.9L3712.8 1612.1L3715.1 1610.2L3717.5 1608.3L3719.8 1606.3L3722.1 1604.3L3724.3 1602.2L3726.5 1600.1L3728.7 1597.9L3730.9 1595.7L3733.1 1593.5L3735.2 1591.2L3737.2 1588.8L3739.3 1586.4L3741.3 1584.0" fill="none" stroke="#1f77b4" stroke-width="12.50" stroke-linecap="square" stroke-linejoin="round"/>
<path d="M2269.9 1690.2L2272.6 1688.6L2275.3 1687.0L2278.0 1685.5L2280.6 1684.0L2283.4 1682.5L2286.1 1681.1L2288.8 1679.7L2291.5 1678.3L2294.3 1676.9L2297.0 1675.6L2299.8 1674.3L2302.5 1673.1L2305.3 1671.8L2308.1 1670.6L2310.8 1669.4L2313.6 1668.3L2316.4 1667.2L2319.2 1666.1L2322.0 1665.0L2324.8 1664.0L2327.7 1663.0L2330.5 1662.0L2333.3 1661.0L2336.1 1660.1L2339.0 1659.2L2341.8 1658.3L2344.7 1657.4L2347.5 1656.6L2350.4 1655.7L2353.3 1654.9L2356.2 1654.2L2359.0 1653.4L2361.9 1652.7L2364.8 1652.0L2367.7 1651.3L2370.6 1650.6L2373.5 1650.0L2376.4 1649.3L2379.3 1648.7L2382.3 1648.1L2385.2 1647.6L2388.1 1647.0L2391.0 1646.5L2394.0 1646.0L2396.9 1645.5L2399.9 1645.0L2402.8 1644.5L2405.8 1644.1L2408.7 1643.6L2411.7 1643.2L2414.6 1642.8L2417.6 1642.4L2420.6 1642.1L2423.5 1641.7L2426.5 1641.4L2429.5 1641.0L2432.5 1640.7L2435.4 1640.4L2438.4 1640.1L2441.4 1639.8L2444.4 1639.6L2447.4 1639.3L2450.4 1639.0L2453.4 1638.8L2456.4 1638.6L2459.4 1638.4L2462.4 1638.2L2465.4 1638.0L2468.4 1637.8L2471.4 1637.6L2474.4 1637.4L2477.4 1637.2L2480.4 1637.1L2483.4 1636.9L2486.4 1636.8L2489.5 1636.7L2492.5 1636.5L2495.5 1636.4L2498.5 1636.3L2501.5 1636.2L2504.5 1636.0L2507.5 1635.9L2510.6 1635.8L2513.6 1635.7L2516.6 1635.6L2519.6 1635.5L2522.6 1635.4L2525.6 1635.3L2528.7 1635.3L2531.7 1635.2L2534.7 1635.1L2537.7 1635.0L2540.7 1634.9L2543.7 1634.9L2546.8 1634.8L2549.8 1634.7L2552.8 1634.6L2555.8 1634.6L2558.8 1634.5L2561.8 1634.4L2564.9 1634.4L2567.9 1634.3L2570.9 1634.3L2573.9 1634.2L2576.9 1634.2L2579.9 1634.1L2582.9 1634.1L2586.0 1634.0L2589.0 1634.0L2592.0 1633.9L2595.0 1633.9L2598.0 1633.8L2601.0 1633.8L2604.1 1633.8L2607.1 1633.7L2610.1 1633.7L2613.1 1633.7L2616.1 1633.6L2619.1 1633.6L2622.1 1633.6L2625.2 1633.6L2628.2 1633.5L2631.2 1633.5L2634.2 1633.5L2637.2 1633.5L2640.2 1633.5L2643.2 1633.5L2646.2 1633.4L2649.3 1633.4L2652.3 1633.4L2655.3 1633.4L2658.3 1633.4L2661.3 1633.4L2664.3 1633.4L2667.3 1633.4L2670.4 1633.4L2673.4 1633.4L2676.4 1633.4L2679.4 1633.4L2682.4 1633.4L2685.4 1633.4L2688.4 1633.4L2691.4 1633.4L2694.5 1633.4L2697.5 1633.4L2700.5 1633.4L2703.5 1633.4L2706.5 1633.4L2709.5 1633.5L2712.5 1633.5L2715.5 1633.5L2718.6 1633.5L2721.6 1633.5L2724.6 1633.5L2727.6 1633.6L2730.6 1633.6L2733.6 1633.6L2736.6 1633.6L2739.6 1633.6L2742.7 1633.6L2745.7 1633.7L2748.7 1633.7L2751.7 1633.7L2754.7 1633.7L2757.7 1633.8L2760.7 1633.8L2763.7 1633.8L2766.7 1633.8L2769.8 1633.9L2772.8 1633.9L2775.8 1633.9L2778.8 1633.9L2781.8 1634.0L2784.8 1634.0L2787.8 1634.0L2790.8 1634.0L2793.8 1634.1L2796.8 1634.1L2799.9 1634.1L2802.9 1634.2L2805.9 1634.2L2808.9 1634.2L2811.9 1634.2L2814.9 1634.3L2817.9 1634.3L2820.9 1634.3L2823.9 1634.4L2826.9 1634.4L2830.0 1634.4L2833.0 1634.4L2836.0 1634.5L2839.0 1634.5L2842.0 1634.5L2845.0 1634.6L2848.0 1634.6L2851.0 1634.6L2854.0 1634.6L2857.0 1634.7L2860.1 1634.7L2863.1 1634.7L2866.1 1634.7L2869.1 1634.8L2872.1 1634.8L2875.1 1634.8L2878.1 1634.8L2881.1 1634.9L2884.1 1634.9L2887.1 1634.9L2890.1 1634.9L2893.1 1634.9L2896.2 1635.0L2899.2 1635.0L2902.2 1635.0L2905.2 1635.0L2908.2 1635.0L2911.2 1635.1L2914.2 1635.1L2917.2 1635.1L2920.2 1635.1L2923.2 1635.1L2926.2 1635.1L2929.2 1635.1L2932.3 1635.2L2935.3 1635.2L2938.3 1635.2L2941.3 1635.2L2944.3 1635.2L2947.3 1635.2L2950.3 1635.2L2953.3 1635.2L2956.3 1635.2L2959.3 1635.2L2962.3 1635.2L2965.3 1635.2L2968.3 1635.2L2971.3 1635.2L2974.4 1635.2L2977.4 1635.2L2980.4 1635.2L2983.4 1635.2L2986.4 1635.2L2989.4 1635.1L2992.4 1635.1L2995.4 1635.1L2998.4 1635.1L3001.4 1635.1L3004.4 1635.1L3007.4 1635.0L3010.4 1635.0L3013.4 1635.0L3016.4 1635.0L3019.5 1634.9L3022.5 1634.9L3025.5 1634.9L3028.5 1634.8L3031.5 1634.8L3034.5 1634.8L3037.5 1634.7L3040.5 1634.7L3043.5 1634.7L3046.5 1634.6L3049.5 1634.6L3052.5 1634.5L3055.5 1634.5L3058.5 1634.4L3061.5 1634.4L3064.5 1634.3L3067.5 1634.2L3070.6 1634.2L3073.6 1634.1L3076.6 1634.1L3079.6 1634.0L3082.6 1633.9L3085.6 1633.9L3088.6 1633.8L3091.6 1633.7L3094.6 1633.6L3097.6 1633.5L3100.6 1633.5L3103.6 1633.4L3106.6 1633.3L3109.6 1633.2L3112.6 1633.1L3115.6 1633.0L3118.6 1632.9L3121.6 1632.8L3124.6 1632.7L3127.6 1632.6L3130.7 1632.5L3133.7 1632.4L3136.7 1632.3L3139.7 1632.2L3142.7 1632.1L3145.7 1632.0L3148.7 1631.9L3151.7 1631.8L3154.7 1631.7L3157.7 1631.6L3160.7 1631.5L3163.7 1631.4L3166.7 1631.3L3169.7 1631.2L3172.7 1631.1L3175.7 1631.0L3178.7 1630.9L3181.7 1630.8L3184.7 1630.7L3187.7 1630.6L3190.7 1630.5L3193.8 1630.4L3196.8 1630.3L3199.8 1630.2L3202.8 1630.1L3205.8 1630.0L3208.8 1630.0L3211.8 1629.9L3214.8 1629.8L3217.8 1629.7L3220.8 1629.6L3223.8 1629.6L3226.8 1629.5L3229.8 1629.4L3232.8 1629.4L3235.8 1629.3L3238.8 1629.3L3241.8 1629.2L3244.8 1629.2L3247.8 1629.1L3250.8 1629.1L3253.9 1629.0L3256.9 1629.0L3259.9 1629.0L3262.9 1629.0L3265.9 1629.0L3268.9 1628.9L3271.9 1628.9L3274.9 1628.9L3277.9 1628.9L3280.9 1628.9L3283.9 1629.0L3286.9 1629.0L3289.9 1629.0L3292.9 1629.0L3295.9 1629.1L3298.9 1629.1L3302.0 1629.2L3305.0 1629.2L3308.0 1629.3L3311.0 1629.4L3314.0 1629.4L3317.0 1629.5L3320.0 1629.6L3323.0 1629.7L3326.0 1629.8L3329.0 1629.9L3332.0 1630.0L3335.0 1630.2L3338.1 1630.3L3341.1 1630.4L3344.1 1630.6L3347.1 1630.8L3350.1 1630.9L3353.1 1631.1L3356.1 1631.3L3359.1 1631.5L3362.1 1631.7L3365.1 1631.9L3368.1 1632.1L3371.2 1632.4L3374.2 1632.6L3377.2 1632.8L3380.2 1633.1L3383.2 1633.4L3386.2 1633.7L3389.2 1633.9L3392.2 1634.2L3395.2 1634.6L3398.3 1634.9L3401.3 1635.2L3404.3 1635.6L3407.3 1635.9L3410.3 1636.3L3413.3 1636.6L3416.3 1637.0L3419.3 1637.4L3422.4 1637.8L3425.4 1638.2L3428.4 1638.6L3431.4 1639.0L3434.4 1639.4L3437.4 1639.9L3440.4 1640.3L3443.4 1640.7L3446.5 1641.2L3449.5 1641.6L3452.5 1642.0L3455.5 1642.5L3458.5 1642.9L3461.5 1643.3L3464.5 1643.8L3467.5 1644.2L3470.5 1644.6L3473.6 1645.1L3476.6 1645.5L3479.6 1645.9L3482.6 1646.3L3485.6 1646.7L3488.6 1647.1L3491.6 1647.5L3494.6 1647.9L3497.6 1648.3L3500.6 1648.7L3503.6 1649.0L3506.6 1649.4L3509.7 1649.7L3512.7 1650.1L3515.7 1650.4L3518.7 1650.7L3521.7 1651.0L3524.7 1651.3L3527.7 1651.6L3530.7 1651.8L3533.7 1652.1L3536.7 1652.3L3539.7 1652.5L3542.7 1652.7L3545.7 1652.9L3548.7 1653.0L3551.7 1653.2L3554.6 1653.3L3557.6 1653.4L3560.6 1653.5L3563.6 1653.5L3566.6 1653.6L3569.6 1653.6L3572.6 1653.6L3575.6 1653.5L3578.6 1653.5L3581.5 1653.4L3584.5 1653.3L3587.5 1653.1L3590.5 1653.0L3593.5 1652.8L3596.4 1652.6L3599.4 1652.3L3602.4 1652.1L3605.4 1651.8L3608.3 1651.4L3611.3 1651.1L3614.2 1650.7L3617.2 1650.3L3620.1 1649.8L3623.0 1649.3L3626.0 1648.8L3628.9 1648.3L3631.8 1647.7L3634.7 1647.1L3637.6 1646.4L3640.4 1645.7L3643.3 1645.0L3646.2 1644.2L3649.0 1643.4L3651.8 1642.6L3654.6 1641.7L3657.4 1640.8L3660.2 1639.9L3663.0 1638.9L3665.8 1637.9L3668.5 1636.8L3671.3 1635.7L3674.0 1634.5L3676.7 1633.3L3679.3 1632.1L3682.0 1630.8L3684.7 1629.5L3687.3 1628.1L3689.9 1626.7L3692.5 1625.3L3695.0 1623.8L3697.6 1622.2L3700.1 1620.6L3702.6 1619.0L3705.1 1617.3L3707.5 1615.6L3710.0 1613.8L3712.4 1612.0L3714.8 1610.1L3717.1 1608.2L3719.5 1606.2L3721.8 1604.1L3724.1 1602.1L3726.3 1599.9L3728.5 1597.8L3730.7 1595.5L3732.9 1593.3L3735.1 1590.9L3737.2 1588.5L3739.2 1586.1L3741.3 1583.6" fill="none" stroke="#ff7f0e" stroke-width="12.50" stroke-dasharray="46.25 20" stroke-linecap="butt" stroke-linejoin="round"/>
<path d="M2269.9 1779.0L2271.1 1776.4L2272.3 1773.7L2273.5 1771.0L2274.7 1768.3L2275.8 1765.6L2276.9 1762.8L2278.0 1760.1L2279.1 1757.3L2280.2 1754.5L2281.3 1751.7L2282.4 1748.9L2283.5 1746.1L2284.6 1743.3L2285.7 1740.4L2286.7 1737.6L2287.8 1734.8L2288.9 1731.9L2290.1 1729.1L2291.2 1726.3L2292.3 1723.4L2293.5 1720.6L2294.7 1717.8L2295.9 1715.0L2297.1 1712.2L2298.4 1709.4L2299.7 1706.7L2301.0 1703.9L2302.4 1701.2L2303.7 1698.5L2305.2 1695.8L2306.6 1693.2L2308.2 1690.5L2309.7 1687.9L2311.3 1685.4L2313.0 1682.8L2314.7 1680.3L2316.4 1677.8L2318.2 1675.4L2320.1 1672.9L2322.0 1670.6L2324.0 1668.2L2326.0 1665.9L2328.0 1663.7L2330.1 1661.5L2332.3 1659.3L2334.5 1657.2L2336.7 1655.1L2339.0 1653.0L2341.3 1651.1L2343.6 1649.1L2346.0 1647.2L2348.4 1645.4L2350.9 1643.6L2353.4 1641.8L2355.9 1640.2L2358.4 1638.5L2361.0 1636.9L2363.6 1635.4L2366.2 1634.0L2368.8 1632.6L2371.5 1631.2L2374.2 1629.9L2376.9 1628.7L2379.6 1627.6L2382.3 1626.5L2385.0 1625.4L2387.8 1624.5L2390.6 1623.6L2393.3 1622.7L2396.1 1622.0L2398.9 1621.3L2401.7 1620.6L2404.5 1620.0L2407.4 1619.5L2410.2 1619.0L2413.0 1618.6L2415.9 1618.3L2418.8 1617.9L2421.6 1617.7L2424.5 1617.5L2427.4 1617.3L2430.3 1617.2L2433.2 1617.1L2436.1 1617.1L2439.1 1617.1L2442.0 1617.1L2444.9 1617.2L2447.9 1617.3L2450.8 1617.5L2453.8 1617.7L2456.8 1617.9L2459.7 1618.2L2462.7 1618.5L2465.7 1618.8L2468.7 1619.1L2471.7 1619.5L2474.7 1619.9L2477.7 1620.3L2480.7 1620.7L2483.7 1621.2L2486.7 1621.6L2489.7 1622.1L2492.7 1622.6L2495.7 1623.1L2498.8 1623.7L2501.8 1624.2L2504.8 1624.8L2507.9 1625.3L2510.9 1625.9L2513.9 1626.4L2517.0 1627.0L2520.0 1627.6L2523.1 1628.2L2526.1 1628.7L2529.1 1629.3L2532.2 1629.9L2535.2 1630.4L2538.3 1631.0L2541.3 1631.5L2544.4 1632.0L2547.4 1632.6L2550.4 1633.1L2553.5 1633.6L2556.5 1634.1L2559.6 1634.5L2562.6 1635.0L2565.6 1635.4L2568.7 1635.8L2571.7 1636.2L2574.7 1636.6L2577.7 1636.9L2580.8 1637.2L2583.8 1637.6L2586.8 1637.9L2589.8 1638.1L2592.9 1638.4L2595.9 1638.7L2598.9 1638.9L2601.9 1639.1L2604.9 1639.3L2607.9 1639.5L2610.9 1639.7L2613.9 1639.9L2617.0 1640.0L2620.0 1640.2L2623.0 1640.3L2626.0 1640.4L2629.0 1640.5L2632.0 1640.6L2635.0 1640.7L2638.0 1640.8L2641.0 1640.9L2644.0 1640.9L2647.0 1641.0L2650.0 1641.0L2653.0 1641.0L2656.0 1641.0L2658.9 1641.0L2661.9 1641.0L2664.9 1641.0L2667.9 1641.0L2670.9 1641.0L2673.9 1640.9L2676.9 1640.9L2679.9 1640.9L2682.9 1640.8L2685.9 1640.8L2688.8 1640.7L2691.8 1640.6L2694.8 1640.6L2697.8 1640.5L2700.8 1640.4L2703.8 1640.3L2706.8 1640.3L2709.7 1640.2L2712.7 1640.1L2715.7 1640.0L2718.7 1639.9L2721.7 1639.8L2724.7 1639.7L2727.7 1639.6L2730.6 1639.5L2733.6 1639.4L2736.6 1639.3L2739.6 1639.2L2742.6 1639.1L2745.6 1639.1L2748.5 1639.0L2751.5 1638.9L2754.5 1638.8L2757.5 1638.7L2760.5 1638.6L2763.5 1638.5L2766.5 1638.5L2769.5 1638.4L2772.4 1638.3L2775.4 1638.2L2778.4 1638.2L2781.4 1638.1L2784.4 1638.0L2787.4 1638.0L2790.4 1637.9L2793.4 1637.8L2796.4 1637.8L2799.4 1637.7L2802.3 1637.7L2805.3 1637.6L2808.3 1637.6L2811.3 1637.5L2814.3 1637.5L2817.3 1637.4L2820.3 1637.4L2823.3 1637.3L2826.3 1637.3L2829.3 1637.2L2832.3 1637.2L2835.3 1637.2L2838.3 1637.1L2841.3 1637.1L2844.3 1637.1L2847.3 1637.0L2850.2 1637.0L2853.2 1637.0L2856.2 1636.9L2859.2 1636.9L2862.2 1636.9L2865.2 1636.8L2868.2 1636.8L2871.2 1636.8L2874.2 1636.8L2877.2 1636.8L2880.2 1636.7L2883.2 1636.7L2886.2 1636.7L2889.2 1636.7L2892.2 1636.7L2895.2 1636.6L2898.2 1636.6L2901.2 1636.6L2904.2 1636.6L2907.2 1636.6L2910.2 1636.6L2913.2 1636.5L2916.2 1636.5L2919.2 1636.5L2922.2 1636.5L2925.2 1636.5L2928.2 1636.5L2931.2 1636.5L2934.2 1636.5L2937.2 1636.5L2940.2 1636.5L2943.2 1636.4L2946.2 1636.4L2949.3 1636.4L2952.3 1636.4L2955.3 1636.4L2958.3 1636.4L2961.3 1636.4L2964.3 1636.4L2967.3 1636.4L2970.3 1636.4L2973.3 1636.4L2976.3 1636.3L2979.3 1636.3L2982.3 1636.3L2985.3 1636.3L2988.3 1636.3L2991.3 1636.3L2994.3 1636.3L2997.3 1636.3L3000.3 1636.3L3003.4 1636.3L3006.4 1636.3L3009.4 1636.2L3012.4 1636.2L3015.4 1636.2L3018.4 1636.2L3021.4 1636.2L3024.4 1636.2L3027.4 1636.2L3030.4 1636.1L3033.4 1636.1L3036.4 1636.1L3039.5 1636.1L3042.5 1636.1L3045.5 1636.1L3048.5 1636.0L3051.5 1636.0L3054.5 1636.0L3057.5 1636.0L3060.5 1636.0L3063.5 1635.9L3066.6 1635.9L3069.6 1635.9L3072.6 1635.9L3075.6 1635.8L3078.6 1635.8L3081.6 1635.8L3084.6 1635.7L3087.6 1635.7L3090.6 1635.7L3093.7 1635.6L3096.7 1635.6L3099.7 1635.6L3102.7 1635.5L3105.7 1635.5L3108.7 1635.4L3111.7 1635.4L3114.7 1635.3L3117.8 1635.3L3120.8 1635.2L3123.8 1635.2L3126.8 1635.1L3129.8 1635.1L3132.8 1635.0L3135.8 1635.0L3138.9 1634.9L3141.9 1634.9L3144.9 1634.8L3147.9 1634.7L3150.9 1634.7L3153.9 1634.6L3156.9 1634.5L3160.0 1634.5L3163.0 1634.4L3166.0 1634.3L3169.0 1634.2L3172.0 1634.2L3175.0 1634.1L3178.0 1634.0L3181.1 1633.9L3184.1 1633.8L3187.1 1633.7L3190.1 1633.6L3193.1 1633.5L3196.1 1633.4L3199.2 1633.3L3202.2 1633.2L3205.2 1633.1L3208.2 1633.0L3211.2 1632.9L3214.2 1632.8L3217.3 1632.7L3220.3 1632.6L3223.3 1632.4L3226.3 1632.3L3229.3 1632.2L3232.3 1632.1L3235.4 1631.9L3238.4 1631.8L3241.4 1631.7L3244.4 1631.5L3247.4 1631.4L3250.4 1631.2L3253.5 1631.1L3256.5 1630.9L3259.5 1630.8L3262.5 1630.6L3265.5 1630.5L3268.5 1630.3L3271.6 1630.1L3274.6 1630.0L3277.6 1629.8L3280.6 1629.6L3283.6 1629.4L3286.6 1629.3L3289.7 1629.1L3292.7 1628.9L3295.7 1628.7L3298.7 1628.5L3301.7 1628.3L3304.8 1628.1L3307.8 1627.9L3310.8 1627.7L3313.8 1627.5L3316.8 1627.3L3319.8 1627.1L3322.8 1626.9L3325.9 1626.7L3328.9 1626.5L3331.9 1626.3L3334.9 1626.1L3337.9 1625.9L3340.9 1625.7L3343.9 1625.6L3347.0 1625.4L3350.0 1625.2L3353.0 1625.0L3356.0 1624.9L3359.0 1624.7L3362.0 1624.6L3365.0 1624.4L3368.0 1624.3L3371.0 1624.1L3374.0 1624.0L3377.0 1623.9L3380.0 1623.8L3383.0 1623.7L3386.0 1623.6L3389.0 1623.6L3392.0 1623.5L3395.0 1623.4L3398.0 1623.4L3400.9 1623.4L3403.9 1623.3L3406.9 1623.3L3409.9 1623.3L3412.9 1623.4L3415.9 1623.4L3418.8 1623.5L3421.8 1623.5L3424.8 1623.6L3427.8 1623.7L3430.7 1623.8L3433.7 1623.9L3436.7 1624.1L3439.6 1624.2L3442.6 1624.4L3445.5 1624.6L3448.5 1624.8L3451.5 1625.1L3454.4 1625.3L3457.4 1625.6L3460.3 1625.9L3463.2 1626.2L3466.2 1626.5L3469.1 1626.9L3472.1 1627.3L3475.0 1627.7L3477.9 1628.1L3480.8 1628.5L3483.8 1629.0L3486.7 1629.5L3489.6 1630.0L3492.5 1630.6L3495.4 1631.1L3498.3 1631.7L3501.3 1632.3L3504.2 1633.0L3507.1 1633.7L3510.0 1634.4L3512.8 1635.1L3515.7 1635.8L3518.6 1636.6L3521.5 1637.4L3524.4 1638.3L3527.3 1639.1L3530.1 1640.0L3533.0 1641.0L3535.9 1641.9L3538.7 1642.9L3541.6 1643.9L3544.5 1645.0L3547.3 1646.0L3550.2 1647.1L3553.0 1648.3L3555.9 1649.5L3558.7 1650.7L3561.5 1651.9L3564.4 1653.2L3567.2 1654.5L3570.0 1655.8L3572.9 1657.2L3575.7 1658.6L3578.5 1660.0L3581.3 1661.4L3584.1 1662.8L3586.9 1664.2L3589.8 1665.7L3592.6 1667.0L3595.4 1668.4L3598.2 1669.7L3601.0 1671.0L3603.9 1672.2L3606.7 1673.4L3609.5 1674.5L3612.4 1675.6L3615.2 1676.5L3618.1 1677.4L3620.9 1678.2L3623.8 1678.8L3626.7 1679.4L3629.5 1679.8L3632.4 1680.2L3635.3 1680.4L3638.2 1680.4L3641.1 1680.3L3644.0 1680.1L3646.9 1679.8L3649.8 1679.3L3652.6 1678.7L3655.4 1678.0L3658.2 1677.1L3660.9 1676.1L3663.5 1675.0L3666.1 1673.8L3668.6 1672.4L3671.1 1670.9L3673.5 1669.3L3675.7 1667.6L3677.9 1665.7L3680.0 1663.7L3682.0 1661.6L3684.0 1659.4L3685.8 1657.1L3687.6 1654.7L3689.3 1652.3L3690.9 1649.7L3692.4 1647.1L3693.9 1644.4L3695.4 1641.7L3696.8 1638.9L3698.1 1636.0L3699.4 1633.1L3700.7 1630.2L3701.9 1627.3L3703.0 1624.3L3704.2 1621.4L3705.3 1618.4L3706.4 1615.4L3707.5 1612.4L3708.5 1609.5L3709.6 1606.6L3710.6 1603.6L3711.6 1600.7L3712.6 1597.8L3713.6 1595.0L3714.6 1592.1L3715.5 1589.3L3716.5 1586.4L3717.4 1583.6L3718.4 1580.8L3719.3 1578.0L3720.2 1575.2L3721.1 1572.3L3721.9 1569.5L3722.8 1566.8L3723.7 1564.0L3724.5 1561.2L3725.4 1558.4L3726.2 1555.6L3727.0 1552.8L3727.8 1550.0L3728.6 1547.2L3729.4 1544.3L3730.2 1541.5L3730.9 1538.7L3731.7 1535.9L3732.4 1533.0L3733.2 1530.1L3733.9 1527.3L3734.6 1524.4L3735.3 1521.5L3736.0 1518.6L3736.7 1515.6L3737.4 1512.7L3738.0 1509.7L3738.7 1506.7L3739.4 1503.7L3740.0 1500.6L3740.7 1497.6L3741.3 1494.5" fill="none" stroke="#2ca02c" stroke-width="12.50" stroke-dasharray="46.25 20" stroke-linecap="butt" stroke-linejoin="round"/>
<path d="M2269.9 2045.4L2270.0 2042.4L2270.2 2039.4L2270.3 2036.4L2270.5 2033.4L2270.6 2030.4L2270.8 2027.4L2271.0 2024.4L2271.1 2021.4L2271.3 2018.4L2271.5 2015.3L2271.7 2012.3L2271.9 2009.3L2272.1 2006.3L2272.3 2003.3L2272.5 2000.3L2272.7 1997.3L2272.9 1994.3L2273.1 1991.3L2273.3 1988.3L2273.6 1985.3L2273.8 1982.3L2274.0 1979.3L2274.3 1976.4L2274.5 1973.4L2274.7 1970.4L2275.0 1967.4L2275.2 1964.4L2275.5 1961.4L2275.8 1958.4L2276.0 1955.4L2276.3 1952.4L2276.5 1949.4L2276.8 1946.4L2277.1 1943.4L2277.4 1940.4L2277.6 1937.4L2277.9 1934.4L2278.2 1931.4L2278.5 1928.4L2278.8 1925.4L2279.1 1922.5L2279.4 1919.5L2279.7 1916.5L2280.0 1913.5L2280.3 1910.5L2280.6 1907.5L2280.9 1904.5L2281.2 1901.5L2281.5 1898.5L2281.8 1895.5L2282.1 1892.6L2282.5 1889.6L2282.8 1886.6L2283.1 1883.6L2283.4 1880.6L2283.7 1877.6L2284.1 1874.6L2284.4 1871.6L2284.7 1868.6L2285.0 1865.7L2285.4 1862.7L2285.7 1859.7L2286.0 1856.7L2286.3 1853.7L2286.7 1850.7L2287.0 1847.7L2287.3 1844.7L2287.7 1841.7L2288.0 1838.8L2288.3 1835.8L2288.7 1832.8L2289.0 1829.8L2289.3 1826.8L2289.7 1823.8L2290.0 1820.8L2290.3 1817.8L2290.7 1814.9L2291.0 1811.9L2291.3 1808.9L2291.7 1805.9L2292.0 1802.9L2292.3 1799.9L2292.7 1796.9L2293.0 1793.9L2293.3 1790.9L2293.7 1788.0L2294.0 1785.0L2294.3 1782.0L2294.7 1779.0L2295.0 1776.0L2295.3 1773.0L2295.6 1770.0L2295.9 1767.0L2296.3 1764.0L2296.6 1761.0L2296.9 1758.1L2297.2 1755.1L2297.5 1752.1L2297.8 1749.1L2298.2 1746.1L2298.5 1743.1L2298.8 1740.1L2299.1 1737.1L2299.4 1734.1L2299.7 1731.1L2300.0 1728.1L2300.3 1725.1L2300.6 1722.2L2300.9 1719.2L2301.2 1716.2L2301.5 1713.2L2301.8 1710.2L2302.2 1707.2L2302.5 1704.2L2302.8 1701.2L2303.2 1698.3L2303.6 1695.3L2303.9 1692.3L2304.3 1689.3L2304.7 1686.4L2305.2 1683.4L2305.6 1680.4L2306.0 1677.5L2306.5 1674.5L2307.0 1671.5L2307.5 1668.6L2308.0 1665.6L2308.6 1662.7L2309.2 1659.8L2309.8 1656.8L2310.4 1653.9L2311.0 1651.0L2311.7 1648.0L2312.4 1645.1L2313.1 1642.2L2313.9 1639.3L2314.7 1636.4L2315.5 1633.5L2316.4 1630.6L2317.3 1627.8L2318.2 1624.9L2319.2 1622.0L2320.2 1619.2L2321.3 1616.3L2322.3 1613.5L2323.5 1610.6L2324.6 1607.8L2325.8 1605.0L2327.1 1602.2L2328.4 1599.3L2329.7 1596.5L2331.1 1593.8L2332.6 1591.0L2334.1 1588.2L2335.6 1585.4L2337.2 1582.7L2338.8 1580.0L2340.5 1577.4L2342.3 1575.0L2344.2 1572.7L2346.2 1570.6L2348.2 1568.7L2350.4 1567.1L2352.7 1565.8L2355.0 1564.9L2357.6 1564.3L2360.2 1564.2L2362.9 1564.4L2365.8 1564.9L2368.7 1565.8L2371.6 1566.9L2374.6 1568.3L2377.6 1569.9L2380.6 1571.6L2383.5 1573.5L2386.4 1575.4L2389.2 1577.4L2391.9 1579.4L2394.5 1581.5L2397.1 1583.5L2399.6 1585.6L2402.0 1587.7L2404.3 1589.8L2406.7 1591.9L2408.9 1594.1L2411.1 1596.2L2413.3 1598.3L2415.4 1600.4L2417.6 1602.4L2419.7 1604.5L2421.7 1606.5L2423.8 1608.6L2425.9 1610.5L2428.0 1612.5L2430.0 1614.4L2432.1 1616.3L2434.3 1618.1L2436.4 1619.9L2438.6 1621.6L2440.8 1623.3L2443.0 1624.9L2445.3 1626.4L2447.7 1627.9L2450.1 1629.3L2452.5 1630.6L2455.1 1631.9L2457.7 1633.0L2460.4 1634.1L2463.1 1635.1L2465.9 1636.0L2468.8 1636.9L2471.7 1637.7L2474.6 1638.4L2477.6 1639.1L2480.6 1639.7L2483.6 1640.3L2486.7 1640.8L2489.8 1641.3L2492.8 1641.7L2495.9 1642.1L2499.0 1642.5L2502.1 1642.8L2505.1 1643.2L2508.2 1643.4L2511.3 1643.7L2514.3 1643.9L2517.4 1644.1L2520.4 1644.3L2523.4 1644.5L2526.5 1644.6L2529.5 1644.7L2532.5 1644.8L2535.6 1644.9L2538.6 1644.9L2541.6 1645.0L2544.6 1645.0L2547.6 1645.0L2550.7 1644.9L2553.7 1644.9L2556.7 1644.9L2559.7 1644.8L2562.7 1644.7L2565.7 1644.6L2568.7 1644.5L2571.7 1644.4L2574.7 1644.3L2577.7 1644.2L2580.7 1644.1L2583.7 1643.9L2586.7 1643.8L2589.6 1643.6L2592.6 1643.5L2595.6 1643.3L2598.6 1643.2L2601.6 1643.0L2604.6 1642.9L2607.6 1642.7L2610.6 1642.5L2613.6 1642.4L2616.6 1642.2L2619.5 1642.1L2622.5 1641.9L2625.5 1641.8L2628.5 1641.7L2631.5 1641.5L2634.5 1641.4L2637.5 1641.3L2640.5 1641.1L2643.5 1641.0L2646.5 1640.9L2649.5 1640.7L2652.5 1640.6L2655.5 1640.5L2658.4 1640.4L2661.4 1640.3L2664.4 1640.1L2667.4 1640.0L2670.4 1639.9L2673.4 1639.8L2676.4 1639.7L2679.4 1639.6L2682.4 1639.5L2685.4 1639.4L2688.4 1639.3L2691.4 1639.2L2694.4 1639.1L2697.4 1639.0L2700.4 1638.9L2703.4 1638.8L2706.4 1638.7L2709.4 1638.6L2712.4 1638.5L2715.4 1638.5L2718.4 1638.4L2721.4 1638.3L2724.4 1638.2L2727.4 1638.1L2730.4 1638.1L2733.4 1638.0L2736.4 1637.9L2739.4 1637.9L2742.4 1637.8L2745.4 1637.7L2748.4 1637.7L2751.4 1637.6L2754.4 1637.5L2757.4 1637.5L2760.4 1637.4L2763.4 1637.4L2766.4 1637.3L2769.4 1637.2L2772.4 1637.2L2775.4 1637.1L2778.4 1637.1L2781.4 1637.0L2784.4 1637.0L2787.4 1636.9L2790.4 1636.9L2793.4 1636.8L2796.4 1636.8L2799.4 1636.8L2802.4 1636.7L2805.4 1636.7L2808.4 1636.6L2811.4 1636.6L2814.4 1636.6L2817.4 1636.5L2820.4 1636.5L2823.4 1636.5L2826.5 1636.4L2829.5 1636.4L2832.5 1636.4L2835.5 1636.4L2838.5 1636.3L2841.5 1636.3L2844.5 1636.3L2847.5 1636.2L2850.5 1636.2L2853.5 1636.2L2856.5 1636.2L2859.5 1636.2L2862.5 1636.1L2865.5 1636.1L2868.5 1636.1L2871.5 1636.1L2874.6 1636.1L2877.6 1636.1L2880.6 1636.0L2883.6 1636.0L2886.6 1636.0L2889.6 1636.0L2892.6 1636.0L2895.6 1636.0L2898.6 1636.0L2901.6 1636.0L2904.6 1636.0L2907.6 1635.9L2910.7 1635.9L2913.7 1635.9L2916.7 1635.9L2919.7 1635.9L2922.7 1635.9L2925.7 1635.9L2928.7 1635.9L2931.7 1635.9L2934.7 1635.9L2937.7 1635.9L2940.7 1635.9L2943.8 1635.9L2946.8 1635.9L2949.8 1635.9L2952.8 1635.9L2955.8 1635.9L2958.8 1635.9L2961.8 1635.9L2964.8 1635.9L2967.8 1635.9L2970.8 1635.9L2973.9 1635.9L2976.9 1635.9L2979.9 1635.9L2982.9 1635.9L2985.9 1635.9L2988.9 1635.9L2991.9 1635.9L2994.9 1635.9L2997.9 1635.9L3001.0 1635.9L3004.0 1635.9L3007.0 1635.9L3010.0 1635.9L3013.0 1635.9L3016.0 1635.9L3019.0 1635.9L3022.0 1635.9L3025.0 1635.9L3028.1 1635.9L3031.1 1635.9L3034.1 1635.9L3037.1 1635.9L3040.1 1635.9L3043.1 1635.9L3046.1 1635.9L3049.1 1635.9L3052.1 1635.9L3055.2 1635.9L3058.2 1635.9L3061.2 1635.9L3064.2 1635.9L3067.2 1635.9L3070.2 1635.9L3073.2 1635.9L3076.2 1635.9L3079.2 1635.9L3082.3 1635.9L3085.3 1635.9L3088.3 1635.9L3091.3 1635.9L3094.3 1635.9L3097.3 1635.9L3100.3 1635.9L3103.3 1635.9L3106.3 1635.9L3109.4 1635.9L3112.4 1635.9L3115.4 1635.9L3118.4 1635.9L3121.4 1635.9L3124.4 1635.8L3127.4 1635.8L3130.4 1635.8L3133.4 1635.8L3136.5 1635.8L3139.5 1635.8L3142.5 1635.8L3145.5 1635.8L3148.5 1635.7L3151.5 1635.7L3154.5 1635.7L3157.5 1635.7L3160.5 1635.7L3163.5 1635.7L3166.6 1635.6L3169.6 1635.6L3172.6 1635.6L3175.6 1635.6L3178.6 1635.6L3181.6 1635.5L3184.6 1635.5L3187.6 1635.5L3190.6 1635.4L3193.6 1635.4L3196.7 1635.4L3199.7 1635.4L3202.7 1635.3L3205.7 1635.3L3208.7 1635.3L3211.7 1635.2L3214.7 1635.2L3217.7 1635.2L3220.7 1635.1L3223.7 1635.1L3226.7 1635.0L3229.8 1635.0L3232.8 1634.9L3235.8 1634.9L3238.8 1634.9L3241.8 1634.8L3244.8 1634.8L3247.8 1634.7L3250.8 1634.6L3253.8 1634.6L3256.8 1634.5L3259.8 1634.5L3262.8 1634.4L3265.8 1634.3L3268.8 1634.3L3271.9 1634.2L3274.9 1634.1L3277.9 1634.1L3280.9 1634.0L3283.9 1633.9L3286.9 1633.8L3289.9 1633.7L3292.9 1633.7L3295.9 1633.6L3298.9 1633.5L3301.9 1633.4L3304.9 1633.3L3307.9 1633.2L3310.9 1633.1L3313.9 1632.9L3316.9 1632.8L3319.9 1632.7L3322.9 1632.6L3325.9 1632.5L3328.9 1632.3L3331.9 1632.2L3334.9 1632.1L3337.9 1631.9L3340.9 1631.8L3343.9 1631.6L3346.9 1631.5L3349.9 1631.3L3352.9 1631.1L3355.9 1631.0L3358.9 1630.8L3361.9 1630.6L3364.9 1630.4L3367.9 1630.2L3370.9 1630.0L3373.9 1629.8L3376.8 1629.6L3379.8 1629.4L3382.8 1629.2L3385.8 1629.0L3388.8 1628.7L3391.8 1628.5L3394.8 1628.3L3397.8 1628.0L3400.8 1627.8L3403.8 1627.5L3406.7 1627.2L3409.7 1627.0L3412.7 1626.7L3415.7 1626.4L3418.7 1626.1L3421.7 1625.8L3424.7 1625.5L3427.6 1625.2L3430.6 1624.9L3433.6 1624.6L3436.6 1624.3L3439.6 1624.0L3442.6 1623.7L3445.5 1623.4L3448.5 1623.1L3451.5 1622.8L3454.5 1622.5L3457.5 1622.2L3460.5 1621.9L3463.5 1621.6L3466.5 1621.3L3469.5 1621.0L3472.5 1620.8L3475.5 1620.5L3478.5 1620.2L3481.4 1619.9L3484.4 1619.7L3487.5 1619.4L3490.5 1619.2L3493.5 1618.9L3496.5 1618.7L3499.5 1618.5L3502.5 1618.3L3505.5 1618.1L3508.5 1617.9L3511.5 1617.7L3514.6 1617.5L3517.6 1617.3L3520.6 1617.2L3523.6 1617.0L3526.7 1616.9L3529.7 1616.8L3532.8 1616.7L3535.8 1616.6L3538.8 1616.6L3541.9 1616.5L3544.9 1616.5L3548.0 1616.5L3551.0 1616.6L3554.0 1616.7L3556.9 1616.9L3559.9 1617.2L3562.8 1617.5L3565.7 1618.0L3568.5 1618.5L3571.3 1619.2L3574.0 1620.0L3576.7 1620.9L3579.3 1622.0L3581.9 1623.2L3584.4 1624.5L3586.8 1626.0L3589.1 1627.7L3591.4 1629.6L3593.5 1631.7L3595.6 1634.0L3597.6 1636.4L3599.4 1639.1L3601.2 1642.0L3603.0 1644.9L3604.7 1647.9L3606.3 1651.0L3608.0 1654.0L3609.6 1656.9L3611.3 1659.8L3613.0 1662.5L3614.7 1665.0L3616.5 1667.6L3618.2 1670.0L3620.0 1672.3L3621.7 1674.6L3623.4 1676.9L3625.1 1679.2L3626.8 1681.4L3628.5 1683.6L3630.1 1685.9L3631.7 1688.2L3633.3 1690.5L3634.7 1692.9L3636.2 1695.4L3637.6 1697.9L3638.9 1700.5L3640.3 1703.1L3641.6 1705.7L3642.9 1708.4L3644.2 1711.1L3645.6 1713.8L3646.9 1716.5L3648.3 1719.2L3649.8 1721.8L3651.2 1724.5L3652.8 1727.1L3654.4 1729.7L3656.1 1732.2L3657.9 1734.6L3659.8 1737.0L3661.8 1739.4L3663.9 1741.6L3666.1 1743.8L3668.5 1745.9L3670.9 1748.0L3673.5 1749.9L3676.0 1751.3L3678.5 1751.9L3680.9 1751.4L3683.1 1749.8L3685.1 1747.5L3686.9 1744.7L3688.6 1741.8L3690.1 1738.9L3691.5 1736.0L3692.8 1733.2L3694.0 1730.4L3695.1 1727.6L3696.1 1724.8L3697.1 1722.0L3697.9 1719.2L3698.8 1716.4L3699.6 1713.5L3700.3 1710.6L3701.1 1707.8L3701.7 1704.9L3702.4 1702.0L3703.0 1699.1L3703.6 1696.1L3704.2 1693.2L3704.8 1690.3L3705.3 1687.3L3705.9 1684.4L3706.4 1681.4L3706.9 1678.5L3707.4 1675.5L3707.8 1672.5L3708.3 1669.6L3708.7 1666.6L3709.1 1663.6L3709.5 1660.6L3709.9 1657.7L3710.3 1654.7L3710.7 1651.7L3711.1 1648.7L3711.4 1645.7L3711.8 1642.7L3712.1 1639.7L3712.5 1636.7L3712.8 1633.7L3713.2 1630.7L3713.5 1627.7L3713.8 1624.8L3714.2 1621.8L3714.5 1618.8L3714.8 1615.8L3715.1 1612.8L3715.5 1609.8L3715.8 1606.8L3716.1 1603.8L3716.4 1600.8L3716.7 1597.8L3717.0 1594.8L3717.3 1591.8L3717.6 1588.8L3717.9 1585.8L3718.2 1582.8L3718.5 1579.9L3718.7 1576.9L3719.0 1573.9L3719.3 1570.9L3719.6 1567.9L3719.9 1564.9L3720.1 1561.9L3720.4 1558.9L3720.7 1555.9L3720.9 1552.9L3721.2 1549.9L3721.4 1546.9L3721.7 1543.9L3721.9 1540.9L3722.2 1537.9L3722.4 1534.9L3722.7 1531.9L3722.9 1529.0L3723.2 1526.0L3723.4 1523.0L3723.7 1520.0L3723.9 1517.0L3724.1 1514.0L3724.4 1511.0L3724.6 1508.0L3724.8 1505.0L3725.0 1502.0L3725.3 1499.0L3725.5 1496.0L3725.7 1493.0L3725.9 1490.0L3726.1 1487.0L3726.3 1484.0L3726.6 1481.0L3726.8 1478.0L3727.0 1475.0L3727.2 1472.0L3727.4 1469.0L3727.6 1466.0L3727.8 1463.0L3728.0 1460.0L3728.2 1457.0L3728.4 1454.0L3728.6 1451.0L3728.8 1448.0L3729.0 1445.0L3729.2 1442.0L3729.4 1439.0L3729.5 1436.0L3729.7 1433.0L3729.9 1430.0L3730.1 1427.0L3730.3 1424.0L3730.5 1421.0L3730.7 1418.0L3730.8 1415.0L3731.0 1412.0L3731.2 1409.0L3731.4 1406.0L3731.6 1403.0L3731.8 1400.0L3731.9 1397.0L3732.1 1394.0L3732.3 1391.0L3732.5 1388.0L3732.6 1385.0L3732.8 1382.0L3733.0 1379.0L3733.2 1376.0L3733.3 1373.0L3733.5 1370.0L3733.7 1367.0L3733.9 1364.0L3734.0 1361.0L3734.2 1358.0L3734.4 1355.0L3734.5 1352.0L3734.7 1348.9L3734.9 1345.9L3735.1 1342.9L3735.2 1339.9L3735.4 1336.9L3735.6 1333.9L3735.7 1330.9L3735.9 1327.9L3736.1 1324.9L3736.3 1321.9L3736.4 1318.9L3736.6 1315.9L3736.8 1312.9L3736.9 1309.9L3737.1 1306.9L3737.3 1303.9L3737.5 1300.9L3737.6 1297.9L3737.8 1294.9L3738.0 1291.9L3738.2 1288.9L3738.3 1285.9L3738.5 1282.9L3738.7 1279.9L3738.9 1276.9L3739.1 1273.9L3739.2 1270.9L3739.4 1267.9L3739.6 1264.9L3739.8 1261.9L3740.0 1258.9L3740.2 1255.9L3740.4 1252.9L3740.5 1249.9L3740.7 1246.9L3740.9 1243.9L3741.1 1240.9L3741.3 1237.9" fill="none" stroke="#bf00bf" stroke-width="12.50" stroke-dasharray="46.25 20" stroke-linecap="butt" stroke-linejoin="round"/>
<rect x="2220.90" y="1182.70" width="1569.40" height="907.50" fill="none" stroke="#000" stroke-width="3.333" stroke-linejoin="miter"/>
<path d="M2269.90 2090.20v14.58M2760.37 2090.20v14.58M3250.84 2090.20v14.58M3741.31 2090.20v14.58M2220.90 1193.80h-14.58M2220.90 1415.40h-14.58M2220.90 1637.00h-14.58M2220.90 1858.60h-14.58M2220.90 2080.20h-14.58" stroke="#000" stroke-width="3.333" fill="none"/>
<g font-family='"DejaVu Sans","Liberation Sans",sans-serif' font-size="75.00" fill="#000">
<text x="2269.90" y="2176.77" text-anchor="middle">0</text>
<text x="2760.37" y="2176.77" text-anchor="middle">1</text>
<text x="3250.84" y="2176.77" text-anchor="middle">2</text>
<text x="3741.31" y="2176.77" text-anchor="middle">3</text>
<text x="2191.73" y="1221.40" text-anchor="end">40</text>
<text x="2191.73" y="1443.00" text-anchor="end">20</text>
<text x="2191.73" y="1664.60" text-anchor="end">0</text>
<text x="2191.73" y="1886.20" text-anchor="end">−20</text>
<text x="2191.73" y="2107.80" text-anchor="end">−40</text>
</g>
<text x="3005.90" y="2278.80" text-anchor="middle" font-family='"DejaVu Sans","Liberation Sans",sans-serif' font-size="91.67">t</text>
<text transform="translate(1996.00 1638.25) rotate(-90)" text-anchor="middle" font-family='"DejaVu Sans","Liberation Sans",sans-serif' font-size="91.67">Control, <tspan font-style="italic">λ</tspan><tspan font-style="italic" font-size="64.17" dy="15">t</tspan></text>
<text x="2239.20" y="1291.50" font-family='"DejaVu Sans","Liberation Sans",sans-serif' font-weight="bold" font-size="92.58">(e)</text>
</g>
<path d="M362.20 2354.50h183.33" stroke="#1f77b4" stroke-width="12.50" stroke-linecap="square" fill="none"/>
<text x="618.50" y="2386.30" font-family='"DejaVu Sans","Liberation Sans",sans-serif' font-size="91.67">direct optimisation</text>
<path d="M362.20 2489.20h183.33" stroke="#ff7f0e" stroke-width="12.50" stroke-dasharray="46.25 20" fill="none"/>
<text x="618.50" y="2520.40" font-family='"DejaVu Sans","Liberation Sans",sans-serif' font-size="91.67">centre manifold (g = 0.01)</text>
<path d="M2023.30 2354.50h183.33" stroke="#2ca02c" stroke-width="12.50" stroke-dasharray="46.25 20" fill="none"/>
<text x="2279.80" y="2386.30" font-family='"DejaVu Sans","Liberation Sans",sans-serif' font-size="91.67">centre manifold (g = 0.001)</text>
<path d="M2023.30 2489.20h183.33" stroke="#bf00bf" stroke-width="12.50" stroke-dasharray="46.25 20" fill="none"/>
<text x="2279.80" y="2520.40" font-family='"DejaVu Sans","Liberation Sans",sans-serif' font-size="91.67">centre manifold (g = 0.0001)</text>
</svg></body></html>
